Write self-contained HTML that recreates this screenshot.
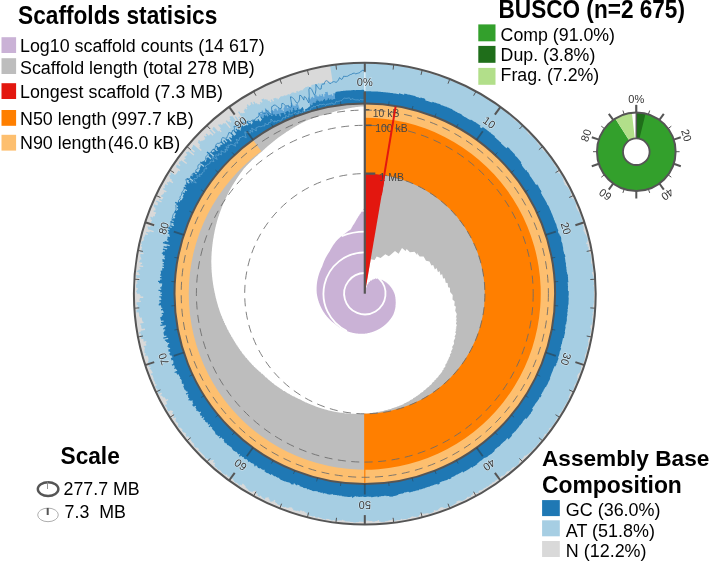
<!DOCTYPE html>
<html><head><meta charset="utf-8"><title>Snail plot</title>
<style>html,body{margin:0;padding:0;background:#fff}svg{display:block}text{font-family:"Liberation Sans",sans-serif}</style>
</head><body><svg width="709" height="562" viewBox="0 0 709 562"><circle cx="364.8" cy="293.7" r="230.9" fill="#a6cee3"/>
<circle cx="364.8" cy="293.7" r="190.3" fill="#bdbdbd"/>
<path d="M364.8,293.7L370.7,259.2L374.6,260.1L376.7,256.6L380.6,258.1L385.3,254.2L388.9,256.3L395,250.9L398.6,253.7L402,247.9L405.6,251.1L406.7,249L409.9,252.2L414.5,251.7L417.3,255.2L416.8,252.7L419.6,256.4L423.6,256.5L426,260.7L429.5,261.4L431.4,265.5L433.2,265L434.9,269.4L436.6,268.1L438,272.2L439.5,271L440.6,275.2L442.1,274L443.1,278.4L444.9,278.2L445.7,282.7L447.6,283L448.1,287.2L449.9,287.7L450.1,292L452.7,295L452.5,299.4L454.7,301.6L454.3,305.6L455.9,306.8L455.2,310.8L456.8,314L455.8,318L456.9,317.3L455.8,321.3L457,320.3L455.9,323.7L456.9,325L455.6,328.4L456.8,327.1L455.4,330.5L456.6,329.2L455.2,332.6L456.1,333.5L454.5,336.9L455.4,337.6L453.7,340.9L454.1,343.8L452.1,347.1L452.7,348.6L451,351.4L451.6,352.2L449.7,354.9L450.3,355.7L448.3,358.4L449.2,358.3L447.2,360.9L448.5,359.9L446.4,362.5L447.5,362.2L445.3,364.8L445.4,366.4L443.1,368.9L444.2,368.7L441.8,371.2L442.5,371.6L440,374L441.4,373L438.9,375.4L438.1,377.1L435.5,379.3L436.5,378.9L433.8,381.1L434.6,381.1L432.3,382.8L431.5,384.2L429.2,385.9L429.2,386.4L426.8,388L425.9,389.3L423.5,390.8L423.1,391.7L420.6,393.1L419.9,394.1L417.4,395.5L418.5,395.2L415.9,396.5L415.7,397.1L413.1,398.3L413,398.9L410.4,400.1L409.1,401.2L406.4,402.3L406.7,402.6L404,403.6L403.5,404.2L400.7,405.2L402,404.9L399.2,405.8L399.3,405.9L396.5,406.8L396.9,406.9L394,407.6L395,407.5L392.1,408.3L390.8,408.9L387.9,409.5L388,409.7L385.1,410.2L383.2,410.9L380.2,411.4L379.7,411.7L376.7,412L376,412.4L373.1,412.6L372.3,412.9L369.3,413.1L368.4,413.4L365.3,413.4L366.3,413.6L363.3,413.6L363.2,413.8L360.2,413.7L360.8,413.9L357.8,413.7L357.8,413.9L354.8,413.7L356,413.9L353,413.7L350.9,413.8L347.9,413.4L348.6,413.6L346.4,413.3L345.7,413.4L343.4,413L343.7,413.1L341.4,412.7L340.2,412.7L337.9,412.2L337.2,412.2L335,411.7L335.7,412L333.5,411.4L332.3,411.3L330.1,410.7L328.7,410.5L326.5,409.7L325.1,409.5L322.9,408.8L322.5,408.8L320.3,408L321,408.3L318.8,407.5L319.4,407.8L317.2,406.9L315.8,406.6L313.7,405.6L313.3,405.6L311.2,404.6L311.8,405L309.7,404L308.4,403.6L306.3,402.5L305.7,402.4L303.7,401.2L303.2,401.2L301.2,400L301.2,400.1L299.2,398.9L299.1,399.2L297.1,397.9L297.4,398.4L295.4,397.1L296.2,397.9L294.3,396.6L292.9,396.2L291,394.9L290.7,395L288.8,393.6L288.3,393.7L286.4,392.2L286.4,392.6L284.6,391.1L283.5,390.9L281.7,389.3L282.5,390.2L280.7,388.6L280.6,388.9L278.8,387.3L279.5,388.2L277.7,386.6L278.2,387.3L276.4,385.7L274.9,384.9L273.2,383.2L272.4,383L270.8,381.3L270.5,381.5L268.9,379.7L268.4,379.7L266.8,377.8L265.5,377.2L264,375.3L263.9,375.6L262.4,373.7L261.6,373.7L260.1,371.7L259.1,371.5L257.6,369.5L257.3,369.9L256.4,368.5L255.9,368.6L255,367.2L254.2,366.9L253.3,365.5L252.3,365L251.4,363.6L251.5,364.1L250.6,362.7L249.6,362.1L248.8,360.6L249.1,361.4L248.2,360L247.5,359.6L246.6,358.1L245.8,357.7L245,356.2L245.1,356.8L244.3,355.3L244,355.4L243.2,353.9L242.4,353.4L241.7,351.9L241.9,352.7L241.1,351.1L240.6,350.9L239.9,349.4L239.1,348.8L238.4,347.3L238,347.2L237.3,345.6L236.6,345.2L236,343.6L235.9,344.1L235.3,342.4L235.2,342.9L234.6,341.3L234.3,341.5L233.7,339.9L233.7,340.4L233.1,338.8L232.8,339L232.3,337.4L231.3,336.5L230.8,334.8L230.2,334.6L229.7,332.9L229.4,333.2L229,331.5L228.7,331.9L228.3,330.2L227.3,329.2L226.9,327.5L226.5,327.5L226.1,325.8L225.1,324.8L224.8,323L224.3,322.9L223.9,321.1L223.4,321L223.1,319.2L222.3,318.3L222,316.5L221.4,315.9L221.2,315L221,314.8L220.8,313.9L220.6,313.9L220.5,313L220.1,312.6L220,311.7L219.8,311.7L219.7,310.8L219.3,310.3L219.2,309.4L219.2,309.8L219.1,308.8L218.9,308.8L218.8,307.9L218.5,307.8L218.4,306.9L218.1,306.4L218,305.4L217.8,305.6L217.8,304.7L217.5,304.3L217.4,303.4L217.1,303.1L217.1,302.2L216.8,301.8L216.7,300.9L216.5,300.7L216.4,299.8L216.1,299.1L216,298.2L215.9,298.3L215.8,297.4L215.6,297.4L215.6,296.5L215.5,296.7L215.5,295.8L215.3,296.2L215.3,295.2L215.2,295.5L215.2,294.5L214.9,294L214.9,293L214.5,292.6L214.6,291.6L214.4,292L214.4,291L214.2,290.8L214.2,289.8L214,289.8L214,288.8L213.8,288.6L213.8,287.7L213.5,287.4L213.6,286.4L213.4,286.5L213.4,285.6L213.1,284.9L213.2,284L213,283.9L213,283L212.8,282.7L212.9,281.8L212.6,281.5L212.7,280.5L212.5,280.8L212.6,279.8L212.4,280.2L212.5,279.3L212.3,279.2L212.4,278.3L212.2,277.9L212.3,276.9L212,276.4L212.1,275.4L211.9,275.1L212,274.1L211.8,274.4L211.9,273.5L211.7,272.8L211.8,271.9L211.6,271.4L211.7,270.4L211.5,269.9L211.6,268.9L211.4,268.7L211.6,267.8L211.4,267.1L211.5,266.2L211.3,266.6L211.5,265.6L211.3,266L211.5,265.1L211.3,265.5L211.5,264.5L211.3,264.7L211.5,263.7L211.3,263.9L211.4,262.9L211.2,263.2L211.4,262.2L211.2,262L211.4,261L211.2,261.4L211.4,260.5L211.2,260.2L211.5,259.3L211.3,259.5L211.5,258.6L211.3,258.2L211.5,257.2L211.3,257.7L211.5,256.7L211.3,256.8L211.6,255.8L211.4,255.1L211.7,254.2L211.5,254L211.7,253L211.6,252.5L211.8,251.5L211.7,251.2L212,250.2L211.8,249.9L212.1,249L211.9,249.2L212.1,248.2L212,248L212.3,247L212,247.4L212.3,246.5L212.2,245.9L212.5,245L212.4,244.3L212.7,243.3L212.6,242.7L212.9,241.7L212.7,242.1L213,241.2L212.8,241.2L213.1,240.3L212.9,240.3L213.2,239.4L213,239.7L213.4,238.7L213.2,238.4L213.6,237.4L213.5,236.9L213.8,236L213.6,236L214,235.1L213.9,234.4L214.3,233.5L214.2,233L214.6,232L214.3,232.3L214.7,231.3L214.6,230.8L215,229.9L215,229.3L215.4,228.3L215.1,228.5L215.5,227.6L215.4,227.3L215.8,226.4L215.7,226L216.1,225.1L216,224.7L216.5,223.8L216.2,224.1L216.6,223.2L216.5,222.8L217,221.9L216.9,221.5L217.3,220.6L217.3,220L217.8,219.1L217.8,218.6L218.2,217.6L218,217.7L218.5,216.7L218.5,216.3L219,215.4L219,214.8L219.5,213.8L219.6,213.2L220.1,212.3L219.8,212.5L220.3,211.6L220,212L220.5,211.1L220.5,210.7L221,209.8L220.7,209.9L221.3,209L221.2,208.8L221.7,207.9L221.8,207.1L222.4,206.2L222.2,206.2L222.7,205.3L222.5,205.4L223.1,204.5L222.9,204.4L223.5,203.5L223.5,203.1L224,202.2L223.7,202.5L224.3,201.6L224.1,201.6L224.7,200.7L224.4,200.9L225,200L225,199.6L225.6,198.8L225.7,198.2L226.3,197.3L226.1,197.3L226.7,196.4L226.6,196.3L227.2,195.5L227.1,195.2L227.7,194.4L227.5,194.5L228.1,193.6L227.8,193.7L228.5,192.9L228.3,192.9L228.9,192L228.8,191.8L229.4,191L229.1,191.3L229.7,190.4L229.8,189.9L230.5,189.1L230.5,188.8L231.1,188L230.9,188L231.6,187.2L231.2,187.4L231.9,186.6L232,186.1L232.7,185.3L232.4,185.5L233.1,184.7L232.7,184.9L233.4,184.1L233.1,184.3L233.8,183.5L233.5,183.7L234.1,182.9L234.4,182.3L235.1,181.4L234.8,181.5L235.6,180.7L235.4,180.7L236.1,179.9L236.2,179.3L237,178.5L237,178.2L237.7,177.4L237.4,177.5L238.2,176.7L238.1,176.6L238.8,175.8L239,175.2L239.8,174.4L239.6,174.3L240.4,173.6L240.5,173.1L241.3,172.4L240.9,172.6L241.7,171.8L241.8,171.4L242.6,170.6L242.7,170.1L243.5,169.3L243.7,168.8L244.5,168L244.7,167.7L245.5,167L245.4,167L246.2,166.2L245.8,166.5L246.6,165.8L246.7,165.6L247.5,164.9L247.7,164.5L248.6,163.8L248.3,163.9L249.1,163.2L248.9,163.3L249.8,162.6L249.8,162.4L250.7,161.7L250.9,161.3L251.8,160.6L252.2,160.1L253,159.4L252.7,159.6L253.5,158.9L253.3,159.1L254.1,158.4L254.4,158L255.3,157.3L255.5,157L256.3,156.4L256.6,156L257.5,155.4L258,154.8L258.9,154.1L259.4,153.6L260.2,153L260.6,152.6L261.5,151.9L261.8,151.5L262.7,150.9L262.6,150.8L263.5,150.1L263.7,149.8L264.6,149.2L264.3,149.3L265.2,148.6L265.4,148.2L266.3,147.6L266.6,147.2L267.5,146.5L267.7,146.1L268.7,145.5L268.6,145.4L269.6,144.8L269.4,144.7L270.4,144.1L270.3,144L271.2,143.4L270.8,143.6L271.7,143L272.1,142.5L273,141.9L273.1,141.7L274,141.1L273.9,141L274.9,140.4L275,140.2L275.9,139.6L276.2,139.3L277.1,138.7L277,138.6L278,138.1L278.4,137.6L279.4,137L279.8,136.5L280.8,136L280.7,135.9L281.7,135.3L281.3,135.4L282.3,134.9L282.7,134.5L283.7,134L284.2,133.4L285.2,132.9L284.9,133L285.9,132.5L286.2,132.1L287.2,131.6L287.6,131.2L288.6,130.7L289.1,130.2L290.2,129.7L289.7,129.8L290.8,129.3L290.3,129.4L291.4,129L292,128.4L293,128L292.6,128L293.6,127.6L293.3,127.6L294.4,127.2L294.5,126.9L295.5,126.5L295.5,126.3L296.6,125.9L296.9,125.5L298,125.1L297.6,125.1L298.7,124.7L299.2,124.2L300.3,123.8L300,123.8L301.1,123.4L301.5,123L302.5,122.7L302.1,122.7L303.1,122.3L303.1,122.2L304.2,121.8L303.7,121.9L304.8,121.5L304.6,121.4L305.7,121L305.5,121L306.6,120.6L307,120.4L308.1,120L308.1,120L309.2,119.6L308.7,119.7L309.8,119.4L310.5,119.1L311.6,118.7L312.2,118.5L313.3,118.1L314,117.8L315.1,117.5L314.8,117.6L315.9,117.2L315.9,117.2L317,116.9L316.7,116.9L317.9,116.6L317.5,116.7L318.6,116.4L318,116.5L319.2,116.2L319.3,116.1L320.4,115.8L320,115.9L321.1,115.6L320.8,115.7L321.9,115.4L322.5,115.2L323.6,114.9L323.7,114.8L324.8,114.6L324.5,114.6L325.6,114.3L325.9,114.2L327,114L326.8,113.9L328,113.7L328.1,113.5L329.2,113.3L329,113.2L330.1,113L330.3,112.9L331.4,112.6L331.7,112.4L332.8,112.2L332.9,112.1L334.1,111.9L334,111.8L335.2,111.6L335.7,111.3L336.8,111.1L337.4,110.8L338.5,110.7L338.2,110.6L339.4,110.5L339,110.4L340.1,110.3L339.7,110.3L340.8,110.1L341.6,109.8L342.7,109.7L343.4,109.4L344.6,109.2L344.3,109.2L345.5,109.1L346.2,108.8L347.4,108.7L347.1,108.6L348.3,108.5L348.4,108.3L349.6,108.2L349.7,108.1L350.8,108L351.5,107.8L352.7,107.7L352.1,107.6L353.3,107.6L353.2,107.5L354.3,107.4L354.6,107.2L355.8,107.2L355.3,107.1L356.4,107.1L356.2,107L357.3,107L357.4,106.9L358.6,106.8L359.2,106.7L360.4,106.6L360.9,106.5L362.1,106.5L362.6,106.4L363.8,106.4L364.3,106.2L364.8,106.2Z" fill="#ffffff"/>
<path d="M364.8,103.4A190.3,190.3 0 0 1 396.9,106.1L364.8,293.7Z" fill="#e3170f"/>
<path d="M364.8,103.4A190.3,190.3 0 0 1 364.8,484L364.8,413.7A120,120 0 0 0 364.8,173.7Z" fill="#ff7f00"/>
<path d="M364.8,103.4A190.3,190.3 0 1 1 252.9,139.7L261.3,151.3A176,176 0 1 0 364.8,117.7Z" fill="#fdbf6f"/>
<line x1="364.8" y1="413.7" x2="364.8" y2="484" stroke="#ff7f00" stroke-width="1.2"/>
<circle cx="364.8" cy="293.7" r="183.6" fill="none" stroke="#6a6a6a" stroke-width="0.85" stroke-dasharray="8 5.5"/>
<circle cx="364.8" cy="293.7" r="168.4" fill="none" stroke="#6a6a6a" stroke-width="0.85" stroke-dasharray="8 5.5"/>
<circle cx="364.8" cy="293.7" r="120.1" fill="none" stroke="#6a6a6a" stroke-width="0.85" stroke-dasharray="8 5.5"/>
<path d="M364.8,293.7L364.8,293.7L364.8,293.7L365.9,287.6L365.9,287.6L365.9,287.6L366,287.6L366,287.6L366,287.6L366,287.6L366,287.6L366,287.6L366.1,287.6L366.1,287.6L366.1,287.6L366.1,287.6L366.2,287.6L366.2,287.6L366.2,287.6L366.2,287.6L366.2,287.6L366.2,287.6L366.3,287.6L366.3,287.6L366.3,287.7L366.3,287.7L366.3,287.7L366.3,287.7L366.4,287.7L366.4,287.7L366.4,287.7L367.4,284.2L367.4,284.2L367.4,284.2L367.5,284.2L367.5,284.2L367.6,284.2L367.6,284.2L367.6,284.2L367.6,284.2L367.7,284.3L367.7,284.3L367.7,284.3L367.7,284.3L367.8,284.3L367.8,284.3L367.9,284.3L367.9,284.3L367.9,284.3L367.9,284.3L368,284.3L368.8,281.9L368.9,281.9L368.9,281.9L368.9,281.9L368.9,281.9L369,282L369,282L369.1,282L369.1,282L369.2,282L369.2,282L369.2,282.1L369.2,282.1L369.3,282.1L369.3,282.1L369.4,282.1L369.4,282.1L369.5,282.1L369.5,282.1L369.5,282.2L369.5,282.2L369.6,282.2L370.4,280.4L370.5,280.4L370.5,280.4L370.5,280.4L370.5,280.4L370.6,280.5L370.6,280.5L370.7,280.5L370.7,280.5L370.8,280.5L370.8,280.5L370.9,280.6L370.9,280.6L371,280.6L371,280.6L371,280.6L371,280.6L371.1,280.7L371.1,280.7L371.2,280.7L371.2,280.7L371.3,280.8L371.3,280.8L371.4,280.8L371.4,280.8L371.4,280.8L372.2,279.4L372.3,279.4L372.3,279.4L372.4,279.5L372.4,279.5L372.5,279.5L372.5,279.5L372.6,279.6L372.6,279.6L372.6,279.6L372.6,279.6L372.7,279.7L372.7,279.7L372.8,279.7L372.8,279.7L372.9,279.8L372.9,279.8L373,279.8L373,279.8L373.1,279.9L373.8,278.7L373.9,278.8L373.9,278.8L374,278.8L374,278.8L374.1,278.9L374.1,278.9L374.2,278.9L374.2,278.9L374.3,279L374.3,279L374.4,279L374.4,279L374.5,279.1L374.5,279.1L374.5,279.2L374.5,279.2L374.6,279.2L375.3,278.2L375.4,278.3L375.4,278.3L375.5,278.4L375.5,278.4L375.6,278.4L375.6,278.4L375.7,278.5L375.7,278.5L375.8,278.6L375.8,278.6L375.9,278.6L375.9,278.6L376,278.7L376,278.7L376.1,278.8L376.1,278.8L376.2,278.9L376.2,278.9L376.3,278.9L376.3,278.9L376.4,279L376.4,279L376.4,279.1L376.4,279.1L376.5,279.1L377.2,278.3L377.3,278.4L377.3,278.4L377.4,278.5L377.4,278.5L377.5,278.6L377.5,278.6L377.6,278.6L377.6,278.6L377.7,278.7L377.7,278.7L377.8,278.8L377.8,278.8L377.9,278.9L377.9,278.9L378,279L378,279L378,279L378,279L378.1,279.1L378.1,279.1L378.2,279.2L378.2,279.2L378.3,279.3L378.3,279.3L378.4,279.4L379.1,278.7L379.2,278.8L379.2,278.8L379.3,278.9L379.3,278.9L379.3,279L379.3,279L379.4,279.1L379.4,279.1L379.5,279.2L379.5,279.2L379.6,279.2L379.6,279.2L379.7,279.3L379.7,279.3L379.8,279.4L379.8,279.4L379.9,279.5L379.9,279.5L380,279.6L380,279.6L380.1,279.7L380.1,279.7L380.2,279.8L380.8,279.2L380.9,279.3L380.9,279.3L381,279.4L381,279.4L381.1,279.5L381.1,279.5L381.1,279.6L381.1,279.6L381.2,279.8L381.2,279.8L381.3,279.9L381.3,279.9L381.4,280L381.4,280L381.5,280.1L381.5,280.1L381.6,280.2L381.6,280.2L381.7,280.3L382.3,279.8L382.4,279.9L382.4,279.9L382.5,280L382.5,280L382.5,280.1L382.5,280.1L382.6,280.2L382.6,280.2L382.7,280.3L382.7,280.3L382.8,280.5L382.8,280.5L382.9,280.6L382.9,280.6L383,280.7L383,280.7L383,280.8L383,280.8L383.1,280.9L383.7,280.5L383.8,280.6L383.8,280.6L383.9,280.7L383.9,280.7L384,280.9L384,280.9L384,281L384,281L384.1,281.1L384.1,281.1L384.2,281.2L384.2,281.2L384.3,281.3L384.3,281.3L384.3,281.5L384.3,281.5L384.4,281.6L385,281.2L385.1,281.4L385.1,281.4L385.1,281.5L385.1,281.5L385.2,281.6L385.2,281.6L385.3,281.8L385.3,281.8L385.4,281.9L385.4,281.9L385.4,282L385.4,282L385.5,282.1L385.5,282.1L385.6,282.3L385.6,282.3L385.7,282.4L386.2,282.1L386.3,282.2L386.3,282.2L386.4,282.4L386.4,282.4L386.4,282.5L386.4,282.5L386.5,282.6L386.5,282.6L386.6,282.8L386.6,282.8L386.6,282.9L386.6,282.9L386.7,283.1L386.7,283.1L386.8,283.2L387.3,282.9L387.4,283.1L387.4,283.1L387.4,283.2L387.4,283.2L387.5,283.4L387.5,283.4L387.5,283.5L387.5,283.5L387.6,283.7L387.6,283.7L387.7,283.8L387.7,283.8L387.7,283.9L387.7,283.9L387.8,284.1L388.3,283.9L388.4,284L388.4,284L388.4,284.2L388.4,284.2L388.5,284.3L388.5,284.3L388.5,284.5L388.5,284.5L388.6,284.6L388.6,284.6L388.7,284.8L388.7,284.8L388.7,284.9L389.2,284.7L389.2,284.9L389.2,284.9L389.3,285.1L389.3,285.1L389.4,285.2L389.4,285.2L389.4,285.4L389.4,285.4L389.5,285.5L389.5,285.5L389.5,285.7L389.5,285.7L389.6,285.8L390,285.7L390.1,285.8L390.1,285.8L390.1,286L390.1,286L390.2,286.2L390.2,286.2L390.2,286.3L390.2,286.3L390.3,286.5L390.3,286.5L390.3,286.6L390.3,286.6L390.4,286.8L390.8,286.7L390.8,286.8L390.8,286.8L390.9,287L390.9,287L390.9,287.2L390.9,287.2L391,287.3L391,287.3L391,287.5L391,287.5L391,287.7L391.5,287.6L391.5,287.7L391.5,287.7L391.5,287.9L391.5,287.9L391.6,288.1L391.6,288.1L391.6,288.2L391.6,288.2L391.7,288.4L391.7,288.4L391.7,288.6L392.1,288.5L392.1,288.7L392.1,288.7L392.2,288.8L392.2,288.8L392.2,289L392.2,289L392.2,289.2L392.2,289.2L392.2,289.4L392.2,289.4L392.3,289.5L392.7,289.5L392.7,289.6L392.7,289.6L392.7,289.8L392.7,289.8L392.7,290L392.7,290L392.8,290.2L392.8,290.2L392.8,290.3L393.2,290.3L393.2,290.5L393.2,290.5L393.2,290.7L393.2,290.7L393.2,290.8L393.2,290.8L393.2,291L393.2,291L393.3,291.2L393.3,291.2L393.3,291.4L393.6,291.3L393.7,291.5L393.7,291.5L393.7,291.7L393.7,291.7L393.7,291.9L393.7,291.9L393.7,292.1L393.7,292.1L393.7,292.2L394.1,292.2L394.1,292.4L394.1,292.4L394.1,292.6L394.1,292.6L394.1,292.8L394.1,292.8L394.1,293L394.1,293L394.1,293.1L394.4,293.1L394.4,293.3L394.4,293.3L394.4,293.5L394.4,293.5L394.4,293.7L394.4,293.7L394.4,293.9L394.4,293.9L394.4,294.1L394.8,294.1L394.8,294.3L394.8,294.3L394.7,294.5L394.7,294.5L394.7,294.6L394.7,294.6L394.7,294.8L394.7,294.8L394.7,295L395,295L395,295.2L395,295.2L395,295.4L395,295.4L395,295.6L395,295.6L395,295.8L395,295.8L395,296L395,296L395,296.2L395.3,296.2L395.3,296.4L395.3,296.4L395.2,296.6L395.2,296.6L395.2,296.8L395.2,296.8L395.2,297L395.2,297L395.2,297.2L395.5,297.2L395.5,297.4L395.5,297.4L395.4,297.6L395.4,297.6L395.4,297.8L395.4,297.8L395.4,298L395.4,298L395.3,298.1L395.3,298.1L395.3,298.3L395.6,298.4L395.6,298.6L395.6,298.6L395.5,298.8L395.5,298.8L395.5,299L395.5,299L395.5,299.2L395.5,299.2L395.4,299.3L395.7,299.4L395.7,299.6L395.7,299.6L395.6,299.8L395.6,299.8L395.6,300L395.6,300L395.6,300.2L395.6,300.2L395.5,300.4L395.8,300.4L395.7,300.6L395.7,300.6L395.7,300.8L395.7,300.8L395.6,301L395.6,301L395.6,301.2L395.6,301.2L395.6,301.4L395.8,301.5L395.8,301.6L395.8,301.6L395.7,301.8L395.7,301.8L395.7,302L395.7,302L395.6,302.2L395.8,302.3L395.8,302.5L395.8,302.5L395.7,302.7L395.7,302.7L395.7,302.9L395.7,302.9L395.6,303.1L395.6,303.1L395.6,303.3L395.8,303.3L395.7,303.5L395.7,303.5L395.7,303.7L395.7,303.7L395.6,303.9L395.6,303.9L395.5,304.1L395.8,304.2L395.7,304.4L395.7,304.4L395.6,304.6L395.6,304.6L395.6,304.8L395.6,304.8L395.5,305L395.7,305.1L395.6,305.2L395.6,305.2L395.6,305.4L395.6,305.4L395.5,305.6L395.5,305.6L395.4,305.8L395.4,305.8L395.3,306L395.6,306.1L395.5,306.3L395.6,306.3L395.5,306.5L395.5,306.5L395.5,306.7L395.5,306.8L395.4,307L395.5,307L395.4,307.2L395.4,307.2L395.4,307.4L395.4,307.4L395.3,307.6L395.4,307.6L395.3,307.8L395.3,307.8L395.2,308L395.3,308L395.2,308.2L395.2,308.3L395.2,308.5L395.2,308.5L395.1,308.7L395.2,308.7L395.1,308.9L395.1,308.9L395,309.1L395.1,309.1L395,309.3L395,309.3L394.9,309.5L395,309.6L394.9,309.7L394.9,309.8L394.8,310L394.9,310L394.8,310.2L394.8,310.2L394.7,310.4L394.7,310.4L394.6,310.6L394.7,310.6L394.6,310.8L394.6,310.8L394.5,311L394.6,311.1L394.5,311.2L394.5,311.3L394.4,311.5L394.4,311.5L394.3,311.7L394.4,311.7L394.3,311.9L394.3,311.9L394.2,312.1L394.2,312.1L394.1,312.3L394.2,312.3L394,312.5L394.1,312.6L394,312.7L394,312.8L393.9,312.9L393.9,313L393.8,313.2L393.9,313.2L393.7,313.4L393.8,313.4L393.7,313.6L393.7,313.6L393.6,313.8L393.6,313.8L393.5,314L393.5,314L393.4,314.2L393.5,314.3L393.3,314.4L393.4,314.5L393.2,314.6L393.3,314.7L393.2,314.9L393.2,314.9L393.1,315.1L393.1,315.1L392.9,315.3L393,315.3L392.8,315.4L392.9,315.5L392.7,315.6L392.7,315.7L392.6,315.8L392.6,315.9L392.5,316L392.5,316L392.4,316.2L392.4,316.2L392.3,316.4L392.3,316.4L392.1,316.6L392.2,316.6L392,316.8L392,316.8L391.9,317L391.9,317L391.8,317.2L391.8,317.2L391.6,317.4L391.7,317.4L391.5,317.6L391.5,317.6L391.4,317.7L391.4,317.8L391.3,317.9L391.3,318L391.1,318.1L391.2,318.1L391,318.3L391,318.3L390.9,318.5L390.9,318.5L390.7,318.7L390.8,318.7L390.6,318.9L390.6,318.9L390.5,319L390.5,319.1L390.3,319.2L390.3,319.2L390.2,319.4L390.2,319.4L390,319.6L390.1,319.6L389.9,319.8L389.9,319.8L389.8,319.9L389.8,320L389.6,320.1L389.6,320.2L389.5,320.3L389.5,320.3L389.3,320.5L389.3,320.5L389.2,320.7L389.2,320.7L389,320.8L389,320.9L388.9,321L388.9,321L388.7,321.2L388.7,321.2L388.6,321.4L388.6,321.4L388.4,321.5L388.4,321.6L388.3,321.7L388.3,321.7L388.1,321.9L388.1,321.9L387.9,322L388,322.1L387.8,322.2L387.8,322.2L387.6,322.4L387.6,322.4L387.5,322.5L387.5,322.6L387.3,322.7L387.3,322.7L387.1,322.9L387.2,322.9L387,323L387,323.1L386.8,323.2L386.8,323.2L386.6,323.4L386.7,323.4L386.5,323.5L386.5,323.6L386.3,323.7L386.3,323.7L386.1,323.9L386.2,323.9L386,324L386,324L385.8,324.2L385.8,324.2L385.6,324.3L385.6,324.4L385.4,324.5L385.5,324.5L385.3,324.6L385.3,324.7L385.1,324.8L385.1,324.8L384.9,324.9L384.9,325L384.7,325.1L384.7,325.1L384.5,325.2L384.6,325.3L384.4,325.4L384.4,325.4L384.2,325.5L384.2,325.6L384,325.7L384,325.7L383.8,325.8L383.8,325.9L383.6,326L383.6,326L383.4,326.1L383.4,326.2L383.2,326.3L383.3,326.3L383.1,326.4L383.1,326.4L382.9,326.6L382.9,326.6L382.7,326.7L382.7,326.7L382.5,326.8L382.5,326.9L382.3,327L382.3,327L382.1,327.1L382.1,327.1L381.9,327.2L381.9,327.3L381.7,327.4L381.7,327.4L381.5,327.5L381.5,327.5L381.3,327.6L381.3,327.7L381.1,327.8L381.1,327.8L380.9,327.9L380.9,327.9L380.7,328L380.7,328.1L380.5,328.2L380.5,328.2L380.3,328.3L380.3,328.3L380.1,328.4L380.1,328.4L379.9,328.5L379.9,328.6L379.7,328.7L379.7,328.7L379.5,328.8L379.5,328.8L379.3,328.9L379.3,328.9L379,329L379.1,329L378.8,329.1L378.8,329.2L378.6,329.3L378.6,329.3L378.4,329.4L378.4,329.4L378.2,329.5L378.2,329.5L378,329.6L378,329.6L377.8,329.7L377.8,329.7L377.5,329.8L377.6,329.8L377.3,329.9L377.3,330L377.1,330L377.1,330.1L376.9,330.1L376.9,330.2L376.7,330.2L376.7,330.3L376.5,330.3L376.5,330.4L376.2,330.4L376.2,330.5L376,330.5L376,330.6L375.8,330.6L375.8,330.7L375.6,330.7L375.6,330.8L375.3,330.8L375.3,330.9L375.1,330.9L375.1,331L374.9,331L374.9,331.1L374.7,331.1L374.7,331.2L374.4,331.2L374.4,331.2L374.2,331.3L374.2,331.3L374,331.4L374,331.4L373.7,331.5L373.8,331.5L373.5,331.6L373.5,331.6L373.3,331.6L373.3,331.7L373.1,331.7L373.1,331.8L372.8,331.8L372.8,331.8L372.6,331.9L372.6,331.9L372.4,332L372.4,332L372.1,332L372.1,332.1L371.9,332.1L371.9,332.2L371.6,332.2L371.6,332.2L371.4,332.3L371.4,332.3L371.2,332.3L371.2,332.4L370.9,332.4L370.9,332.4L370.7,332.5L370.7,332.5L370.5,332.5L370.5,332.6L370.2,332.6L370.2,332.6L370,332.7L370,332.7L369.7,332.7L369.7,332.8L369.5,332.8L369.5,332.8L369.2,332.9L369.3,332.9L369,332.9L369,332.9L368.8,333L368.8,333L368.5,333L368.5,333.1L368.3,333.1L368.3,333.1L368,333.1L368,333.2L367.8,333.2L367.8,333.2L367.5,333.2L367.5,333.3L367.3,333.3L367.3,333.3L367,333.3L367,333.4L366.8,333.4L366.8,333.4L366.5,333.4L366.5,333.4L366.3,333.5L366.3,333.5L366.1,333.5L366.1,333.5L365.8,333.5L365.8,333.6L365.6,333.6L365.6,333.6L365.3,333.6L365.3,333.6L365.1,333.6L365.1,333.7L364.8,333.7L364.8,333.7L364.5,333.7L364.5,333.7L364.3,333.7L364.3,333.7L364,333.7L364,333.8L363.8,333.7L363.8,333.8L363.5,333.8L363.5,333.8L363.3,333.8L363.3,333.8L363,333.8L363,333.8L362.8,333.8L362.8,333.8L362.5,333.8L362.5,333.8L362.3,333.8L362.3,333.8L362,333.8L362,333.8L361.8,333.8L361.8,333.8L361.5,333.8L361.5,333.8L361.3,333.8L361.3,333.8L361,333.8L361,333.8L360.8,333.8L360.8,333.8L360.5,333.8L360.5,333.8L360.2,333.8L360.2,333.8L360,333.8L360,333.8L359.7,333.8L359.7,333.8L359.5,333.7L359.5,333.8L359.2,333.7L359.2,333.8L359,333.7L359,333.7L358.7,333.7L358.7,333.7L358.5,333.7L358.5,333.7L358.2,333.7L358.2,333.7L358,333.6L358,333.7L357.7,333.6L357.7,333.6L357.5,333.6L357.4,333.6L357.2,333.6L357.2,333.6L356.9,333.5L356.9,333.6L356.7,333.5L356.7,333.5L356.4,333.5L356.4,333.5L356.2,333.4L356.2,333.5L355.9,333.4L355.9,333.4L355.7,333.4L355.7,333.4L355.4,333.3L355.4,333.3L355.2,333.3L355.2,333.3L354.9,333.2L354.9,333.3L354.7,333.2L354.7,333.2L354.4,333.2L354.4,333.2L354.2,333.1L354.1,333.1L353.9,333.1L353.9,333.1L353.6,333L353.6,333L353.4,333L353.4,333L353.1,332.9L353.1,332.9L352.9,332.8L352.9,332.9L352.6,332.8L352.6,332.8L352.4,332.7L352.4,332.8L352.1,332.7L352.1,332.7L351.9,332.6L351.9,332.6L351.6,332.5L351.6,332.6L351.4,332.5L351.4,332.5L351.1,332.4L351.1,332.4L350.9,332.4L350.9,332.4L350.6,332.3L350.6,332.3L350.4,332.2L350.4,332.2L350.1,332.1L350.1,332.2L349.9,332.1L349.9,332.1L349.6,332L349.6,332L349.4,331.9L349.4,331.9L349.1,331.8L349.1,331.9L348.9,331.8L348.9,331.8L348.7,331.7L348.6,331.7L348.4,331.6L348.4,331.6L348.2,331.5L348.2,331.5L347.9,331.4L347.9,331.4L347.7,331.3L347.7,331.3L347.4,331.2L347.4,331.3L347.2,331.1L347.2,331.2L346.9,331L346.9,331.1L346.7,331L346.7,331L346.5,330.9L346.4,330.9L346.2,330.8L346.2,330.8L346,330.7L346,330.7L345.7,330.6L345.7,330.6L345.5,330.5L345.5,330.5L345.2,330.4L345.2,330.4L345,330.2L345,330.3L344.8,330.1L344.8,330.2L344.5,330L344.5,330L344.3,329.9L344.3,329.9L344.1,329.8L344,329.8L343.8,329.7L343.8,329.7L343.6,329.6L343.6,329.6L343.3,329.5L343.3,329.5L343.1,329.3L343.1,329.4L342.9,329.2L342.9,329.2L342.6,329.1L342.6,329.1L342.4,329L342.4,329L342.2,328.9L342.2,328.9L341.9,328.7L341.9,328.7L341.7,328.6L341.7,328.6L341.5,328.5L341.5,328.5L341.3,328.3L341.2,328.4L341,328.2L341,328.2L340.8,328.1L340.8,328.1L340.6,327.9L340.6,328L340.4,327.8L340.3,327.8L340.1,327.7L340.1,327.7L339.9,327.5L339.9,327.5L339.7,327.4L339.7,327.4L339.5,327.2L339.4,327.3L339.2,327.1L339.2,327.1L339,326.9L339,327L338.8,326.8L338.8,326.8L338.6,326.7L338.6,326.7L338.3,326.5L338.3,326.5L338.1,326.4L338.1,326.4L337.9,326.2L337.9,326.2L337.7,326L337.7,326.1L337.5,325.9L337.5,325.9L337.3,325.7L337.3,325.7L337.1,325.6L337,325.6L336.8,325.4L336.8,325.4L336.6,325.3L336.6,325.3L336.4,325.1L336.4,325.1L336.2,324.9L336.2,324.9L336,324.8L336,324.8L335.8,324.6L335.8,324.6L335.6,324.4L335.6,324.4L335.4,324.3L335.4,324.3L335.2,324.1L335.2,324.1L335,323.9L335,323.9L334.8,323.7L334.7,323.8L334.6,323.6L334.5,323.6L334.3,323.4L334.3,323.4L334.1,323.2L334.1,323.3L333.9,323.1L333.9,323.1L333.7,322.9L333.7,322.9L333.5,322.7L333.4,322.8L333.3,322.6L333.2,322.6L333,322.4L333,322.4L332.8,322.2L332.8,322.3L332.6,322.1L332.6,322.1L332.4,321.9L332.4,321.9L332.2,321.7L332.2,321.7L332,321.5L332,321.6L331.8,321.4L331.8,321.4L331.6,321.2L331.5,321.2L331.4,321L331.3,321L331.2,320.8L331.1,320.8L331,320.6L330.9,320.7L330.8,320.4L330.7,320.5L330.6,320.3L330.5,320.3L330.4,320.1L330.3,320.1L330.2,319.9L330.1,319.9L330,319.7L329.9,319.7L329.8,319.5L329.7,319.5L329.6,319.3L329.5,319.3L329.4,319.1L329.3,319.1L329.2,318.9L329.1,318.9L329,318.7L328.9,318.7L328.8,318.5L328.7,318.5L328.6,318.3L328.6,318.3L328.4,318.1L328.4,318.1L328.2,317.9L328.2,317.9L328,317.7L328,317.7L327.8,317.5L327.8,317.5L327.7,317.3L327.6,317.3L327.5,317.1L327.4,317.1L327.3,316.9L327.2,316.9L327.1,316.6L327.1,316.7L326.9,316.4L326.9,316.4L326.7,316.2L326.7,316.2L326.6,316L326.5,316L326.4,315.8L326.3,315.8L326.2,315.6L326.2,315.6L326,315.3L326,315.4L325.9,315.1L325.8,315.1L325.7,314.9L325.6,314.9L325.5,314.7L325.5,314.7L325.3,314.4L325.3,314.5L325.2,314.2L325.1,314.2L325,314L325,314L324.8,313.7L324.8,313.8L324.7,313.5L324.6,313.5L324.5,313.3L324.5,313.3L324.4,313L324.3,313.1L324.2,312.8L324.2,312.8L324,312.6L324,312.6L323.9,312.3L323.8,312.4L323.7,312.1L323.7,312.1L323.6,311.9L323.5,311.9L323.4,311.6L323.4,311.6L323.3,311.4L323.2,311.4L323.1,311.1L323.1,311.1L323,310.9L322.9,310.9L322.8,310.6L322.8,310.6L322.7,310.4L322.6,310.4L322.5,310.1L322.5,310.1L322.4,309.9L322.3,309.9L322.2,309.6L322.2,309.6L322.1,309.4L322.1,309.4L322,309.1L321.9,309.1L321.8,308.9L321.8,308.9L321.7,308.6L321.6,308.6L321.5,308.4L321.5,308.4L321.4,308.1L321.4,308.1L321.3,307.8L321.2,307.9L321.2,307.6L321.1,307.6L321,307.3L321,307.3L320.9,307.1L320.9,307.1L320.8,306.8L320.7,306.8L320.6,306.5L320.6,306.5L320.5,306.3L320.5,306.3L320.4,306L320.4,306L320.3,305.7L320.2,305.7L320.2,305.5L320.1,305.5L320.1,305.2L320,305.2L319.9,304.9L319.9,304.9L319.8,304.6L319.8,304.7L319.7,304.4L319.7,304.4L319.6,304.1L319.6,304.1L319.5,303.8L319.5,303.8L319.4,303.5L319.4,303.6L319.3,303.3L319.2,303.3L319.2,303L319.1,303L319.1,302.7L319,302.7L319,302.4L318.9,302.4L318.9,302.2L318.8,302.2L318.8,301.9L318.8,301.9L318.7,301.6L318.7,301.6L318.6,301.3L318.6,301.3L318.5,301L318.5,301L318.4,300.7L318.4,300.8L318.3,300.5L318.3,300.5L318.3,300.2L318.2,300.2L318.2,299.9L318.1,299.9L318.1,299.6L318.1,299.6L318,299.3L318,299.3L317.9,299L317.9,299L317.9,298.7L317.8,298.7L317.8,298.4L317.7,298.4L317.7,298.2L317.7,298.2L317.6,297.9L317.6,297.9L317.6,297.6L317.5,297.6L317.5,297.3L317.5,297.3L317.4,297L317.4,297L317.4,296.7L317.3,296.7L317.3,296.4L317.3,296.4L317.3,296.1L317.2,296.1L317.2,295.8L317.2,295.8L317.1,295.5L317.1,295.5L317.1,295.2L317,295.2L317,294.9L317,294.9L317,294.6L316.9,294.6L316.9,294.3L316.9,294.3L316.9,294L316.8,294L316.8,293.7L316.8,293.7L316.8,293.4L316.8,293.4L316.8,293.1L316.7,293.1L316.8,292.8L316.7,292.8L316.7,292.5L316.7,292.5L316.7,292.2L316.7,292.2L316.7,291.9L316.7,291.9L316.7,291.6L316.6,291.6L316.7,291.3L316.6,291.3L316.6,291L316.6,291L316.6,290.7L316.6,290.7L316.6,290.4L316.6,290.4L316.6,290.1L316.6,290.1L316.6,289.8L316.6,289.8L316.6,289.5L316.6,289.4L316.6,289.1L316.6,289.1L316.6,288.8L316.6,288.8L316.6,288.5L316.6,288.5L316.6,288.2L316.6,288.2L316.6,287.9L316.6,287.9L316.6,287.6L316.6,287.6L316.6,287.3L316.6,287.3L316.7,287L316.6,287L316.7,286.7L316.6,286.7L316.7,286.4L316.7,286.4L316.7,286.1L316.7,286.1L316.7,285.8L316.7,285.8L316.8,285.5L316.7,285.5L316.8,285.2L316.7,285.2L316.8,284.9L316.8,284.9L316.8,284.5L316.8,284.5L316.9,284.2L316.8,284.2L316.9,283.9L316.9,283.9L316.9,283.6L316.9,283.6L317,283.3L316.9,283.3L317,283L317,283L317,282.7L317,282.7L317.1,282.4L317.1,282.4L317.1,282.1L317.1,282.1L317.2,281.8L317.1,281.8L317.2,281.5L317.2,281.5L317.3,281.2L317.2,281.2L317.3,280.9L317.3,280.9L317.4,280.6L317.4,280.6L317.4,280.3L317.4,280.3L317.5,280L317.5,279.9L317.6,279.7L317.5,279.6L317.6,279.3L317.6,279.3L317.7,279L317.7,279L317.7,278.7L317.7,278.7L317.8,278.4L317.8,278.4L317.9,278.1L317.9,278.1L318,277.8L317.9,277.8L318,277.5L318,277.5L318.1,277.2L318.1,277.2L318.2,276.9L318.2,276.9L318.3,276.6L318.2,276.6L318.3,276.3L318.3,276.3L318.4,276L318.4,276L318.5,275.7L318.5,275.7L318.6,275.4L318.6,275.4L318.7,275.1L318.7,275.1L318.8,274.8L318.7,274.8L318.9,274.5L318.8,274.5L319,274.2L318.9,274.2L319.1,273.9L319,273.9L319.2,273.6L319.1,273.6L319.3,273.3L319.2,273.3L319.4,273L319.3,273L319.5,272.7L319.4,272.7L319.6,272.4L319.5,272.4L319.7,272.1L319.7,272.1L319.8,271.8L319.8,271.8L319.9,271.5L319.9,271.5L320,271.2L320,271.2L320.1,270.9L320.1,270.9L320.3,270.7L320.2,270.6L320.4,270.4L320.4,270.3L320.5,270.1L320.5,270.1L320.6,269.8L320.6,269.8L320.7,269.5L320.7,269.5L320.9,269.2L320.9,269.2L321,268.9L321,268.9L321.1,268.6L321.1,268.6L321.3,268.3L321.2,268.3L321.4,268L321.4,268L321.5,267.8L321.5,267.7L321.7,267.5L321.7,267.5L321.8,267.2L321.8,267.2L322,266.9L321.9,266.9L322.1,266.6L322.1,266.6L322.3,266.3L322.2,266.3L322.4,266L322.3,266L322.5,265.7L322.4,265.7L322.6,265.4L322.5,265.3L322.7,265.1L322.6,265L322.8,264.8L322.7,264.7L322.9,264.5L322.8,264.4L323,264.1L322.9,264.1L323.1,263.8L323.1,263.8L323.2,263.5L323.2,263.5L323.4,263.2L323.3,263.1L323.5,262.9L323.4,262.8L323.6,262.6L323.5,262.5L323.7,262.3L323.7,262.2L323.9,261.9L323.8,261.9L324,261.6L323.9,261.6L324.1,261.3L324,261.3L324.2,261L324.2,260.9L324.4,260.7L324.3,260.6L324.5,260.4L324.4,260.3L324.7,260.1L324.6,260L324.8,259.8L324.7,259.7L324.9,259.4L324.9,259.4L325.1,259.1L325,259.1L325.2,258.8L325.2,258.8L325.4,258.5L325.3,258.5L325.5,258.2L325.5,258.1L325.7,257.9L325.6,257.8L325.9,257.6L325.8,257.5L326,257.3L326,257.2L326.2,257L326.1,256.9L326.4,256.7L326.3,256.6L326.5,256.4L326.5,256.3L326.7,256.1L326.6,256L326.9,255.8L326.8,255.7L327,255.5L327,255.4L327.2,255.2L327.2,255.1L327.4,254.9L327.3,254.8L327.6,254.6L327.5,254.5L327.8,254.3L327.7,254.2L328,254L327.9,253.9L328.1,253.7L328.1,253.6L328.3,253.4L328.3,253.3L328.5,253.1L328.5,253L328.7,252.8L328.7,252.7L328.9,252.5L328.9,252.4L329.1,252.2L329.1,252.1L329.3,251.9L329.3,251.8L329.5,251.6L329.5,251.5L329.7,251.3L329.6,251.2L329.9,251L329.8,250.9L330.1,250.6L330,250.5L330.2,250.3L330.2,250.2L330.4,250L330.3,249.8L330.6,249.6L330.5,249.5L330.8,249.3L330.7,249.2L331,248.9L330.9,248.8L331.2,248.6L331.1,248.5L331.4,248.3L331.3,248.2L331.6,247.9L331.5,247.8L331.8,247.6L331.7,247.5L332,247.3L331.9,247.2L332.2,246.9L332.1,246.8L332.4,246.6L332.3,246.5L332.6,246.3L332.5,246.2L332.8,246L332.7,245.8L333,245.6L332.9,245.5L333.2,245.3L333.1,245.2L333.4,245L333.4,244.8L333.7,244.6L333.6,244.5L333.9,244.3L333.8,244.2L334.1,244L334,243.9L334.4,243.7L334.3,243.5L334.6,243.4L334.5,243.2L334.8,243L334.8,242.9L335.1,242.7L335,242.6L335.3,242.4L335.2,242.3L335.6,242.1L335.5,241.9L335.8,241.8L335.7,241.6L336.1,241.4L336,241.3L336.3,241.1L336.3,241L336.6,240.8L336.5,240.7L336.9,240.5L336.8,240.4L337.1,240.2L337.1,240.1L337.4,240L337.4,239.8L337.7,239.7L337.6,239.6L338,239.4L337.9,239.3L338.3,239.1L338.2,239L338.6,238.8L338.5,238.7L338.9,238.6L338.8,238.5L339.2,238.3L339.1,238.2L339.5,238L339.4,237.9L339.8,237.8L339.7,237.6L340.1,237.5L340,237.4L340.4,237.2L340.3,237.1L340.7,237L340.6,236.8L341,236.7L340.9,236.6L341.3,236.4L341.2,236.3L341.6,236.2L341.6,236.1L341.9,235.9L341.9,235.8L342.2,235.7L342.2,235.5L342.6,235.4L342.5,235.3L342.9,235.1L342.8,235L343.2,234.9L343.2,234.8L343.5,234.6L343.5,234.5L343.9,234.4L343.8,234.3L344.2,234.2L344.2,234L344.5,233.9L344.5,233.8L344.9,233.7L344.8,233.5L345.2,233.4L345.2,233.3L345.6,233.2L345.5,233L345.9,232.9L345.8,232.8L346.2,232.7L346.2,232.5L346.6,232.4L346.5,232.3L346.9,232.1L346.9,232L347.3,231.9L347.2,231.7L347.6,231.6L347.6,231.5L348,231.4L347.9,231.2L348.3,231.1L348.3,231L348.7,230.9L348.6,230.7L349,230.6L349,230.5L349.4,230.4L349.4,230.2L349.8,230.2L349.7,230L350.1,229.9L350.1,229.8L350.5,229.7L350.5,229.5L350.9,229.4L350.8,229L351.2,229L351.1,228.5L351.5,228.4L351.4,227.9L351.8,227.8L351.7,227.3L352.1,227.3L352,226.8L352.5,226.7L352.4,226.2L352.8,226.1L352.7,225.6L353.1,225.6L353,225.1L353.5,225L353.4,224.5L353.8,224.4L353.8,223.9L354.2,223.9L354.1,223.4L354.6,223.3L354.5,222.8L354.9,222.8L354.9,222.2L355.3,222.2L355.2,221.6L355.7,221.5L355.6,220.9L356.1,220.8L356,220.2L356.4,220.1L356.4,219.5L356.8,219.5L356.8,218.8L357.2,218.8L357.2,218.2L357.7,218.1L357.6,217.5L358.1,217.4L358,216.8L358.5,216.8L358.5,216.1L358.9,216.1L358.9,215.5L359.4,215.4L359.3,214.8L359.8,214.8L359.8,214.1L360.3,214.1L360.3,213.4L360.8,213.4L360.7,212.7L361.2,212.7L361.2,212L361.7,211.9L361.7,211.3L362.2,211.2L362.2,210.6L362.7,210.6L362.7,210L363.2,210L363.2,209.4L363.7,209.3L363.7,208.7L364.3,208.7L364.3,208.1L364.8,208.1L364.8,207.5L364.8,207.5Z" fill="#cab2d6"/>
<path d="M379.1,278.7A20.7,20.7 0 1 1 364.8,273" fill="none" stroke="#ffffff" stroke-width="1.8"/>
<path d="M346.9,331A41.4,41.4 0 0 1 364.8,252.3" fill="none" stroke="#ffffff" stroke-width="1.8"/>
<path d="M341.6,236.1A62.1,62.1 0 0 1 364.8,231.6" fill="none" stroke="#ffffff" stroke-width="1.8"/>
<path d="M362.2,210.9A82.8,82.8 0 0 1 364.8,210.9" fill="none" stroke="#ffffff" stroke-width="1.8"/>
<path d="M257.9,113L259.1,112.3L260.1,114.1L261.2,113.5L261.6,114.1L262.7,113.4L261.3,111L262.5,110.3L263.6,112.4L264.8,111.8L265.2,112.6L266.4,112L264.7,108.8L265.8,108.2L267,110.4L268.1,109.8L270.2,113.6L271.3,113L270.6,111.6L271.7,111L271.5,110.5L272.6,109.9L273.2,111.1L274.4,110.6L273.8,109.5L275,108.9L275,108.8L276.1,108.3L277.3,110.7L278.4,110.1L277.7,108.5L278.8,108L279.2,108.9L280.4,108.3L281.1,109.8L282.2,109.3L283.1,111.2L284.2,110.7L283.2,108.4L284.4,107.9L283.9,106.8L285.1,106.3L285.1,106.3L286.3,105.8L287.2,107.9L288.3,107.4L287.4,105.3L288.6,104.8L289.4,106.7L290.6,106.2L290.3,105.5L291.5,105.1L290.7,103.1L291.9,102.7L293.1,105.7L294.3,105.2L294.6,106.2L295.8,105.8L295.3,104.5L296.5,104L296.7,104.5L297.9,104.1L299.7,109.2L298.5,109.6L297.7,107.4L296.6,107.9L297.3,109.7L296.1,110.1L296.1,110.1L294.9,110.6L293.8,107.6L292.6,108L293.3,109.9L292.2,110.3L292.6,111.5L291.5,111.9L290.4,109.2L289.2,109.6L290.2,112L289,112.4L288.3,110.5L287.1,111L287.1,111L286,111.5L286.1,111.8L285,112.3L285.7,114.1L284.6,114.6L283.7,112.6L282.6,113.1L282.4,112.7L281.3,113.3L281.1,112.9L280,113.5L281.2,116L280.1,116.5L278.7,113.6L277.6,114.2L277.3,113.7L276.2,114.2L276.8,115.4L275.7,116L274.6,113.9L273.5,114.5L273.1,113.7L271.9,114.2L272.6,115.5L271.5,116.1L270.5,114.3L269.4,114.9L268.1,112.4L266.9,113L268.4,115.8L267.3,116.4L266.6,115.1L265.5,115.8L264.9,114.6L263.7,115.2L264.3,116.1L263.1,116.8L263.7,117.7L262.6,118.3L261.3,116.2L260.2,116.8Z" fill="#62a5d6"/>
<path d="M307.9,97.8L309.1,97.4L309.7,99.4L310.9,99.1L310.6,98L311.8,97.6L311.7,97L312.9,96.7L313.3,98.1L314.5,97.8L313.9,95.5L315.2,95.2L315.1,95L316.4,94.7L316.8,96.5L318,96.2L318.1,96.6L319.4,96.3L319,94.8L320.3,94.5L320.6,96.1L321.9,95.8L321.5,94.3L322.8,94L323.4,96.7L324.6,96.5L324.2,94.3L325.4,94L325,92.1L326.3,91.9L326.3,91.9L327.6,91.7L328.2,95.2L329.5,95L329.5,95L330.7,94.8L330.7,94.5L331.9,94.3L332.2,95.7L333.4,95.5L333.1,93.3L334.3,93.1L335.2,98.8L334,99L334,99.1L332.8,99.3L332.8,99.5L331.6,99.7L331.4,98.6L330.2,98.8L330.3,99.4L329,99.6L328.8,98.1L327.5,98.3L327.7,99.5L326.5,99.7L326.6,100.2L325.4,100.5L325.1,98.8L323.9,99.1L324,99.6L322.7,99.9L323,101L321.8,101.2L321.6,100.3L320.4,100.6L320.5,101.2L319.3,101.4L319,100.4L317.8,100.7L317.5,99.2L316.2,99.5L316.6,101.1L315.4,101.4L315.7,102.7L314.5,103L314.3,102.1L313.1,102.4L313.3,103.1L312.1,103.4L312.5,104.9L311.3,105.2L311,104.2L309.8,104.6Z" fill="#62a5d6"/>
<path d="M364.8,91.3L366.1,91.3L366.1,91.2L367.3,91.2L367.3,91.2L368.6,91.3L368.6,91.3L369.9,91.3L369.9,91.3L371.2,91.3L371.2,91.4L372.4,91.4L372.4,91.4L373.7,91.4L373.7,91.4L375,91.4L375,91.5L376.2,91.6L376.2,91.5L377.5,91.6L377.5,91.6L378.8,91.7L378.8,91.7L380.1,91.8L380.1,91.8L381.3,91.9L381.3,92L382.6,92.1L382.6,92.1L383.8,92.2L383.9,92.2L385.1,92.3L385.1,92.3L386.4,92.4L386.4,92.4L387.6,92.5L387.6,92.5L388.9,92.7L388.9,92.7L390.2,92.8L390.2,92.9L391.4,93.1L391.4,93L392.7,93.1L392.7,93.2L394,93.4L394,93.4L395.2,93.5L395.2,93.5L396.5,93.7L396.5,93.8L397.7,94L397.7,94L399,94.2L399.1,93.3L400.4,93.5L400.3,93.7L401.6,94L401.6,94.1L402.8,94.3L402.8,94.4L404.1,94.7L404.3,93.6L405.5,93.9L405.6,93.7L406.8,94L406.8,94.2L408,94.5L408,94.5L409.3,94.7L409.3,94.6L410.6,94.9L410.5,95L411.8,95.2L411.8,95.2L413,95.5L413,95.6L414.3,95.9L414.3,95.7L415.5,96.1L415.4,96.5L416.7,96.9L416.6,96.9L417.9,97.3L417.9,97.3L419.1,97.6L419,97.8L420.3,98.2L420.5,97.4L421.7,97.7L421.7,97.8L422.9,98.2L423,98.1L424.2,98.5L424.2,98.5L425.4,98.9L425,100.2L426.2,100.6L426.2,100.7L427.4,101.1L427.4,100.9L428.6,101.3L428.6,101.4L429.8,101.8L429.8,101.8L431,102.2L431,102.2L432.2,102.6L432.6,101.7L433.8,102.2L433.7,102.3L434.9,102.8L435,102.5L436.2,102.9L436.2,103L437.4,103.4L437.4,103.4L438.6,103.8L438.7,103.7L439.9,104.1L439.8,104.3L441,104.8L440.9,104.9L442.1,105.4L442.1,105.3L443.3,105.8L443.3,105.8L444.5,106.3L444.5,106.3L445.7,106.8L445.8,106.5L447,107L446.9,107.1L448.1,107.7L448.2,107.5L449.4,108L449.3,108.1L450.5,108.7L450.5,108.5L451.7,109.1L451.7,109.1L452.8,109.7L452.6,110L453.8,110.6L453.8,110.6L455,111.1L454.9,111.2L456.1,111.7L456.1,111.7L457.2,112.3L457.2,112.4L458.3,113L458.4,112.9L459.5,113.4L459.6,113.3L460.7,113.9L460.7,113.9L461.9,114.5L461.6,115L462.7,115.6L462.7,115.7L463.8,116.3L463.7,116.4L464.8,117L464.9,116.9L466,117.5L466,117.6L467.1,118.3L467.1,118.3L468.2,118.9L468.2,118.9L469.3,119.6L469.3,119.6L470.4,120.2L470.8,119.5L471.9,120.2L471.9,120.2L473,120.8L472.9,120.9L474,121.6L474,121.6L475.1,122.2L475.3,122L476.3,122.7L476.2,122.9L477.3,123.6L477.3,123.6L478.3,124.3L478.4,124.3L479.4,125L479.5,125L480.5,125.7L479.7,126.9L480.7,127.7L480.8,127.6L481.8,128.3L482.8,126.9L483.8,127.7L483.8,127.7L484.8,128.5L484.8,128.5L485.9,129.3L485.9,129.2L487,129.9L486.8,130.1L487.9,130.8L487.9,130.8L488.9,131.6L488.9,131.6L489.9,132.4L490,132.3L491,133L490.8,133.3L491.9,134.1L491.9,134L492.9,134.8L492.9,134.8L493.9,135.6L494,135.5L495,136.3L494.5,137L495.4,137.8L495.5,137.7L496.5,138.6L496.3,138.8L497.3,139.6L497.4,139.4L498.4,140.3L498.3,140.3L499.3,141.2L499.2,141.2L500.2,142.1L500.3,142L501.2,142.8L500.9,143.2L501.8,144.1L501.8,144.1L502.7,145L502.8,144.9L503.7,145.8L503.7,145.8L504.6,146.7L504.6,146.6L505.6,147.5L505.6,147.5L506.5,148.3L507.8,147.1L508.7,148L508.8,147.9L509.7,148.8L509.6,148.9L510.5,149.8L510.4,149.9L511.3,150.8L511.4,150.8L512.3,151.7L512.2,151.7L513.1,152.6L513.1,152.7L514,153.6L514.1,153.5L515,154.4L514.6,154.8L515.4,155.8L515.3,155.8L516.2,156.8L516.4,156.6L517.3,157.6L517.2,157.6L518.1,158.6L518.1,158.6L518.9,159.5L518.9,159.5L519.8,160.5L519.8,160.5L520.6,161.5L520.6,161.5L521.4,162.5L520.7,163.1L521.5,164.1L521.4,164.1L522.2,165.1L521.8,165.4L522.6,166.4L522.7,166.4L523.4,167.4L523.3,167.5L524.1,168.5L524.2,168.4L525,169.5L525,169.5L525.7,170.5L526.3,170.1L527.1,171.1L526.9,171.2L527.7,172.2L527.9,172L528.7,173L528.6,173.1L529.3,174.2L529.2,174.2L530,175.3L529.6,175.5L530.3,176.6L530.4,176.5L531.2,177.5L531.2,177.5L531.9,178.6L531.9,178.6L532.6,179.7L532.7,179.6L533.4,180.7L533.3,180.7L534,181.8L534.1,181.7L534.8,182.8L534.7,182.9L535.4,183.9L535.5,183.9L536.1,185L537.2,184.3L537.9,185.4L538,185.3L538.7,186.4L538.4,186.6L539.1,187.7L539.1,187.6L539.8,188.7L539.7,188.8L540.4,189.9L540.5,189.8L541.2,190.9L541,191L541.7,192.1L540.8,192.6L541.4,193.7L541.5,193.7L542.1,194.8L542,194.8L542.6,195.9L542.7,195.9L543.3,197L543.3,197L543.9,198.1L544,198.1L544.6,199.2L544.7,199.2L545.2,200.3L545.3,200.3L545.9,201.4L546,201.4L546.5,202.5L546.5,202.5L547.1,203.7L546.9,203.8L547.5,204.9L547.8,204.8L548.4,205.9L548.5,205.8L549,207L549,207L549.6,208.2L549.5,208.2L550,209.4L550,209.4L550.5,210.6L550.6,210.5L551.1,211.7L551,211.7L551.5,212.9L551.5,212.9L552,214.1L552,214.1L552.5,215.2L552.5,215.3L553,216.4L552.9,216.5L553.4,217.7L553.5,217.6L553.9,218.8L553.8,218.9L554.2,220.1L554.4,220L554.8,221.2L554.8,221.2L555.3,222.4L555.3,222.4L555.7,223.6L556,223.5L556.4,224.7L556.3,224.8L556.7,226L556.6,226L557,227.2L557,227.2L557.4,228.4L557.5,228.4L557.9,229.6L558,229.6L558.4,230.8L557.9,231L558.3,232.2L558.2,232.2L558.5,233.4L559.1,233.2L559.5,234.5L559.5,234.5L559.9,235.7L560.3,235.6L560.7,236.8L560.8,236.7L561.2,238L561.1,238L561.4,239.2L561.1,239.3L561.4,240.6L561.2,240.6L561.5,241.9L561.7,241.8L562.1,243.1L562.2,243L562.5,244.3L562.4,244.3L562.7,245.5L562.6,245.5L562.9,246.8L562.9,246.8L563.2,248L563.1,248.1L563.3,249.3L563.1,249.4L563.3,250.6L563.4,250.6L563.7,251.9L563.8,251.8L564,253.1L564,253.1L564.3,254.3L564.9,254.2L565.1,255.5L565.2,255.5L565.4,256.7L564.7,256.9L565,258.1L565,258.1L565.2,259.4L565.2,259.4L565.4,260.6L565.3,260.7L565.5,261.9L565.6,261.9L565.8,263.2L565.9,263.1L566.1,264.4L565.8,264.5L566,265.7L566,265.7L566.2,267L566.3,267L566.5,268.2L566.3,268.2L566.4,269.5L566.6,269.5L566.7,270.8L566.6,270.8L566.7,272L567,272L567.1,273.3L567.2,273.3L567.3,274.6L567.9,274.5L568,275.8L567.8,275.8L567.9,277.1L568,277.1L568.1,278.3L568,278.3L568.1,279.6L568.1,279.6L568.2,280.9L568.3,280.9L568.4,282.2L567.6,282.2L567.6,283.5L567.9,283.5L567.9,284.8L567.8,284.8L567.9,286L568,286L568.1,287.3L567.9,287.3L568,288.6L567.9,288.6L567.9,289.9L568,289.9L568,291.1L568.7,291.1L568.7,292.4L568.7,292.4L568.7,293.7L568.7,293.7L568.7,295L568.6,295L568.6,296.3L568.4,296.3L568.4,297.5L568.7,297.5L568.7,298.8L568.7,298.8L568.6,300.1L568.6,300.1L568.6,301.4L568.5,301.4L568.5,302.7L568.6,302.7L568.5,303.9L568.4,303.9L568.3,305.2L568,305.2L567.9,306.5L567.9,306.5L567.9,307.8L568,307.8L567.9,309L567.6,309L567.5,310.3L567.8,310.3L567.7,311.6L567.5,311.6L567.4,312.8L567.3,312.8L567.2,314.1L567.5,314.1L567.3,315.4L567.2,315.4L567,316.7L566.9,316.7L566.8,317.9L566.9,317.9L566.8,319.2L566.9,319.2L566.8,320.5L566.8,320.5L566.6,321.8L566.4,321.8L566.3,323L566.3,323L566.2,324.3L565.7,324.2L565.5,325.5L565.4,325.5L565.2,326.7L565.7,326.8L565.5,328.1L565.5,328.1L565.2,329.3L565.2,329.3L565,330.6L565,330.6L564.7,331.8L565.1,331.9L564.9,333.2L564.9,333.2L564.6,334.4L564.5,334.4L564.3,335.7L564.3,335.7L564,336.9L564.2,337L563.9,338.2L563,338L562.7,339.2L562.8,339.3L562.5,340.5L562.5,340.5L562.2,341.8L562.2,341.7L561.9,343L562.1,343L561.7,344.3L561.4,344.2L561.1,345.4L561.3,345.5L560.9,346.7L560.8,346.7L560.5,347.9L561.2,348.1L560.8,349.3L560.8,349.3L560.5,350.5L560.1,350.4L559.7,351.7L559.8,351.7L559.5,352.9L559.6,353L559.3,354.2L559.3,354.2L558.9,355.4L558.9,355.4L558.5,356.6L558.4,356.6L558,357.8L558.6,358L558.2,359.2L558.2,359.2L557.8,360.5L557.7,360.4L557.3,361.6L557.4,361.7L557,362.9L556.6,362.8L556.2,364L556.5,364.1L556.1,365.3L555.9,365.2L555.4,366.4L554.6,366.1L554.2,367.3L554.1,367.3L553.6,368.4L553.5,368.4L553.1,369.6L553.2,369.7L552.7,370.8L552.7,370.9L552.2,372L552.2,372L551.7,373.2L551.7,373.2L551.2,374.3L551.3,374.4L550.8,375.6L550.9,375.6L550.4,376.8L550.4,376.8L549.9,378L550.3,378.1L549.7,379.3L549.9,379.4L549.3,380.5L549.2,380.5L548.7,381.6L548.6,381.6L548.1,382.8L548.2,382.8L547.6,384L547.6,384L547.1,385.1L546.9,385.1L546.4,386.2L546.4,386.2L545.8,387.3L545.3,387.1L544.7,388.2L544.7,388.2L544.1,389.4L544,389.3L543.4,390.4L543.6,390.5L543,391.7L542.8,391.6L542.2,392.7L542.3,392.7L541.7,393.9L541.6,393.8L540.9,394.9L541.6,395.3L541,396.4L541,396.4L540.3,397.5L539.7,397.1L539.1,398.2L539.3,398.4L538.6,399.5L538.5,399.4L537.8,400.5L537.9,400.5L537.2,401.6L537.1,401.5L536.4,402.6L536.3,402.5L535.6,403.6L535.5,403.5L534.8,404.6L534.9,404.7L534.2,405.7L534.1,405.7L533.4,406.8L533.4,406.8L532.7,407.8L532.7,407.8L532,408.9L533.1,409.6L532.3,410.7L532.5,410.8L531.7,411.8L531.6,411.7L530.8,412.7L531.1,412.9L530.3,413.9L530.2,413.9L529.4,414.9L529.4,414.9L528.7,415.9L528.7,416L528,417L528,417L527.2,418.1L527.1,417.9L526.3,419L525.4,418.3L524.6,419.3L524.7,419.3L523.9,420.3L523.8,420.3L523,421.3L523.1,421.3L522.3,422.3L522.6,422.6L521.8,423.6L521.6,423.4L520.8,424.4L520.9,424.5L520.1,425.5L519.9,425.3L519.1,426.3L519.3,426.5L518.5,427.5L518.4,427.4L517.6,428.4L517.6,428.4L516.7,429.4L516.8,429.4L515.9,430.4L516.1,430.5L515.2,431.4L515.1,431.3L514.2,432.2L514.2,432.2L513.3,433.2L513.2,433.1L512.3,434L512.5,434.1L511.6,435.1L512.1,435.6L511.2,436.5L511.3,436.6L510.4,437.5L510.3,437.4L509.4,438.3L509.6,438.5L508.7,439.4L507.4,438.1L506.5,439L506.6,439.1L505.7,440L505.8,440.1L504.9,441L504.7,440.9L503.8,441.7L503.8,441.7L502.9,442.6L502.9,442.6L502,443.5L501.9,443.4L500.9,444.2L501,444.4L500.1,445.2L500.3,445.4L499.3,446.3L499.2,446.2L498.3,447L498.1,446.8L497.1,447.7L497.1,447.7L496.2,448.5L496.1,448.4L495.1,449.3L495.2,449.4L494.3,450.2L494.8,450.8L493.8,451.7L493.8,451.7L492.8,452.5L492.9,452.6L491.9,453.4L491.9,453.4L490.9,454.2L490.8,454.1L489.8,454.9L489.8,454.8L488.8,455.6L488.7,455.6L487.7,456.3L487.8,456.4L486.7,457.2L486.6,457L485.6,457.8L485.3,457.4L484.3,458.1L484.2,458L483.1,458.8L483.2,458.9L482.2,459.6L482.3,459.7L481.2,460.5L481.2,460.4L480.1,461.1L480.1,461.1L479.1,461.9L479.2,462.1L478.2,462.8L478.2,462.8L477.1,463.5L477.5,464L476.4,464.7L476.4,464.7L475.3,465.4L475.4,465.5L474.3,466.2L474.2,466L473.1,466.7L473.3,467.1L472.2,467.8L471.7,466.9L470.6,467.6L470.7,467.8L469.6,468.4L469.7,468.5L468.6,469.2L468.6,469.2L467.5,469.8L467.5,469.9L466.4,470.5L466.4,470.5L465.3,471.2L465.3,471.1L464.1,471.7L464.2,471.9L463.1,472.5L462.5,471.4L461.4,472L461.5,472.3L460.4,472.9L460.4,472.8L459.2,473.4L459.3,473.5L458.2,474.1L458.2,474.1L457,474.7L457,474.6L455.8,475.1L455.8,475.2L454.7,475.7L454.8,475.9L453.6,476.5L453.6,476.4L452.5,477L452.4,476.8L451.2,477.4L451.6,478.1L450.4,478.7L450.5,478.7L449.3,479.3L449,478.7L447.9,479.2L448,479.5L446.8,480L446.8,480L445.7,480.6L445.5,480.3L444.4,480.8L444.3,480.7L443.2,481.2L443.1,481.1L442,481.6L441.9,481.6L440.7,482.1L440.8,482.1L439.6,482.6L440,483.6L438.8,484.1L438.9,484.3L437.7,484.7L437.3,483.7L436.1,484.2L436.1,484.2L434.9,484.6L434.8,484.5L433.6,484.9L433.7,485.1L432.5,485.6L432.5,485.4L431.3,485.8L431.2,485.7L430,486.2L430.1,486.4L428.9,486.8L428.8,486.7L427.6,487.1L427.6,487.1L426.4,487.5L426.4,487.4L425.2,487.8L425.2,488L424,488.4L424,488.3L422.8,488.7L422.8,488.7L421.5,489L421.6,489.2L420.4,489.6L420.3,489.2L419,489.6L419.2,490L417.9,490.4L417.9,490.3L416.7,490.6L416.6,490.5L415.4,490.8L415.4,490.9L414.2,491.2L414.2,491.1L412.9,491.4L413,491.6L411.7,491.9L411.7,491.7L410.4,492L410.5,492.4L409.3,492.6L409.1,491.8L407.8,492L407.8,491.7L406.5,492L406.6,492.3L405.3,492.6L405.3,492.3L404,492.6L404.1,493L402.9,493.2L402.9,493.4L401.6,493.7L401.6,493.6L400.4,493.8L400.4,493.9L399.1,494.1L399.2,494.3L397.9,494.5L398,495L396.7,495.2L396.8,495.6L395.5,495.8L395.5,495.7L394.2,495.9L394.3,496.1L393,496.3L393,496.6L391.8,496.8L391.7,496.5L390.4,496.7L390.4,496.4L389.1,496.6L389.1,495.9L387.8,496.1L387.8,496.1L386.5,496.3L386.5,495.7L385.2,495.8L385.2,495.7L383.9,495.8L383.9,496.1L382.7,496.2L382.6,496L381.4,496.1L381.4,496.3L380.1,496.4L380.1,496.4L378.8,496.5L378.9,497.1L377.6,497.2L377.6,496.4L376.3,496.5L376.3,496.6L375,496.7L375,496.8L373.7,496.8L373.7,497L372.5,497L372.5,497.2L371.2,497.2L371.2,496.8L369.9,496.8L369.9,496.7L368.6,496.8L368.6,496.6L367.3,496.6L367.4,496.8L366.1,496.8L366.1,497L364.8,497L364.8,496.9L363.5,496.9L363.5,496.6L362.3,496.6L362.2,496.8L361,496.7L361,496.8L359.7,496.8L359.7,496.9L358.4,496.9L358.4,496.6L357.1,496.6L357.1,496.7L355.9,496.6L355.9,496.2L354.6,496.1L354.6,497.1L353.3,497L353.2,497.8L352,497.7L352,496.7L350.8,496.6L350.7,497.1L349.4,497L349.4,497.1L348.2,497L348.2,496.9L346.9,496.8L346.9,496.7L345.6,496.5L345.6,496.7L344.3,496.6L344.3,496.5L343.1,496.3L343.1,496.3L341.8,496.2L341.9,495.7L340.6,495.5L340.6,495.8L339.3,495.7L339.3,495.5L338,495.3L338,495.4L336.8,495.2L336.8,495.1L335.5,494.9L335.5,495L334.2,494.8L334.2,494.9L333,494.7L333,494.3L331.8,494.1L331.7,494.5L330.4,494.3L330.4,494.7L329.1,494.5L329.1,494.5L327.8,494.2L327.8,494.3L326.6,494.1L326.7,493.6L325.4,493.4L325.4,493.4L324.2,493.1L324.1,493.6L322.8,493.4L322.9,492.7L321.7,492.5L321.6,492.9L320.3,492.6L320.4,492.4L319.1,492.1L319.1,492.2L317.9,491.9L318,491.5L316.7,491.2L316.7,491.3L315.5,491L315.4,491.3L314.1,491L314.1,491.3L312.8,490.9L312.8,491L311.6,490.6L311.7,490.3L310.4,490L310.4,489.9L309.2,489.6L309.3,489.4L308,489.1L307.9,489.5L306.7,489.1L306.9,488.3L305.7,488L305.6,488.2L304.4,487.9L304.3,488.2L303.1,487.8L303.2,487.3L302,486.9L302,486.9L300.8,486.5L300.8,486.6L299.6,486.2L299.8,485.4L298.6,485L298.6,485L297.4,484.6L297.1,485.4L295.9,485L296.1,484.7L294.9,484.2L295.1,483.7L293.9,483.2L293.3,484.8L292.1,484.3L292,484.5L290.8,484L291,483.5L289.8,483L289.9,482.8L288.7,482.3L288.7,482.5L287.5,482L287.4,482.2L286.2,481.7L286.2,481.8L285,481.3L284.9,481.5L283.7,481L283.7,481L282.6,480.5L282.6,480.5L281.4,480L281.4,480L280.2,479.5L280.3,479.2L279.2,478.7L279.5,477.9L278.4,477.4L278.1,477.9L277,477.3L277,477.3L275.9,476.7L276,476.5L274.8,475.9L274.6,476.4L273.4,475.8L273.6,475.5L272.5,474.9L272.6,474.7L271.4,474.1L271,475L269.8,474.4L269.9,474.3L268.8,473.7L268.8,473.6L267.7,473L267.5,473.3L266.4,472.7L266.4,472.7L265.3,472.1L265.4,471.8L264.3,471.2L264.9,470.1L263.8,469.5L263.4,470.2L262.3,469.5L262.3,469.6L261.2,469L261.3,468.8L260.2,468.1L259.9,468.6L258.8,467.9L258.6,468.3L257.5,467.6L257.9,466.9L256.8,466.3L257,466L255.9,465.3L255.1,466.6L254,465.9L254.6,464.9L253.6,464.2L253.8,463.9L252.7,463.2L252.4,463.6L251.4,462.9L251.3,463L250.2,462.3L250.4,462.1L249.3,461.4L248.9,462L247.8,461.2L248.2,460.7L247.2,460L247.3,459.8L246.2,459.1L245.9,459.5L244.9,458.7L244.7,459L243.7,458.2L244.1,457.6L243.1,456.9L242.8,457.3L241.8,456.5L241.9,456.3L240.9,455.6L240,456.7L238.9,455.9L240.1,454.5L239.1,453.7L238.4,454.6L237.4,453.8L237.9,453.2L236.9,452.4L236.9,452.3L235.9,451.5L235.6,451.9L234.6,451.1L234.5,451.2L233.5,450.4L233.4,450.5L232.4,449.7L232.8,449.3L231.8,448.5L232.1,448.1L231.2,447.2L231.1,447.3L230.2,446.4L230,446.6L229,445.8L229,445.8L228,445L227.7,445.3L226.8,444.4L227.1,444L226.2,443.2L225.9,443.4L225,442.6L224.8,442.8L223.9,441.9L224.4,441.3L223.5,440.4L224.2,439.7L223.3,438.8L222.9,439.2L222,438.3L222.1,438.2L221.2,437.3L219.9,438.6L219,437.7L220.1,436.6L219.2,435.7L218.3,436.6L217.4,435.7L217.7,435.4L216.8,434.5L216.3,435L215.4,434L215.7,433.7L214.8,432.8L215.3,432.3L214.5,431.4L214.5,431.3L213.6,430.4L213.5,430.5L212.7,429.5L212.6,429.6L211.8,428.6L212.5,428L211.6,427L211.4,427.2L210.6,426.3L209.3,427.3L208.5,426.3L210.2,424.9L209.3,424L208.3,424.8L207.5,423.8L208.1,423.3L207.3,422.3L206.7,422.8L205.9,421.8L205.6,422.1L204.8,421.1L205.3,420.7L204.5,419.7L203.9,420.1L203.1,419.1L204.4,418.1L203.6,417.1L202.2,418.2L201.4,417.2L202.3,416.5L201.6,415.5L200.9,416L200.1,414.9L200.4,414.8L199.6,413.7L201.2,412.6L200.4,411.5L199.4,412.3L198.7,411.3L198.1,411.7L197.3,410.6L196.7,411L196,410L196.7,409.5L196,408.4L196,408.4L195.3,407.3L196.2,406.8L195.5,405.7L193.7,406.8L193,405.8L192.8,405.9L192.1,404.8L193.4,404L192.7,402.9L192.9,402.8L192.2,401.7L193,401.2L192.3,400.2L190.7,401.1L190,400L188.9,400.8L188.2,399.6L189.5,398.9L188.8,397.8L188.5,398L187.8,396.9L188.3,396.6L187.6,395.5L188.6,394.9L188,393.8L186.5,394.7L185.8,393.6L187.9,392.4L187.3,391.3L186.6,391.7L186,390.5L185.6,390.7L185,389.6L184.6,389.8L184,388.7L184.3,388.5L183.7,387.4L183.8,387.4L183.2,386.2L184,385.8L183.4,384.7L183.8,384.5L183.2,383.4L182.1,383.9L181.5,382.8L182.1,382.5L181.5,381.4L182,381.1L181.4,380L181.4,380L180.9,378.8L180.3,379.1L179.7,378L180.4,377.6L179.9,376.5L179.5,376.6L179,375.5L179.2,375.4L178.7,374.2L177.3,374.8L176.8,373.6L176.7,373.7L176.2,372.5L174.9,373L174.4,371.9L177.3,370.7L176.9,369.5L176.2,369.7L175.7,368.6L174.5,369.1L174,367.9L174.9,367.5L174.5,366.3L174.5,366.3L174.1,365.1L172.2,365.8L171.7,364.6L173.4,364L173,362.8L173.7,362.5L173.2,361.3L173.4,361.3L172.9,360.1L171.6,360.5L171.2,359.3L171.2,359.3L170.8,358.1L172.5,357.5L172.1,356.3L171.8,356.4L171.4,355.2L170.1,355.6L169.7,354.4L169.6,354.4L169.3,353.2L170.3,352.9L170,351.6L168.8,352L168.5,350.7L168.5,350.7L168.2,349.5L170.3,348.9L169.9,347.7L168.6,348L168.3,346.8L167.6,347L167.3,345.7L168.2,345.5L167.9,344.3L169.3,343.9L169,342.7L167.4,343.1L167.1,341.8L166.1,342.1L165.8,340.8L165,341L164.7,339.7L168.3,338.9L168,337.7L163.5,338.7L163.2,337.4L166.5,336.7L166.3,335.5L164.3,335.9L164,334.6L163.8,334.7L163.5,333.4L163.7,333.4L163.5,332.1L164.3,331.9L164.1,330.7L165.3,330.5L165.1,329.2L163.3,329.5L163.1,328.2L164.5,328L164.3,326.8L166.1,326.5L165.8,325.2L160.5,326.1L160.3,324.8L162.4,324.5L162.2,323.2L161.1,323.3L160.9,322.1L163.6,321.7L163.5,320.4L161,320.7L160.8,319.5L160.6,319.5L160.4,318.2L160.4,318.2L160.3,316.9L161.9,316.7L161.8,315.5L163,315.3L162.8,314.1L161.8,314.2L161.6,312.9L163.8,312.7L163.7,311.4L163.1,311.5L163,310.2L161.1,310.4L161,309.1L162.3,309L162.2,307.7L161.3,307.8L161.2,306.5L161.1,306.5L161,305.2L158.8,305.4L158.7,304.1L159.4,304L159.3,302.7L160.8,302.7L160.8,301.4L159.2,301.5L159.2,300.2L161.4,300.1L161.3,298.8L160.8,298.8L160.8,297.5L159.4,297.6L159.3,296.3L161.7,296.3L161.7,295L160.6,295L160.6,293.7L161.9,293.7L161.9,292.4L160.2,292.4L160.3,291.1L158.5,291.1L158.5,289.8L161.2,289.9L161.3,288.6L160.1,288.6L160.2,287.3L161.5,287.3L161.5,286L162,286L162,284.8L162.1,284.8L162.2,283.5L159,283.3L159.1,282.1L158,282L158.1,280.7L160,280.8L160.1,279.5L161.5,279.6L161.6,278.4L159.9,278.2L160,276.9L161.3,277L161.4,275.8L160,275.6L160.1,274.4L160.8,274.4L160.9,273.1L160.9,273.1L161,271.9L160.6,271.8L160.8,270.5L162.2,270.7L162.3,269.4L162.1,269.4L162.3,268.1L163.9,268.3L164,267.1L162.5,266.8L162.6,265.6L163.8,265.7L164,264.5L162.6,264.3L162.8,263L163.8,263.2L164,261.9L162.5,261.7L162.7,260.4L162.3,260.3L162.5,259L164.8,259.4L165,258.2L164.2,258L164.5,256.8L164.6,256.8L164.9,255.6L162.7,255.2L163,253.9L161.7,253.6L162,252.4L163,252.6L163.3,251.3L164.9,251.6L165.1,250.4L162.8,249.9L163.1,248.6L167,249.5L167.3,248.3L163.5,247.4L163.7,246.1L166.5,246.7L166.8,245.5L169.5,246.2L169.8,244.9L162.8,243.2L163.1,241.9L164.5,242.3L164.8,241L168.2,241.9L168.5,240.7L166.9,240.2L167.3,239L167.4,239L167.8,237.8L167.3,237.7L167.7,236.4L169.7,237L170.1,235.8L169.1,235.5L169.5,234.3L168,233.8L168.3,232.6L168.6,232.7L169,231.4L167.7,231L168.1,229.8L169.6,230.3L170,229.1L167,228L167.4,226.8L171.4,228.1L171.8,226.9L170.4,226.5L170.8,225.2L173.7,226.2L174.1,225L173.2,224.7L173.6,223.5L170.1,222.2L170.6,221L173.4,222.1L173.9,220.9L171.9,220.1L172.3,218.9L173.1,219.2L173.5,218L174.8,218.5L175.3,217.3L174.3,216.9L174.8,215.7L174.9,215.8L175.4,214.6L175.3,214.5L175.8,213.3L174.2,212.6L174.7,211.4L174.8,211.5L175.3,210.3L176.9,211L177.4,209.8L177.8,210L178.3,208.8L176.7,208L177.2,206.9L177.7,207.1L178.2,205.9L176.6,205.1L177.1,204L174.9,202.9L175.5,201.7L177.7,202.8L178.3,201.6L179.4,202.2L180,201L180.1,201.1L180.7,199.9L181.6,200.3L182.2,199.2L182.2,199.2L182.8,198.1L182.8,198.1L183.5,197L182.6,196.5L183.2,195.4L183.2,195.4L183.9,194.2L182.2,193.3L182.9,192.2L184.3,193L185,191.9L184.6,191.7L185.3,190.6L186.6,191.3L187.2,190.2L183.4,188L184.1,186.8L185.6,187.7L186.2,186.6L184.5,185.5L185.1,184.4L186.4,185.1L187.1,184L186.1,183.4L186.8,182.3L189,183.7L189.7,182.6L188.4,181.7L189.1,180.6L186.5,179L187.2,177.9L192.5,181.3L193.2,180.2L190,178.1L190.7,177L190.1,176.5L190.8,175.4L192.5,176.6L193.2,175.5L192.8,175.2L193.5,174.1L192.9,173.7L193.6,172.6L196.2,174.4L197,173.4L195.6,172.4L196.3,171.3L198,172.5L198.8,171.5L198.5,171.3L199.3,170.2L199.2,170.2L200,169.2L199.4,168.7L200.2,167.7L199.9,167.4L200.7,166.4L200.3,166.1L201.1,165.1L203.6,167L204.4,166L200,162.5L200.8,161.5L201.9,162.3L202.7,161.3L203.3,161.8L204.1,160.8L205.5,161.9L206.3,160.9L206,160.6L206.8,159.6L206,159L206.9,158L207.1,158.1L207.9,157.1L210.6,159.4L211.4,158.5L208.4,155.8L209.3,154.8L206.6,152.5L207.5,151.5L213.4,156.8L214.3,155.8L210.8,152.7L211.7,151.7L212.4,152.4L213.3,151.4L213.9,152L214.8,151L213,149.3L213.9,148.4L217,151.3L217.9,150.4L216.3,148.9L217.2,147.9L215.7,146.4L216.6,145.5L218.6,147.5L219.5,146.5L219.8,146.8L220.7,145.9L220.1,145.3L221,144.4L221.7,145.1L222.7,144.2L220.4,141.9L221.4,140.9L224.2,143.9L225.1,143.1L223.1,140.9L224.1,140L226.5,142.6L227.4,141.8L225.3,139.4L226.3,138.5L227.1,139.5L228.1,138.7L230.9,141.8L231.9,141L229,137.8L230,136.9L231.2,138.3L232.2,137.4L231.5,136.6L232.5,135.8L230.4,133.3L231.4,132.5L234.2,135.8L235.2,135L235.2,135L236.2,134.2L233.6,130.9L234.6,130.1L236,131.9L237,131L235.5,129.2L236.6,128.4L237.8,130L238.9,129.2L240.1,130.8L241.1,130L240.3,128.9L241.3,128.1L240,126.4L241.1,125.7L241.4,126L242.4,125.3L243.4,126.6L244.4,125.8L244.5,126L245.6,125.2L245.8,125.6L246.9,124.8L247.4,125.6L248.5,124.8L246.2,121.5L247.2,120.7L249.1,123.5L250.2,122.8L251.4,124.5L252.4,123.8L252,123.1L253,122.4L252,120.9L253.1,120.1L253.3,120.4L254.4,119.7L255.2,120.9L256.3,120.3L256.8,121.1L257.9,120.5L257.4,119.6L258.5,119L260,121.5L261.1,120.9L260.9,120.5L262,119.8L260.2,116.8L261.3,116.2L262.6,118.3L263.7,117.7L263.1,116.8L264.3,116.1L263.7,115.2L264.9,114.6L265.5,115.8L266.6,115.1L267.3,116.4L268.4,115.8L266.9,113L268.1,112.4L269.4,114.9L270.5,114.3L271.5,116.1L272.6,115.5L271.9,114.2L273.1,113.7L273.5,114.5L274.6,113.9L275.7,116L276.8,115.4L276.2,114.2L277.3,113.7L277.6,114.2L278.7,113.6L280.1,116.5L281.2,116L280,113.5L281.1,112.9L281.3,113.3L282.4,112.7L282.6,113.1L283.7,112.6L284.6,114.6L285.7,114.1L285,112.3L286.1,111.8L286,111.5L287.1,111L287.1,111L288.3,110.5L289,112.4L290.2,112L289.2,109.6L290.4,109.2L291.5,111.9L292.6,111.5L292.2,110.3L293.3,109.9L292.6,108L293.8,107.6L294.9,110.6L296.1,110.1L296.1,110.1L297.3,109.7L296.6,107.9L297.7,107.4L298.5,109.6L299.7,109.2L299.7,109.4L300.9,109L300.8,108.5L301.9,108.1L301.7,107.4L302.8,107L304.3,111.3L305.4,110.9L304.9,109.5L306.1,109.1L306.1,109L307.2,108.6L307.1,108.3L308.3,108L308.1,107.3L309.3,107L309.2,106.6L310.3,106.2L309.8,104.6L311,104.2L311.3,105.2L312.5,104.9L312.1,103.4L313.3,103.1L313.1,102.4L314.3,102.1L314.5,103L315.7,102.7L315.4,101.4L316.6,101.1L316.2,99.5L317.5,99.2L317.8,100.7L319,100.4L319.3,101.4L320.5,101.2L320.4,100.6L321.6,100.3L321.8,101.2L323,101L322.7,99.9L324,99.6L323.9,99.1L325.1,98.8L325.4,100.5L326.6,100.2L326.5,99.7L327.7,99.5L327.5,98.3L328.8,98.1L329,99.6L330.3,99.4L330.2,98.8L331.4,98.6L331.6,99.7L332.8,99.5L332.8,99.3L334,99.1L334,99L335.2,98.8L334.4,93.5L335.6,93.3L335.4,92L336.7,91.8L336.7,91.8L338,91.6L338,91.6L339.3,91.5L339.2,91.4L340.5,91.3L340.5,91.2L341.8,91.1L341.8,91.1L343.1,91L343,90.8L344.3,90.7L344.3,90.8L345.6,90.7L345.6,90.6L346.9,90.5L346.9,90.6L348.2,90.4L348.2,90.4L349.4,90.3L349.4,90.5L350.7,90.4L350.7,90.3L352,90.2L352,90.2L353.3,90.1L353.3,90.1L354.6,90.1L354.6,90.2L355.8,90.2L355.8,89.9L357.1,89.9L357.1,90L358.4,89.9L358.4,89.9L359.7,89.9L359.7,89.9L361,89.9L361,89.9L362.2,89.8L362.2,89.8L363.5,89.8L363.5,89.9L364.8,89.9L364.8,103.4L363.6,103.4L363.6,103.4L362.4,103.4L362.4,103.4L361.2,103.4L361.2,103.4L360,103.5L360,103.5L358.8,103.5L358.8,103.5L357.6,103.5L357.6,103.5L356.4,103.6L356.4,103.6L355.2,103.6L355.2,103.6L354,103.7L354,103.7L352.9,103.8L352.9,103.8L351.7,103.9L351.7,103.9L350.5,103.9L350.5,103.9L349.3,104L349.3,104L348.1,104.1L348.1,104.1L346.9,104.2L346.9,104.2L345.7,104.4L345.7,104.4L344.5,104.5L344.5,104.5L343.3,104.6L343.3,104.6L342.1,104.8L342.1,104.8L340.9,104.9L340.9,104.9L339.8,105.1L339.8,105.1L338.6,105.2L338.6,105.2L337.4,105.4L337.4,105.4L336.2,105.6L336.2,105.6L335,105.7L335,105.7L333.9,105.9L333.9,105.9L332.7,106.1L332.7,106.1L331.5,106.3L331.5,106.3L330.3,106.6L330.3,106.6L329.1,106.8L329.1,106.8L328,107L328,107L326.8,107.2L326.8,107.2L325.6,107.5L325.6,107.5L324.5,107.7L324.5,107.7L323.3,108L323.3,108L322.1,108.2L322.1,108.2L321,108.5L321,108.5L319.8,108.8L319.8,108.8L318.6,109.1L318.6,109.1L317.5,109.4L317.5,109.4L316.3,109.7L316.3,109.7L315.2,110L315.2,110L314,110.3L314,110.3L312.9,110.6L312.9,110.6L311.7,111L311.7,111L310.6,111.3L310.6,111.3L309.4,111.6L309.4,111.6L308.3,112L308.3,112L307.1,112.3L307.1,112.3L306,112.7L306,112.7L304.9,113.1L304.9,113.1L303.7,113.5L303.7,113.5L302.6,113.9L302.6,113.9L301.5,114.2L301.5,114.2L300.3,114.7L300.3,114.7L299.2,115.1L299.2,115.1L298.1,115.5L298.1,115.5L297,115.9L297,115.9L295.9,116.3L295.9,116.3L294.7,116.8L294.7,116.8L293.6,117.2L293.6,117.2L292.5,117.7L292.5,117.7L291.4,118.1L291.4,118.1L290.3,118.6L290.3,118.6L289.2,119.1L289.2,119.1L288.1,119.5L288.1,119.5L287,120L287,120L285.9,120.5L285.9,120.5L284.9,121L284.9,121L283.8,121.5L283.8,121.5L282.7,122L282.7,122L281.6,122.5L281.6,122.5L280.5,123.1L280.5,123.1L279.5,123.6L279.5,123.6L278.4,124.1L278.4,124.1L277.3,124.7L277.3,124.7L276.3,125.2L276.3,125.2L275.2,125.8L275.2,125.8L274.2,126.4L274.2,126.4L273.1,126.9L273.1,126.9L272.1,127.5L272.1,127.5L271,128.1L271,128.1L270,128.7L270,128.7L269,129.3L269,129.3L267.9,129.9L267.9,129.9L266.9,130.5L266.9,130.5L265.9,131.1L265.9,131.1L264.9,131.8L264.9,131.8L263.8,132.4L263.8,132.4L262.8,133L262.8,133L261.8,133.7L261.8,133.7L260.8,134.3L260.8,134.3L259.8,135L259.8,135L258.8,135.6L258.8,135.6L257.8,136.3L257.8,136.3L256.8,137L256.8,137L255.9,137.7L255.9,137.7L254.9,138.4L254.9,138.4L253.9,139L253.9,139L252.9,139.7L252.9,139.7L252,140.4L252,140.4L251,141.2L251,141.2L250.1,141.9L250.1,141.9L249.1,142.6L249.1,142.6L248.2,143.3L248.2,143.3L247.2,144.1L247.2,144.1L246.3,144.8L246.3,144.8L245.4,145.6L245.4,145.6L244.4,146.3L244.4,146.3L243.5,147.1L243.5,147.1L242.6,147.8L242.6,147.8L241.7,148.6L241.7,148.6L240.8,149.4L240.8,149.4L239.9,150.2L239.9,150.2L239,151L239,151L238.1,151.7L238.1,151.7L237.2,152.5L237.2,152.5L236.3,153.4L236.3,153.4L235.4,154.2L235.4,154.2L234.5,155L234.5,155L233.7,155.8L233.7,155.8L232.8,156.6L232.8,156.6L231.9,157.5L231.9,157.5L231.1,158.3L231.1,158.3L230.2,159.1L230.2,159.1L229.4,160L229.4,160L228.6,160.8L228.6,160.8L227.7,161.7L227.7,161.7L226.9,162.6L226.9,162.6L226.1,163.4L226.1,163.4L225.3,164.3L225.3,164.3L224.5,165.2L224.5,165.2L223.6,166.1L223.6,166.1L222.8,167L222.8,167L222.1,167.9L222.1,167.9L221.3,168.8L221.3,168.8L220.5,169.7L220.5,169.7L219.7,170.6L219.7,170.6L218.9,171.5L218.9,171.5L218.2,172.4L218.2,172.4L217.4,173.3L217.4,173.3L216.7,174.3L216.7,174.3L215.9,175.2L215.9,175.2L215.2,176.1L215.2,176.1L214.4,177.1L214.4,177.1L213.7,178L213.7,178L213,179L213,179L212.3,179.9L212.3,179.9L211.5,180.9L211.5,180.9L210.8,181.8L210.8,181.8L210.1,182.8L210.1,182.8L209.5,183.8L209.5,183.8L208.8,184.8L208.8,184.8L208.1,185.7L208.1,185.7L207.4,186.7L207.4,186.7L206.7,187.7L206.7,187.7L206.1,188.7L206.1,188.7L205.4,189.7L205.4,189.7L204.8,190.7L204.8,190.7L204.1,191.7L204.1,191.7L203.5,192.7L203.5,192.7L202.9,193.8L202.9,193.8L202.2,194.8L202.2,194.8L201.6,195.8L201.6,195.8L201,196.8L201,196.8L200.4,197.9L200.4,197.9L199.8,198.9L199.8,198.9L199.2,199.9L199.2,199.9L198.6,201L198.6,201L198,202L198,202L197.5,203.1L197.5,203.1L196.9,204.1L196.9,204.1L196.3,205.2L196.3,205.2L195.8,206.2L195.8,206.2L195.2,207.3L195.2,207.3L194.7,208.4L194.7,208.4L194.2,209.4L194.2,209.4L193.6,210.5L193.6,210.5L193.1,211.6L193.1,211.6L192.6,212.7L192.6,212.7L192.1,213.8L192.1,213.8L191.6,214.8L191.6,214.8L191.1,215.9L191.1,215.9L190.6,217L190.6,217L190.2,218.1L190.2,218.1L189.7,219.2L189.7,219.2L189.2,220.3L189.2,220.3L188.8,221.4L188.8,221.4L188.3,222.5L188.3,222.5L187.9,223.6L187.9,223.6L187.4,224.8L187.4,224.8L187,225.9L187,225.9L186.6,227L186.6,227L186.2,228.1L186.2,228.1L185.8,229.2L185.8,229.2L185.3,230.4L185.3,230.4L185,231.5L185,231.5L184.6,232.6L184.6,232.6L184.2,233.8L184.2,233.8L183.8,234.9L183.8,234.9L183.4,236L183.4,236L183.1,237.2L183.1,237.2L182.7,238.3L182.7,238.3L182.4,239.5L182.4,239.5L182.1,240.6L182.1,240.6L181.7,241.8L181.7,241.8L181.4,242.9L181.4,242.9L181.1,244.1L181.1,244.1L180.8,245.2L180.8,245.2L180.5,246.4L180.5,246.4L180.2,247.5L180.2,247.5L179.9,248.7L179.9,248.7L179.6,249.9L179.6,249.9L179.3,251L179.3,251L179.1,252.2L179.1,252.2L178.8,253.4L178.8,253.4L178.6,254.5L178.6,254.5L178.3,255.7L178.3,255.7L178.1,256.9L178.1,256.9L177.9,258L177.9,258L177.7,259.2L177.7,259.2L177.4,260.4L177.4,260.4L177.2,261.6L177.2,261.6L177,262.8L177,262.8L176.8,263.9L176.8,263.9L176.7,265.1L176.7,265.1L176.5,266.3L176.5,266.3L176.3,267.5L176.3,267.5L176.2,268.7L176.2,268.7L176,269.8L176,269.8L175.9,271L175.9,271L175.7,272.2L175.7,272.2L175.6,273.4L175.6,273.4L175.5,274.6L175.5,274.6L175.3,275.8L175.3,275.8L175.2,277L175.2,277L175.1,278.2L175.1,278.2L175,279.4L175,279.4L175,280.6L175,280.6L174.9,281.8L174.9,281.8L174.8,282.9L174.8,282.9L174.7,284.1L174.7,284.1L174.7,285.3L174.7,285.3L174.6,286.5L174.6,286.5L174.6,287.7L174.6,287.7L174.6,288.9L174.6,288.9L174.5,290.1L174.5,290.1L174.5,291.3L174.5,291.3L174.5,292.5L174.5,292.5L174.5,293.7L174.5,293.7L174.5,294.9L174.5,294.9L174.5,296.1L174.5,296.1L174.5,297.3L174.5,297.3L174.6,298.5L174.6,298.5L174.6,299.7L174.6,299.7L174.6,300.9L174.6,300.9L174.7,302.1L174.7,302.1L174.7,303.3L174.7,303.3L174.8,304.5L174.8,304.5L174.9,305.6L174.9,305.6L175,306.8L175,306.8L175,308L175,308L175.1,309.2L175.1,309.2L175.2,310.4L175.2,310.4L175.3,311.6L175.3,311.6L175.5,312.8L175.5,312.8L175.6,314L175.6,314L175.7,315.2L175.7,315.2L175.9,316.4L175.9,316.4L176,317.6L176,317.6L176.2,318.7L176.2,318.7L176.3,319.9L176.3,319.9L176.5,321.1L176.5,321.1L176.7,322.3L176.7,322.3L176.8,323.5L176.8,323.5L177,324.6L177,324.6L177.2,325.8L177.2,325.8L177.4,327L177.4,327L177.7,328.2L177.7,328.2L177.9,329.4L177.9,329.4L178.1,330.5L178.1,330.5L178.3,331.7L178.3,331.7L178.6,332.9L178.6,332.9L178.8,334L178.8,334L179.1,335.2L179.1,335.2L179.3,336.4L179.3,336.4L179.6,337.5L179.6,337.5L179.9,338.7L179.9,338.7L180.2,339.9L180.2,339.9L180.5,341L180.5,341L180.8,342.2L180.8,342.2L181.1,343.3L181.1,343.3L181.4,344.5L181.4,344.5L181.7,345.6L181.7,345.6L182.1,346.8L182.1,346.8L182.4,347.9L182.4,347.9L182.7,349.1L182.7,349.1L183.1,350.2L183.1,350.2L183.4,351.4L183.4,351.4L183.8,352.5L183.8,352.5L184.2,353.6L184.2,353.6L184.6,354.8L184.6,354.8L185,355.9L185,355.9L185.3,357L185.3,357L185.8,358.2L185.8,358.2L186.2,359.3L186.2,359.3L186.6,360.4L186.6,360.4L187,361.5L187,361.5L187.4,362.6L187.4,362.6L187.9,363.8L187.9,363.8L188.3,364.9L188.3,364.9L188.8,366L188.8,366L189.2,367.1L189.2,367.1L189.7,368.2L189.7,368.2L190.2,369.3L190.2,369.3L190.6,370.4L190.6,370.4L191.1,371.5L191.1,371.5L191.6,372.6L191.6,372.6L192.1,373.6L192.1,373.6L192.6,374.7L192.6,374.7L193.1,375.8L193.1,375.8L193.6,376.9L193.6,376.9L194.2,378L194.2,378L194.7,379L194.7,379L195.2,380.1L195.2,380.1L195.8,381.2L195.8,381.2L196.3,382.2L196.3,382.2L196.9,383.3L196.9,383.3L197.5,384.3L197.5,384.3L198,385.4L198,385.4L198.6,386.4L198.6,386.4L199.2,387.5L199.2,387.5L199.8,388.5L199.8,388.5L200.4,389.5L200.4,389.5L201,390.6L201,390.6L201.6,391.6L201.6,391.6L202.2,392.6L202.2,392.6L202.9,393.6L202.9,393.6L203.5,394.7L203.5,394.7L204.1,395.7L204.1,395.7L204.8,396.7L204.8,396.7L205.4,397.7L205.4,397.7L206.1,398.7L206.1,398.7L206.7,399.7L206.7,399.7L207.4,400.7L207.4,400.7L208.1,401.7L208.1,401.7L208.8,402.6L208.8,402.6L209.5,403.6L209.5,403.6L210.1,404.6L210.1,404.6L210.8,405.6L210.8,405.6L211.5,406.5L211.5,406.5L212.3,407.5L212.3,407.5L213,408.4L213,408.4L213.7,409.4L213.7,409.4L214.4,410.3L214.4,410.3L215.2,411.3L215.2,411.3L215.9,412.2L215.9,412.2L216.7,413.1L216.7,413.1L217.4,414.1L217.4,414.1L218.2,415L218.2,415L218.9,415.9L218.9,415.9L219.7,416.8L219.7,416.8L220.5,417.7L220.5,417.7L221.3,418.6L221.3,418.6L222.1,419.5L222.1,419.5L222.8,420.4L222.8,420.4L223.6,421.3L223.6,421.3L224.5,422.2L224.5,422.2L225.3,423.1L225.3,423.1L226.1,424L226.1,424L226.9,424.8L226.9,424.8L227.7,425.7L227.7,425.7L228.6,426.6L228.6,426.6L229.4,427.4L229.4,427.4L230.2,428.3L230.2,428.3L231.1,429.1L231.1,429.1L231.9,429.9L231.9,429.9L232.8,430.8L232.8,430.8L233.7,431.6L233.7,431.6L234.5,432.4L234.5,432.4L235.4,433.2L235.4,433.2L236.3,434L236.3,434L237.2,434.9L237.2,434.9L238.1,435.7L238.1,435.7L239,436.4L239,436.4L239.9,437.2L239.9,437.2L240.8,438L240.8,438L241.7,438.8L241.7,438.8L242.6,439.6L242.6,439.6L243.5,440.3L243.5,440.3L244.4,441.1L244.4,441.1L245.4,441.8L245.4,441.8L246.3,442.6L246.3,442.6L247.2,443.3L247.2,443.3L248.2,444.1L248.2,444.1L249.1,444.8L249.1,444.8L250.1,445.5L250.1,445.5L251,446.2L251,446.2L252,447L252,447L252.9,447.7L252.9,447.7L253.9,448.4L253.9,448.4L254.9,449L254.9,449L255.9,449.7L255.9,449.7L256.8,450.4L256.8,450.4L257.8,451.1L257.8,451.1L258.8,451.8L258.8,451.8L259.8,452.4L259.8,452.4L260.8,453.1L260.8,453.1L261.8,453.7L261.8,453.7L262.8,454.4L262.8,454.4L263.8,455L263.8,455L264.9,455.6L264.9,455.6L265.9,456.3L265.9,456.3L266.9,456.9L266.9,456.9L267.9,457.5L267.9,457.5L269,458.1L269,458.1L270,458.7L270,458.7L271,459.3L271,459.3L272.1,459.9L272.1,459.9L273.1,460.5L273.1,460.5L274.2,461L274.2,461L275.2,461.6L275.2,461.6L276.3,462.2L276.3,462.2L277.3,462.7L277.3,462.7L278.4,463.3L278.4,463.3L279.5,463.8L279.5,463.8L280.5,464.3L280.5,464.3L281.6,464.9L281.6,464.9L282.7,465.4L282.7,465.4L283.8,465.9L283.8,465.9L284.9,466.4L284.9,466.4L285.9,466.9L285.9,466.9L287,467.4L287,467.4L288.1,467.9L288.1,467.9L289.2,468.3L289.2,468.3L290.3,468.8L290.3,468.8L291.4,469.3L291.4,469.3L292.5,469.7L292.5,469.7L293.6,470.2L293.6,470.2L294.7,470.6L294.7,470.6L295.9,471.1L295.9,471.1L297,471.5L297,471.5L298.1,471.9L298.1,471.9L299.2,472.3L299.2,472.3L300.3,472.7L300.3,472.7L301.5,473.2L301.5,473.2L302.6,473.5L302.6,473.5L303.7,473.9L303.7,473.9L304.9,474.3L304.9,474.3L306,474.7L306,474.7L307.1,475.1L307.1,475.1L308.3,475.4L308.3,475.4L309.4,475.8L309.4,475.8L310.6,476.1L310.6,476.1L311.7,476.4L311.7,476.4L312.9,476.8L312.9,476.8L314,477.1L314,477.1L315.2,477.4L315.2,477.4L316.3,477.7L316.3,477.7L317.5,478L317.5,478L318.6,478.3L318.6,478.3L319.8,478.6L319.8,478.6L321,478.9L321,478.9L322.1,479.2L322.1,479.2L323.3,479.4L323.3,479.4L324.5,479.7L324.5,479.7L325.6,479.9L325.6,479.9L326.8,480.2L326.8,480.2L328,480.4L328,480.4L329.1,480.6L329.1,480.6L330.3,480.8L330.3,480.8L331.5,481.1L331.5,481.1L332.7,481.3L332.7,481.3L333.9,481.5L333.9,481.5L335,481.7L335,481.7L336.2,481.8L336.2,481.8L337.4,482L337.4,482L338.6,482.2L338.6,482.2L339.8,482.3L339.8,482.3L340.9,482.5L340.9,482.5L342.1,482.6L342.1,482.6L343.3,482.8L343.3,482.8L344.5,482.9L344.5,482.9L345.7,483L345.7,483L346.9,483.2L346.9,483.2L348.1,483.3L348.1,483.3L349.3,483.4L349.3,483.4L350.5,483.5L350.5,483.5L351.7,483.5L351.7,483.5L352.9,483.6L352.9,483.6L354,483.7L354,483.7L355.2,483.8L355.2,483.8L356.4,483.8L356.4,483.8L357.6,483.9L357.6,483.9L358.8,483.9L358.8,483.9L360,483.9L360,483.9L361.2,484L361.2,484L362.4,484L362.4,484L363.6,484L363.6,484L364.8,484L364.8,484L366,484L366,484L367.2,484L367.2,484L368.4,484L368.4,484L369.6,483.9L369.6,483.9L370.8,483.9L370.8,483.9L372,483.9L372,483.9L373.2,483.8L373.2,483.8L374.4,483.8L374.4,483.8L375.6,483.7L375.6,483.7L376.7,483.6L376.7,483.6L377.9,483.5L377.9,483.5L379.1,483.5L379.1,483.5L380.3,483.4L380.3,483.4L381.5,483.3L381.5,483.3L382.7,483.2L382.7,483.2L383.9,483L383.9,483L385.1,482.9L385.1,482.9L386.3,482.8L386.3,482.8L387.5,482.6L387.5,482.6L388.7,482.5L388.7,482.5L389.8,482.3L389.8,482.3L391,482.2L391,482.2L392.2,482L392.2,482L393.4,481.8L393.4,481.8L394.6,481.7L394.6,481.7L395.7,481.5L395.7,481.5L396.9,481.3L396.9,481.3L398.1,481.1L398.1,481.1L399.3,480.8L399.3,480.8L400.5,480.6L400.5,480.6L401.6,480.4L401.6,480.4L402.8,480.2L402.8,480.2L404,479.9L404,479.9L405.1,479.7L405.1,479.7L406.3,479.4L406.3,479.4L407.5,479.2L407.5,479.2L408.6,478.9L408.6,478.9L409.8,478.6L409.8,478.6L411,478.3L411,478.3L412.1,478L412.1,478L413.3,477.7L413.3,477.7L414.4,477.4L414.4,477.4L415.6,477.1L415.6,477.1L416.7,476.8L416.7,476.8L417.9,476.4L417.9,476.4L419,476.1L419,476.1L420.2,475.8L420.2,475.8L421.3,475.4L421.3,475.4L422.5,475.1L422.5,475.1L423.6,474.7L423.6,474.7L424.7,474.3L424.7,474.3L425.9,473.9L425.9,473.9L427,473.5L427,473.5L428.1,473.2L428.1,473.2L429.3,472.7L429.3,472.7L430.4,472.3L430.4,472.3L431.5,471.9L431.5,471.9L432.6,471.5L432.6,471.5L433.7,471.1L433.7,471.1L434.9,470.6L434.9,470.6L436,470.2L436,470.2L437.1,469.7L437.1,469.7L438.2,469.3L438.2,469.3L439.3,468.8L439.3,468.8L440.4,468.3L440.4,468.3L441.5,467.9L441.5,467.9L442.6,467.4L442.6,467.4L443.7,466.9L443.7,466.9L444.7,466.4L444.7,466.4L445.8,465.9L445.8,465.9L446.9,465.4L446.9,465.4L448,464.9L448,464.9L449.1,464.3L449.1,464.3L450.1,463.8L450.1,463.8L451.2,463.3L451.2,463.3L452.3,462.7L452.3,462.7L453.3,462.2L453.3,462.2L454.4,461.6L454.4,461.6L455.4,461L455.4,461L456.5,460.5L456.5,460.5L457.5,459.9L457.5,459.9L458.6,459.3L458.6,459.3L459.6,458.7L459.6,458.7L460.6,458.1L460.6,458.1L461.7,457.5L461.7,457.5L462.7,456.9L462.7,456.9L463.7,456.3L463.7,456.3L464.7,455.6L464.7,455.6L465.8,455L465.8,455L466.8,454.4L466.8,454.4L467.8,453.7L467.8,453.7L468.8,453.1L468.8,453.1L469.8,452.4L469.8,452.4L470.8,451.8L470.8,451.8L471.8,451.1L471.8,451.1L472.8,450.4L472.8,450.4L473.7,449.7L473.7,449.7L474.7,449L474.7,449L475.7,448.4L475.7,448.4L476.7,447.7L476.7,447.7L477.6,447L477.6,447L478.6,446.2L478.6,446.2L479.5,445.5L479.5,445.5L480.5,444.8L480.5,444.8L481.4,444.1L481.4,444.1L482.4,443.3L482.4,443.3L483.3,442.6L483.3,442.6L484.2,441.8L484.2,441.8L485.2,441.1L485.2,441.1L486.1,440.3L486.1,440.3L487,439.6L487,439.6L487.9,438.8L487.9,438.8L488.8,438L488.8,438L489.7,437.2L489.7,437.2L490.6,436.4L490.6,436.4L491.5,435.7L491.5,435.7L492.4,434.9L492.4,434.9L493.3,434L493.3,434L494.2,433.2L494.2,433.2L495.1,432.4L495.1,432.4L495.9,431.6L495.9,431.6L496.8,430.8L496.8,430.8L497.7,429.9L497.7,429.9L498.5,429.1L498.5,429.1L499.4,428.3L499.4,428.3L500.2,427.4L500.2,427.4L501,426.6L501,426.6L501.9,425.7L501.9,425.7L502.7,424.8L502.7,424.8L503.5,424L503.5,424L504.3,423.1L504.3,423.1L505.1,422.2L505.1,422.2L506,421.3L506,421.3L506.8,420.4L506.8,420.4L507.5,419.5L507.5,419.5L508.3,418.6L508.3,418.6L509.1,417.7L509.1,417.7L509.9,416.8L509.9,416.8L510.7,415.9L510.7,415.9L511.4,415L511.4,415L512.2,414.1L512.2,414.1L512.9,413.1L512.9,413.1L513.7,412.2L513.7,412.2L514.4,411.3L514.4,411.3L515.2,410.3L515.2,410.3L515.9,409.4L515.9,409.4L516.6,408.4L516.6,408.4L517.3,407.5L517.3,407.5L518.1,406.5L518.1,406.5L518.8,405.6L518.8,405.6L519.5,404.6L519.5,404.6L520.1,403.6L520.1,403.6L520.8,402.6L520.8,402.6L521.5,401.7L521.5,401.7L522.2,400.7L522.2,400.7L522.9,399.7L522.9,399.7L523.5,398.7L523.5,398.7L524.2,397.7L524.2,397.7L524.8,396.7L524.8,396.7L525.5,395.7L525.5,395.7L526.1,394.7L526.1,394.7L526.7,393.6L526.7,393.6L527.4,392.6L527.4,392.6L528,391.6L528,391.6L528.6,390.6L528.6,390.6L529.2,389.5L529.2,389.5L529.8,388.5L529.8,388.5L530.4,387.5L530.4,387.5L531,386.4L531,386.4L531.6,385.4L531.6,385.4L532.1,384.3L532.1,384.3L532.7,383.3L532.7,383.3L533.3,382.2L533.3,382.2L533.8,381.2L533.8,381.2L534.4,380.1L534.4,380.1L534.9,379L534.9,379L535.4,378L535.4,378L536,376.9L536,376.9L536.5,375.8L536.5,375.8L537,374.7L537,374.7L537.5,373.6L537.5,373.6L538,372.6L538,372.6L538.5,371.5L538.5,371.5L539,370.4L539,370.4L539.4,369.3L539.4,369.3L539.9,368.2L539.9,368.2L540.4,367.1L540.4,367.1L540.8,366L540.8,366L541.3,364.9L541.3,364.9L541.7,363.8L541.7,363.8L542.2,362.6L542.2,362.6L542.6,361.5L542.6,361.5L543,360.4L543,360.4L543.4,359.3L543.4,359.3L543.8,358.2L543.8,358.2L544.3,357L544.3,357L544.6,355.9L544.6,355.9L545,354.8L545,354.8L545.4,353.6L545.4,353.6L545.8,352.5L545.8,352.5L546.2,351.4L546.2,351.4L546.5,350.2L546.5,350.2L546.9,349.1L546.9,349.1L547.2,347.9L547.2,347.9L547.5,346.8L547.5,346.8L547.9,345.6L547.9,345.6L548.2,344.5L548.2,344.5L548.5,343.3L548.5,343.3L548.8,342.2L548.8,342.2L549.1,341L549.1,341L549.4,339.9L549.4,339.9L549.7,338.7L549.7,338.7L550,337.5L550,337.5L550.3,336.4L550.3,336.4L550.5,335.2L550.5,335.2L550.8,334L550.8,334L551,332.9L551,332.9L551.3,331.7L551.3,331.7L551.5,330.5L551.5,330.5L551.7,329.4L551.7,329.4L551.9,328.2L551.9,328.2L552.2,327L552.2,327L552.4,325.8L552.4,325.8L552.6,324.6L552.6,324.6L552.8,323.5L552.8,323.5L552.9,322.3L552.9,322.3L553.1,321.1L553.1,321.1L553.3,319.9L553.3,319.9L553.4,318.7L553.4,318.7L553.6,317.6L553.6,317.6L553.7,316.4L553.7,316.4L553.9,315.2L553.9,315.2L554,314L554,314L554.1,312.8L554.1,312.8L554.3,311.6L554.3,311.6L554.4,310.4L554.4,310.4L554.5,309.2L554.5,309.2L554.6,308L554.6,308L554.6,306.8L554.6,306.8L554.7,305.6L554.7,305.6L554.8,304.5L554.8,304.5L554.9,303.3L554.9,303.3L554.9,302.1L554.9,302.1L555,300.9L555,300.9L555,299.7L555,299.7L555,298.5L555,298.5L555.1,297.3L555.1,297.3L555.1,296.1L555.1,296.1L555.1,294.9L555.1,294.9L555.1,293.7L555.1,293.7L555.1,292.5L555.1,292.5L555.1,291.3L555.1,291.3L555.1,290.1L555.1,290.1L555,288.9L555,288.9L555,287.7L555,287.7L555,286.5L555,286.5L554.9,285.3L554.9,285.3L554.9,284.1L554.9,284.1L554.8,282.9L554.8,282.9L554.7,281.8L554.7,281.8L554.6,280.6L554.6,280.6L554.6,279.4L554.6,279.4L554.5,278.2L554.5,278.2L554.4,277L554.4,277L554.3,275.8L554.3,275.8L554.1,274.6L554.1,274.6L554,273.4L554,273.4L553.9,272.2L553.9,272.2L553.7,271L553.7,271L553.6,269.8L553.6,269.8L553.4,268.7L553.4,268.7L553.3,267.5L553.3,267.5L553.1,266.3L553.1,266.3L552.9,265.1L552.9,265.1L552.8,263.9L552.8,263.9L552.6,262.8L552.6,262.8L552.4,261.6L552.4,261.6L552.2,260.4L552.2,260.4L551.9,259.2L551.9,259.2L551.7,258L551.7,258L551.5,256.9L551.5,256.9L551.3,255.7L551.3,255.7L551,254.5L551,254.5L550.8,253.4L550.8,253.4L550.5,252.2L550.5,252.2L550.3,251L550.3,251L550,249.9L550,249.9L549.7,248.7L549.7,248.7L549.4,247.5L549.4,247.5L549.1,246.4L549.1,246.4L548.8,245.2L548.8,245.2L548.5,244.1L548.5,244.1L548.2,242.9L548.2,242.9L547.9,241.8L547.9,241.8L547.5,240.6L547.5,240.6L547.2,239.5L547.2,239.5L546.9,238.3L546.9,238.3L546.5,237.2L546.5,237.2L546.2,236L546.2,236L545.8,234.9L545.8,234.9L545.4,233.8L545.4,233.8L545,232.6L545,232.6L544.6,231.5L544.6,231.5L544.3,230.4L544.3,230.4L543.8,229.2L543.8,229.2L543.4,228.1L543.4,228.1L543,227L543,227L542.6,225.9L542.6,225.9L542.2,224.8L542.2,224.8L541.7,223.6L541.7,223.6L541.3,222.5L541.3,222.5L540.8,221.4L540.8,221.4L540.4,220.3L540.4,220.3L539.9,219.2L539.9,219.2L539.4,218.1L539.4,218.1L539,217L539,217L538.5,215.9L538.5,215.9L538,214.8L538,214.8L537.5,213.8L537.5,213.8L537,212.7L537,212.7L536.5,211.6L536.5,211.6L536,210.5L536,210.5L535.4,209.4L535.4,209.4L534.9,208.4L534.9,208.4L534.4,207.3L534.4,207.3L533.8,206.2L533.8,206.2L533.3,205.2L533.3,205.2L532.7,204.1L532.7,204.1L532.1,203.1L532.1,203.1L531.6,202L531.6,202L531,201L531,201L530.4,199.9L530.4,199.9L529.8,198.9L529.8,198.9L529.2,197.9L529.2,197.9L528.6,196.8L528.6,196.8L528,195.8L528,195.8L527.4,194.8L527.4,194.8L526.7,193.8L526.7,193.8L526.1,192.7L526.1,192.7L525.5,191.7L525.5,191.7L524.8,190.7L524.8,190.7L524.2,189.7L524.2,189.7L523.5,188.7L523.5,188.7L522.9,187.7L522.9,187.7L522.2,186.7L522.2,186.7L521.5,185.7L521.5,185.7L520.8,184.8L520.8,184.8L520.1,183.8L520.1,183.8L519.5,182.8L519.5,182.8L518.8,181.8L518.8,181.8L518.1,180.9L518.1,180.9L517.3,179.9L517.3,179.9L516.6,179L516.6,179L515.9,178L515.9,178L515.2,177.1L515.2,177.1L514.4,176.1L514.4,176.1L513.7,175.2L513.7,175.2L512.9,174.3L512.9,174.3L512.2,173.3L512.2,173.3L511.4,172.4L511.4,172.4L510.7,171.5L510.7,171.5L509.9,170.6L509.9,170.6L509.1,169.7L509.1,169.7L508.3,168.8L508.3,168.8L507.5,167.9L507.5,167.9L506.8,167L506.8,167L506,166.1L506,166.1L505.1,165.2L505.1,165.2L504.3,164.3L504.3,164.3L503.5,163.4L503.5,163.4L502.7,162.6L502.7,162.6L501.9,161.7L501.9,161.7L501,160.8L501,160.8L500.2,160L500.2,160L499.4,159.1L499.4,159.1L498.5,158.3L498.5,158.3L497.7,157.5L497.7,157.5L496.8,156.6L496.8,156.6L495.9,155.8L495.9,155.8L495.1,155L495.1,155L494.2,154.2L494.2,154.2L493.3,153.4L493.3,153.4L492.4,152.5L492.4,152.5L491.5,151.7L491.5,151.7L490.6,151L490.6,151L489.7,150.2L489.7,150.2L488.8,149.4L488.8,149.4L487.9,148.6L487.9,148.6L487,147.8L487,147.8L486.1,147.1L486.1,147.1L485.2,146.3L485.2,146.3L484.2,145.6L484.2,145.6L483.3,144.8L483.3,144.8L482.4,144.1L482.4,144.1L481.4,143.3L481.4,143.3L480.5,142.6L480.5,142.6L479.5,141.9L479.5,141.9L478.6,141.2L478.6,141.2L477.6,140.4L477.6,140.4L476.7,139.7L476.7,139.7L475.7,139L475.7,139L474.7,138.4L474.7,138.4L473.7,137.7L473.7,137.7L472.8,137L472.8,137L471.8,136.3L471.8,136.3L470.8,135.6L470.8,135.6L469.8,135L469.8,135L468.8,134.3L468.8,134.3L467.8,133.7L467.8,133.7L466.8,133L466.8,133L465.8,132.4L465.8,132.4L464.7,131.8L464.7,131.8L463.7,131.1L463.7,131.1L462.7,130.5L462.7,130.5L461.7,129.9L461.7,129.9L460.6,129.3L460.6,129.3L459.6,128.7L459.6,128.7L458.6,128.1L458.6,128.1L457.5,127.5L457.5,127.5L456.5,126.9L456.5,126.9L455.4,126.4L455.4,126.4L454.4,125.8L454.4,125.8L453.3,125.2L453.3,125.2L452.3,124.7L452.3,124.7L451.2,124.1L451.2,124.1L450.1,123.6L450.1,123.6L449.1,123.1L449.1,123.1L448,122.5L448,122.5L446.9,122L446.9,122L445.8,121.5L445.8,121.5L444.7,121L444.7,121L443.7,120.5L443.7,120.5L442.6,120L442.6,120L441.5,119.5L441.5,119.5L440.4,119.1L440.4,119.1L439.3,118.6L439.3,118.6L438.2,118.1L438.2,118.1L437.1,117.7L437.1,117.7L436,117.2L436,117.2L434.9,116.8L434.9,116.8L433.7,116.3L433.7,116.3L432.6,115.9L432.6,115.9L431.5,115.5L431.5,115.5L430.4,115.1L430.4,115.1L429.3,114.7L429.3,114.7L428.1,114.2L428.1,114.2L427,113.9L427,113.9L425.9,113.5L425.9,113.5L424.7,113.1L424.7,113.1L423.6,112.7L423.6,112.7L422.5,112.3L422.5,112.3L421.3,112L421.3,112L420.2,111.6L420.2,111.6L419,111.3L419,111.3L417.9,111L417.9,111L416.7,110.6L416.7,110.6L415.6,110.3L415.6,110.3L414.4,110L414.4,110L413.3,109.7L413.3,109.7L412.1,109.4L412.1,109.4L411,109.1L411,109.1L409.8,108.8L409.8,108.8L408.6,108.5L408.6,108.5L407.5,108.2L407.5,108.2L406.3,108L406.3,108L405.1,107.7L405.1,107.7L404,107.5L404,107.5L402.8,107.2L402.8,107.2L401.6,107L401.6,107L400.5,106.8L400.5,106.8L399.3,106.6L399.3,106.6L398.1,106.3L398.1,106.3L396.9,106.1L396.9,106.1L395.7,105.9L395.7,105.9L394.6,105.7L394.6,105.7L393.4,105.6L393.4,105.6L392.2,105.4L392.2,105.4L391,105.2L391,105.2L389.8,105.1L389.8,105.1L388.7,104.9L388.7,104.9L387.5,104.8L387.5,104.8L386.3,104.6L386.3,104.6L385.1,104.5L385.1,104.5L383.9,104.4L383.9,104.4L382.7,104.2L382.7,104.2L381.5,104.1L381.5,104.1L380.3,104L380.3,104L379.1,103.9L379.1,103.9L377.9,103.9L377.9,103.9L376.7,103.8L376.7,103.8L375.6,103.7L375.6,103.7L374.4,103.6L374.4,103.6L373.2,103.6L373.2,103.6L372,103.5L372,103.5L370.8,103.5L370.8,103.5L369.6,103.5L369.6,103.5L368.4,103.4L368.4,103.4L367.2,103.4L367.2,103.4L366,103.4L366,103.4L364.8,103.4Z" fill="#1f78b4"/>
<path d="M364.8,62.8L366.3,62.8L366.3,62.8L367.7,62.8L367.7,62.8L369.2,62.8L369.2,62.8L370.6,62.9L370.6,62.9L372.1,62.9L372.1,62.9L373.5,63L373.5,63L375,63L375,63L376.4,63.1L376.4,63.1L377.9,63.2L377.9,63.2L379.3,63.3L379.3,63.3L380.7,63.4L380.7,63.4L382.2,63.5L382.2,63.5L383.6,63.6L383.6,63.6L385.1,63.7L385.1,63.7L386.5,63.8L386.5,63.8L388,64L388,64L389.4,64.1L389.4,64.1L390.9,64.3L390.9,64.3L392.3,64.4L392.3,64.4L393.7,64.6L393.7,64.6L395.2,64.8L395.2,64.8L396.6,65L396.6,65L398.1,65.2L398.1,65.2L399.5,65.4L399.5,65.4L400.9,65.6L400.9,65.6L402.4,65.9L402.4,65.9L403.8,66.1L403.8,66.1L405.2,66.4L405.2,66.4L406.6,66.6L406.6,66.6L408.1,66.9L408.1,66.9L409.5,67.2L409.5,67.2L410.9,67.5L410.9,67.5L412.3,67.7L412.3,67.7L413.8,68L413.8,68L415.2,68.4L415.2,68.4L416.6,68.7L416.6,68.7L418,69L418,69L419.4,69.4L419.4,69.4L420.8,69.7L420.8,69.7L422.2,70.1L422.2,70.1L423.6,70.4L423.6,70.4L425,70.8L425,70.8L426.4,71.2L426.4,71.2L427.8,71.6L427.8,71.6L429.2,72L429.2,72L430.6,72.4L430.6,72.4L432,72.8L432,72.8L433.4,73.2L433.4,73.2L434.8,73.7L434.8,73.7L436.2,74.1L436.2,74.1L437.5,74.6L437.5,74.6L438.9,75L438.9,75L440.3,75.5L440.3,75.5L441.6,76L441.6,76L443,76.5L443,76.5L444.4,76.9L444.4,76.9L445.7,77.5L445.7,77.5L447.1,78L447.1,78L448.4,78.5L448.4,78.5L449.8,79L449.8,79L451.1,79.6L451.1,79.6L452.5,80.1L452.5,80.1L453.8,80.7L453.8,80.7L455.2,81.2L455.2,81.2L456.5,81.8L456.5,81.8L457.8,82.4L457.8,82.4L459.2,83L459.2,83L460.5,83.6L460.5,83.6L461.8,84.2L461.8,84.2L463.1,84.8L463.1,84.8L464.4,85.4L464.4,85.4L465.7,86L465.7,86L467,86.7L467,86.7L468.3,87.3L468.3,87.3L469.6,88L469.6,88L470.9,88.6L470.9,88.6L472.2,89.3L472.2,89.3L473.5,90L473.5,90L474.8,90.7L474.8,90.7L476,91.4L476,91.4L477.3,92.1L477.3,92.1L478.6,92.8L478.6,92.8L479.8,93.5L479.8,93.5L481.1,94.2L481.1,94.2L482.3,95L482.3,95L483.6,95.7L483.6,95.7L484.8,96.4L484.8,96.4L486.1,97.2L486.1,97.2L487.3,98L487.3,98L488.5,98.7L488.5,98.7L489.7,99.5L489.7,99.5L491,100.3L491,100.3L492.2,101.1L492.2,101.1L493.4,101.9L493.4,101.9L494.6,102.7L494.6,102.7L495.8,103.5L495.8,103.5L497,104.4L497,104.4L498.2,105.2L498.2,105.2L499.3,106L499.3,106L500.5,106.9L500.5,106.9L501.7,107.8L501.7,107.8L502.9,108.6L502.9,108.6L504,109.5L504,109.5L505.2,110.4L505.2,110.4L506.3,111.3L506.3,111.3L507.5,112.1L507.5,112.1L508.6,113L508.6,113L509.7,114L509.7,114L510.9,114.9L510.9,114.9L512,115.8L512,115.8L513.1,116.7L513.1,116.7L514.2,117.7L514.2,117.7L515.3,118.6L515.3,118.6L516.4,119.5L516.4,119.5L517.5,120.5L517.5,120.5L518.6,121.5L518.6,121.5L519.7,122.4L519.7,122.4L520.7,123.4L520.7,123.4L521.8,124.4L521.8,124.4L522.9,125.4L522.9,125.4L523.9,126.4L523.9,126.4L525,127.4L525,127.4L526,128.4L526,128.4L527,129.4L527,129.4L528.1,130.4L528.1,130.4L529.1,131.5L529.1,131.5L530.1,132.5L530.1,132.5L531.1,133.5L531.1,133.5L532.1,134.6L532.1,134.6L533.1,135.6L533.1,135.6L534.1,136.7L534.1,136.7L535.1,137.8L535.1,137.8L536.1,138.8L536.1,138.8L537,139.9L537,139.9L538,141L538,141L539,142.1L539,142.1L539.9,143.2L539.9,143.2L540.8,144.3L540.8,144.3L541.8,145.4L541.8,145.4L542.7,146.5L542.7,146.5L543.6,147.6L543.6,147.6L544.5,148.8L544.5,148.8L545.5,149.9L545.5,149.9L546.4,151L546.4,151L547.2,152.2L547.2,152.2L548.1,153.3L548.1,153.3L549,154.5L549,154.5L549.9,155.6L549.9,155.6L550.7,156.8L550.7,156.8L551.6,158L551.6,158L552.5,159.2L552.5,159.2L553.3,160.3L553.3,160.3L554.1,161.5L554.1,161.5L555,162.7L555,162.7L555.8,163.9L555.8,163.9L556.6,165.1L556.6,165.1L557.4,166.3L557.4,166.3L558.2,167.5L558.2,167.5L559,168.8L559,168.8L559.8,170L559.8,170L560.5,171.2L560.5,171.2L561.3,172.4L561.3,172.4L562.1,173.7L562.1,173.7L562.8,174.9L562.8,174.9L563.5,176.2L563.5,176.2L564.3,177.4L564.3,177.4L565,178.7L565,178.7L565.7,179.9L565.7,179.9L566.4,181.2L566.4,181.2L567.1,182.5L567.1,182.5L567.8,183.7L567.8,183.7L568.5,185L568.5,185L569.2,186.3L569.2,186.3L569.9,187.6L569.9,187.6L570.5,188.9L570.5,188.9L571.2,190.2L571.2,190.2L571.8,191.5L571.8,191.5L572.5,192.8L572.5,192.8L573.1,194.1L573.1,194.1L573.7,195.4L573.7,195.4L574.3,196.7L574.3,196.7L574.9,198L574.9,198L575.5,199.3L575.5,199.3L576.1,200.7L576.1,200.7L576.7,202L576.7,202L577.3,203.3L577.3,203.3L577.8,204.7L577.8,204.7L578.4,206L578.4,206L578.9,207.4L578.9,207.4L579.5,208.7L579.5,208.7L580,210.1L580,210.1L580.5,211.4L580.5,211.4L581,212.8L581,212.8L581.6,214.1L581.6,214.1L582,215.5L582,215.5L582.5,216.9L582.5,216.9L583,218.2L583,218.2L583.5,219.6L583.5,219.6L583.9,221L583.9,221L584.4,222.3L584.4,222.3L584.8,223.7L584.8,223.7L585.3,225.1L585.3,225.1L585.7,226.5L585.7,226.5L586.1,227.9L586.1,227.9L586.5,229.3L586.5,229.3L586.9,230.7L586.9,230.7L587.3,232.1L587.3,232.1L587.7,233.5L587.7,233.5L588.1,234.9L588.1,234.9L588.4,236.3L588.4,236.3L588.8,237.7L588.8,237.7L589.1,239.1L589.1,239.1L589.5,240.5L589.5,240.5L589.8,241.9L589.8,241.9L590.1,243.3L590.1,243.3L590.5,244.7L590.5,244.7L590.8,246.2L590.8,246.2L591,247.6L591,247.6L591.3,249L591.3,249L591.6,250.4L591.6,250.4L591.9,251.9L591.9,251.9L592.1,253.3L592.1,253.3L592.4,254.7L592.4,254.7L592.6,256.1L592.6,256.1L592.9,257.6L592.9,257.6L593.1,259L593.1,259L593.3,260.4L593.3,260.4L593.5,261.9L593.5,261.9L593.7,263.3L593.7,263.3L593.9,264.8L593.9,264.8L594.1,266.2L594.1,266.2L594.2,267.6L594.2,267.6L594.4,269.1L594.4,269.1L594.5,270.5L594.5,270.5L594.7,272L594.7,272L594.8,273.4L594.8,273.4L594.9,274.9L594.9,274.9L595,276.3L595,276.3L595.1,277.8L595.1,277.8L595.2,279.2L595.2,279.2L595.3,280.6L595.3,280.6L595.4,282.1L595.4,282.1L595.5,283.5L595.5,283.5L595.5,285L595.5,285L595.6,286.4L595.6,286.4L595.6,287.9L595.6,287.9L595.7,289.3L595.7,289.3L595.7,290.8L595.7,290.8L595.7,292.2L595.7,292.2L595.7,293.7L595.7,293.7L595.7,295.2L595.7,295.2L595.7,296.6L595.7,296.6L595.7,298.1L595.7,298.1L595.6,299.5L595.6,299.5L595.6,301L595.6,301L595.5,302.4L595.5,302.4L595.5,303.9L595.5,303.9L595.4,305.3L595.4,305.3L595.3,306.8L595.3,306.8L595.2,308.2L595.2,308.2L595.1,309.6L595.1,309.6L595,311.1L595,311.1L594.9,312.5L594.9,312.5L594.8,314L594.8,314L594.7,315.4L594.7,315.4L594.5,316.9L594.5,316.9L594.4,318.3L594.4,318.3L594.2,319.8L594.2,319.8L594.1,321.2L594.1,321.2L593.9,322.6L593.9,322.6L593.7,324.1L593.7,324.1L593.5,325.5L593.5,325.5L593.3,327L593.3,327L593.1,328.4L593.1,328.4L592.9,329.8L592.9,329.8L592.6,331.3L592.6,331.3L592.4,332.7L592.4,332.7L592.1,334.1L592.1,334.1L591.9,335.5L591.9,335.5L591.6,337L591.6,337L591.3,338.4L591.3,338.4L591,339.8L591,339.8L590.8,341.2L590.8,341.2L590.5,342.7L590.5,342.7L590.1,344.1L590.1,344.1L589.8,345.5L589.8,345.5L589.5,346.9L589.5,346.9L589.1,348.3L589.1,348.3L588.8,349.7L588.8,349.7L588.4,351.1L588.4,351.1L588.1,352.5L588.1,352.5L587.7,353.9L587.7,353.9L587.3,355.3L587.3,355.3L586.9,356.7L586.9,356.7L586.5,358.1L586.5,358.1L586.1,359.5L586.1,359.5L585.7,360.9L585.7,360.9L585.3,362.3L585.3,362.3L584.8,363.7L584.8,363.7L584.4,365.1L584.4,365.1L583.9,366.4L583.9,366.4L583.5,367.8L583.5,367.8L583,369.2L583,369.2L582.5,370.5L582.5,370.5L582,371.9L582,371.9L581.6,373.3L581.6,373.3L581,374.6L581,374.6L580.5,376L580.5,376L580,377.3L580,377.3L579.5,378.7L579.5,378.7L578.9,380L578.9,380L578.4,381.4L578.4,381.4L577.8,382.7L577.8,382.7L577.3,384.1L577.3,384.1L576.7,385.4L576.7,385.4L576.1,386.7L576.1,386.7L575.5,388.1L575.5,388.1L574.9,389.4L574.9,389.4L574.3,390.7L574.3,390.7L573.7,392L573.7,392L573.1,393.3L573.1,393.3L572.5,394.6L572.5,394.6L571.8,395.9L571.8,395.9L571.2,397.2L571.2,397.2L570.5,398.5L570.5,398.5L569.9,399.8L569.9,399.8L569.2,401.1L569.2,401.1L568.5,402.4L568.5,402.4L567.8,403.7L567.8,403.7L567.1,404.9L567.1,404.9L566.4,406.2L566.4,406.2L565.7,407.5L565.7,407.5L565,408.7L565,408.7L564.3,410L564.3,410L563.5,411.2L563.5,411.2L562.8,412.5L562.8,412.5L562.1,413.7L562.1,413.7L561.3,415L561.3,415L560.5,416.2L560.5,416.2L559.8,417.4L559.8,417.4L559,418.6L559,418.6L558.2,419.9L558.2,419.9L557.4,421.1L557.4,421.1L556.6,422.3L556.6,422.3L555.8,423.5L555.8,423.5L555,424.7L555,424.7L554.1,425.9L554.1,425.9L553.3,427.1L553.3,427.1L552.5,428.2L552.5,428.2L551.6,429.4L551.6,429.4L550.7,430.6L550.7,430.6L549.9,431.8L549.9,431.8L549,432.9L549,432.9L548.1,434.1L548.1,434.1L547.2,435.2L547.2,435.2L546.4,436.4L546.4,436.4L545.5,437.5L545.5,437.5L544.5,438.6L544.5,438.6L543.6,439.8L543.6,439.8L542.7,440.9L542.7,440.9L541.8,442L541.8,442L540.8,443.1L540.8,443.1L539.9,444.2L539.9,444.2L539,445.3L539,445.3L538,446.4L538,446.4L537,447.5L537,447.5L536.1,448.6L536.1,448.6L535.1,449.6L535.1,449.6L534.1,450.7L534.1,450.7L533.1,451.8L533.1,451.8L532.1,452.8L532.1,452.8L531.1,453.9L531.1,453.9L530.1,454.9L530.1,454.9L529.1,455.9L529.1,455.9L528.1,457L528.1,457L527,458L527,458L526,459L526,459L525,460L525,460L523.9,461L523.9,461L522.9,462L522.9,462L521.8,463L521.8,463L520.7,464L520.7,464L519.7,465L519.7,465L518.6,465.9L518.6,465.9L517.5,466.9L517.5,466.9L516.4,467.9L516.4,467.9L515.3,468.8L515.3,468.8L514.2,469.7L514.2,469.7L513.1,470.7L513.1,470.7L512,471.6L512,471.6L510.9,472.5L510.9,472.5L509.7,473.4L509.7,473.4L508.6,474.4L508.6,474.4L507.5,475.3L507.5,475.3L506.3,476.1L506.3,476.1L505.2,477L505.2,477L504,477.9L504,477.9L502.9,478.8L502.9,478.8L501.7,479.6L501.7,479.6L500.5,480.5L500.5,480.5L499.3,481.4L499.3,481.4L498.2,482.2L498.2,482.2L497,483L497,483L495.8,483.9L495.8,483.9L494.6,484.7L494.6,484.7L493.4,485.5L493.4,485.5L492.2,486.3L492.2,486.3L491,487.1L491,487.1L489.7,487.9L489.7,487.9L488.5,488.7L488.5,488.7L487.3,489.4L487.3,489.4L486.1,490.2L486.1,490.2L484.8,491L484.8,491L483.6,491.7L483.6,491.7L482.3,492.4L482.3,492.4L481.1,493.2L481.1,493.2L479.8,493.9L479.8,493.9L478.6,494.6L478.6,494.6L477.3,495.3L477.3,495.3L476,496L476,496L474.8,496.7L474.8,496.7L473.5,497.4L473.5,497.4L472.2,498.1L472.2,498.1L470.9,498.8L470.9,498.8L469.6,499.4L469.6,499.4L468.3,500.1L468.3,500.1L467,500.7L467,500.7L465.7,501.4L465.7,501.4L464.4,502L464.4,502L463.1,502.6L463.1,502.6L461.8,503.2L461.8,503.2L460.5,503.8L460.5,503.8L459.2,504.4L459.2,504.4L457.8,505L457.8,505L456.5,505.6L456.5,505.6L455.2,506.2L455.2,506.2L453.8,506.7L453.8,506.7L452.5,507.3L452.5,507.3L451.1,507.8L451.1,507.8L449.8,508.4L449.8,508.4L448.4,508.9L448.4,508.9L447.1,509.4L447.1,509.4L445.7,509.9L445.7,509.9L444.4,510.5L444.4,510.5L443,510.9L443,510.9L441.6,511.4L441.6,511.4L440.3,511.9L440.3,511.9L438.9,512.4L438.9,512.4L437.5,512.8L437.5,512.8L436.2,513.3L436.2,513.3L434.8,513.7L434.8,513.7L433.4,514.2L433.4,514.2L432,514.6L432,514.6L430.6,515L430.6,515L429.2,515.4L429.2,515.4L427.8,515.8L427.8,515.8L426.4,516.2L426.4,516.2L425,516.6L425,516.6L423.6,517L423.6,517L422.2,517.3L422.2,517.3L420.8,517.7L420.8,517.7L419.4,518L419.4,518L418,518.4L418,518.4L416.6,518.7L416.6,518.7L415.2,519L415.2,519L413.8,519.4L413.8,519.4L412.3,519.7L412.3,519.7L410.9,519.9L410.9,519.9L409.5,520.2L409.5,520.2L408.1,520.5L408.1,520.5L406.6,520.8L406.6,520.8L405.2,521L405.2,521L403.8,521.3L403.8,521.3L402.4,521.5L402.4,521.5L400.9,521.8L400.9,521.8L399.5,522L399.5,522L398.1,522.2L398.1,522.2L396.6,522.4L396.6,522.4L395.2,522.6L395.2,522.6L393.7,522.8L393.7,522.8L392.3,523L392.3,523L390.9,523.1L390.9,523.1L389.4,523.3L389.4,523.3L388,523.4L388,523.4L386.5,523.6L386.5,523.6L385.1,523.7L385.1,523.7L383.6,523.8L383.6,523.8L382.2,523.9L382.2,523.9L380.7,524L380.7,524L379.3,524.1L379.3,524.1L377.9,524.2L377.9,524.2L376.4,524.3L376.4,524.3L375,524.4L375,524.4L373.5,524.4L373.5,524.4L372.1,524.5L372.1,524.5L370.6,524.5L370.6,524.5L369.2,524.6L369.2,524.6L367.7,524.6L367.7,524.6L366.3,524.6L366.3,524.6L364.8,524.6L364.8,524.6L363.3,524.6L363.3,524.6L361.9,524.6L361.9,524.6L360.4,524.6L360.4,524.6L359,524.5L359,524.5L357.5,524.5L357.5,524.5L356.1,524.4L356.1,524.4L354.6,524.4L354.6,524.4L353.2,524.3L353.2,524.3L351.7,524.2L351.7,524.2L350.3,524.1L350.3,524.1L348.9,524L348.9,524L347.4,523.9L347.4,523.9L346,523.8L346,523.8L344.5,523.7L344.5,523.7L343.1,523.6L343.1,523.6L341.6,523.4L341.6,523.4L340.2,523.3L340.2,523.3L338.7,523.1L338.7,523.1L337.3,523L337.3,523L335.9,522.8L335.9,522.8L334.4,522.6L334.4,522.6L333,522.4L333,522.4L331.5,522.2L331.5,522.2L330.1,522L330.1,522L328.7,521.8L328.7,521.8L327.2,521.5L327.2,521.5L325.8,521.3L325.8,521.3L324.4,521L324.4,521L323,520.8L323,520.8L321.5,520.5L321.5,520.5L320.1,520.2L320.1,520.2L318.7,519.9L318.7,519.9L317.3,519.7L317.3,519.7L315.8,519.4L315.8,519.4L314.4,519L314.4,519L313,518.7L313,518.7L311.6,518.4L311.6,518.4L310.2,518L310.2,518L308.8,517.7L308.8,517.7L307.4,517.3L307.4,517.3L306,517L306,517L304.6,516.6L304.6,516.6L303.2,516.2L303.2,516.2L301.8,515.8L301.8,515.8L300.4,515.4L300.4,515.4L299,515L299,515L297.6,514.6L297.6,514.6L296.2,514.2L296.2,514.2L294.8,513.7L294.8,513.7L293.4,513.3L293.4,513.3L292.1,512.8L292.1,512.8L290.7,512.4L290.7,512.4L289.3,511.9L289.3,511.9L288,511.4L288,511.4L286.6,510.9L286.6,510.9L285.2,510.5L285.2,510.5L283.9,509.9L283.9,509.9L282.5,509.4L282.5,509.4L281.2,508.9L281.2,508.9L279.8,508.4L279.8,508.4L278.5,507.8L278.5,507.8L277.1,507.3L277.1,507.3L275.8,506.7L275.8,506.7L274.4,506.2L274.4,506.2L273.1,505.6L273.1,505.6L271.8,505L271.8,505L270.4,504.4L270.4,504.4L269.1,503.8L269.1,503.8L267.8,503.2L267.8,503.2L266.5,502.6L266.5,502.6L265.2,502L265.2,502L263.9,501.4L263.9,501.4L262.6,500.7L262.6,500.7L261.3,500.1L261.3,500.1L260,499.4L260,499.4L258.7,498.8L258.7,498.8L257.4,498.1L257.4,498.1L256.1,497.4L256.1,497.4L254.8,496.7L254.8,496.7L253.6,496L253.6,496L252.3,495.3L252.3,495.3L251,494.6L251,494.6L249.8,493.9L249.8,493.9L248.5,493.2L248.5,493.2L247.3,492.4L247.3,492.4L246,491.7L246,491.7L244.8,491L244.8,491L243.5,490.2L243.5,490.2L242.3,489.4L242.3,489.4L241.1,488.7L241.1,488.7L239.9,487.9L239.9,487.9L238.6,487.1L238.6,487.1L237.4,486.3L237.4,486.3L236.2,485.5L236.2,485.5L235,484.7L235,484.7L233.8,483.9L233.8,483.9L232.6,483L232.6,483L231.4,482.2L231.4,482.2L230.3,481.4L230.3,481.4L229.1,480.5L229.1,480.5L227.9,479.6L227.9,479.6L226.7,478.8L226.7,478.8L225.6,477.9L225.6,477.9L224.4,477L224.4,477L223.3,476.1L223.3,476.1L222.1,475.3L222.1,475.3L221,474.4L221,474.4L219.9,473.4L219.9,473.4L218.7,472.5L218.7,472.5L217.6,471.6L217.6,471.6L216.5,470.7L216.5,470.7L215.4,469.7L215.4,469.7L214.3,468.8L214.3,468.8L213.2,467.9L213.2,467.9L212.1,466.9L212.1,466.9L211,465.9L211,465.9L209.9,465L209.9,465L208.9,464L208.9,464L207.8,463L207.8,463L206.7,462L206.7,462L205.7,461L205.7,461L204.6,460L204.6,460L203.6,459L203.6,459L202.6,458L202.6,458L201.5,457L201.5,457L200.5,455.9L200.5,455.9L199.5,454.9L199.5,454.9L198.5,453.9L198.5,453.9L197.5,452.8L197.5,452.8L196.5,451.8L196.5,451.8L195.5,450.7L195.5,450.7L194.5,449.6L194.5,449.6L193.5,448.6L193.5,448.6L192.6,447.5L192.6,447.5L191.6,446.4L191.6,446.4L190.6,445.3L190.6,445.3L189.7,444.2L189.7,444.2L188.8,443.1L188.8,443.1L187.8,442L187.8,442L186.9,440.9L186.9,440.9L186,439.8L186,439.8L185.1,438.6L185.1,438.6L184.1,437.5L184.1,437.5L183.2,436.4L183.2,436.4L182.4,435.2L182.4,435.2L181.5,434.1L181.5,434.1L180.6,432.9L180.6,432.9L179.7,431.8L179.7,431.8L178.9,430.6L178.9,430.6L178,429.4L178,429.4L177.1,428.2L177.1,428.2L176.3,427.1L176.3,427.1L175.5,425.9L175.5,425.9L174.6,424.7L174.6,424.7L173.8,423.5L173.8,423.5L173,422.3L173,422.3L172.2,421.1L172.2,421.1L171.4,419.9L171.4,419.9L170.6,418.6L170.6,418.6L169.8,417.4L169.8,417.4L169.1,416.2L169.1,416.2L168.3,415L168.3,415L167.5,413.7L167.5,413.7L166.8,412.5L166.8,412.5L166.1,411.2L166.1,411.2L165.3,410L165.3,410L164.6,408.7L164.6,408.7L163.9,407.5L163.9,407.5L163.2,406.2L163.2,406.2L162.5,404.9L162.5,404.9L161.8,403.7L161.8,403.7L161.1,402.4L161.1,402.4L160.4,401.1L160.4,401.1L159.7,399.8L159.7,399.8L159.1,398.5L159.1,398.5L158.4,397.2L158.4,397.2L157.8,395.9L157.8,395.9L157.1,394.6L157.1,394.6L156.5,393.3L156.5,393.3L155.9,392L155.9,392L155.3,390.7L155.3,390.7L154.7,389.4L154.7,389.4L154.1,388.1L154.1,388.1L153.5,386.7L153.5,386.7L152.9,385.4L152.9,385.4L152.3,384.1L152.3,384.1L151.8,382.7L151.8,382.7L151.2,381.4L151.2,381.4L150.7,380L150.7,380L150.1,378.7L150.1,378.7L149.6,377.3L149.6,377.3L149.1,376L149.1,376L148.6,374.6L148.6,374.6L148,373.3L148,373.3L147.6,371.9L147.6,371.9L147.1,370.5L147.1,370.5L146.6,369.2L146.6,369.2L146.1,367.8L146.1,367.8L145.7,366.4L145.7,366.4L145.2,365.1L145.2,365.1L144.8,363.7L144.8,363.7L144.3,362.3L144.3,362.3L143.9,360.9L143.9,360.9L143.5,359.5L143.5,359.5L143.1,358.1L143.1,358.1L142.7,356.7L142.7,356.7L142.3,355.3L142.3,355.3L141.9,353.9L141.9,353.9L141.5,352.5L141.5,352.5L141.2,351.1L141.2,351.1L140.8,349.7L140.8,349.7L140.5,348.3L140.5,348.3L140.1,346.9L140.1,346.9L139.8,345.5L139.8,345.5L139.5,344.1L139.5,344.1L139.1,342.7L139.1,342.7L138.8,341.2L138.8,341.2L138.6,339.8L138.6,339.8L138.3,338.4L138.3,338.4L138,337L138,337L137.7,335.5L137.7,335.5L137.5,334.1L137.5,334.1L137.2,332.7L137.2,332.7L137,331.3L137,331.3L136.7,329.8L136.7,329.8L136.5,328.4L136.5,328.4L136.3,327L136.3,327L136.1,325.5L136.1,325.5L135.9,324.1L135.9,324.1L135.7,322.6L135.7,322.6L135.5,321.2L135.5,321.2L135.4,319.8L135.4,319.8L135.2,318.3L135.2,318.3L135.1,316.9L135.1,316.9L134.9,315.4L134.9,315.4L134.8,314L134.8,314L134.7,312.5L134.7,312.5L134.6,311.1L134.6,311.1L134.5,309.6L134.5,309.6L134.4,308.2L134.4,308.2L134.3,306.8L134.3,306.8L134.2,305.3L134.2,305.3L134.1,303.9L134.1,303.9L134.1,302.4L134.1,302.4L134,301L134,301L134,299.5L134,299.5L133.9,298.1L133.9,298.1L133.9,296.6L133.9,296.6L133.9,295.2L133.9,295.2L133.9,293.7L133.9,293.7L133.9,292.2L133.9,292.2L133.9,290.8L133.9,290.8L133.9,289.3L133.9,289.3L134,287.9L134,287.9L134,286.4L134,286.4L134.1,285L134.1,285L134.1,283.5L134.1,283.5L134.2,282.1L134.2,282.1L134.3,280.6L134.3,280.6L134.4,279.2L134.4,279.2L134.5,277.8L134.5,277.8L134.6,276.3L134.6,276.3L134.7,274.9L134.7,274.9L134.8,273.4L134.8,273.4L134.9,272L134.9,272L135.1,270.5L135.1,270.5L135.2,269.1L135.2,269.1L135.4,267.6L135.4,267.6L135.5,266.2L135.5,266.2L135.7,264.8L135.7,264.8L135.9,263.3L135.9,263.3L136.1,261.9L136.1,261.9L136.3,260.4L136.3,260.4L136.5,259L136.5,259L136.7,257.6L136.7,257.6L137,256.1L137,256.1L137.2,254.7L137.2,254.7L137.5,253.3L137.5,253.3L137.7,251.9L137.7,251.9L138,250.4L138,250.4L138.3,249L138.3,249L138.6,247.6L138.6,247.6L138.8,246.2L138.8,246.2L139.1,244.7L139.1,244.7L139.5,243.3L139.5,243.3L139.8,241.9L139.8,241.9L140.1,240.5L140.1,240.5L140.5,239.1L140.5,239.1L140.8,237.7L140.8,237.7L141.2,236.3L141.2,236.3L141.5,234.9L141.5,234.9L141.9,233.5L141.9,233.5L142.3,232.1L142.3,232.1L142.7,230.7L142.7,230.7L143.1,229.3L143.1,229.3L143.5,227.9L143.5,227.9L143.9,226.5L143.9,226.5L144.3,225.1L144.3,225.1L144.8,223.7L144.8,223.7L145.2,222.3L145.2,222.3L145.7,221L145.7,221L146.1,219.6L146.1,219.6L146.6,218.2L146.6,218.2L147.1,216.9L147.1,216.9L147.6,215.5L147.6,215.5L148,214.1L148,214.1L148.6,212.8L148.6,212.8L149.1,211.4L149.1,211.4L149.6,210.1L149.6,210.1L150.1,208.7L150.1,208.7L150.7,207.4L150.7,207.4L151.2,206L151.2,206L151.8,204.7L151.8,204.7L152.3,203.3L152.3,203.3L152.9,202L152.9,202L153.5,200.7L153.5,200.7L154.1,199.3L154.1,199.3L154.7,198L154.7,198L155.3,196.7L155.3,196.7L155.9,195.4L155.9,195.4L156.5,194.1L156.5,194.1L157.1,192.8L157.1,192.8L157.8,191.5L157.8,191.5L158.4,190.2L158.4,190.2L159.1,188.9L159.1,188.9L159.7,187.6L159.7,187.6L160.4,186.3L160.4,186.3L161.1,185L161.1,185L161.8,183.7L161.8,183.7L162.5,182.5L162.5,182.5L163.2,181.2L163.2,181.2L163.9,179.9L163.9,179.9L164.6,178.7L164.6,178.7L165.3,177.4L165.3,177.4L166.1,176.2L166.1,176.2L166.8,174.9L166.8,174.9L167.5,173.7L167.5,173.7L168.3,172.4L168.3,172.4L169.1,171.2L169.1,171.2L169.8,170L169.8,170L170.6,168.8L170.6,168.8L171.4,167.5L171.4,167.5L172.2,166.3L172.2,166.3L173,165.1L173,165.1L173.8,163.9L173.8,163.9L174.6,162.7L174.6,162.7L175.5,161.5L175.5,161.5L176.3,160.3L176.3,160.3L177.1,159.2L177.1,159.2L178,158L178,158L178.9,156.8L178.9,156.8L179.7,155.6L179.7,155.6L180.6,154.5L180.6,154.5L181.5,153.3L181.5,153.3L182.4,152.2L182.4,152.2L183.2,151L183.2,151L184.1,149.9L184.1,149.9L185.1,148.8L185.1,148.8L186,147.6L186,147.6L186.9,146.5L186.9,146.5L187.8,145.4L187.8,145.4L188.8,144.3L188.8,144.3L189.7,143.2L189.7,143.2L190.6,142.1L190.6,142.1L191.6,141L191.6,141L192.6,139.9L192.6,139.9L193.5,138.8L193.5,138.8L194.5,137.8L194.5,137.8L195.5,136.7L195.5,136.7L196.5,135.6L196.5,135.6L197.5,134.6L197.5,134.6L198.5,133.5L198.5,133.5L199.5,132.5L199.5,132.5L200.5,131.5L200.5,131.5L201.5,130.4L201.5,130.4L202.6,129.4L202.6,129.4L203.6,128.4L203.6,128.4L204.6,127.4L204.6,127.4L205.7,126.4L205.7,126.4L206.7,125.4L206.7,125.4L207.8,124.4L207.8,124.4L208.9,123.4L208.9,123.4L209.9,122.4L209.9,122.4L211,121.5L211,121.5L212.1,120.5L212.1,120.5L213.2,119.5L213.2,119.5L214.3,118.6L214.3,118.6L215.4,117.7L215.4,117.7L216.5,116.7L216.5,116.7L217.6,115.8L217.6,115.8L218.7,114.9L218.7,114.9L219.9,114L219.9,114L221,113L221,113L222.1,112.1L222.1,112.1L223.3,111.3L223.3,111.3L224.4,110.4L224.4,110.4L225.6,109.5L225.6,109.5L226.7,108.6L226.7,108.6L227.9,107.8L227.9,107.8L229.1,106.9L229.1,106.9L230.3,106L230.3,106L231.4,105.2L231.4,105.2L232.6,104.4L232.6,104.4L233.8,103.5L233.8,103.5L235,102.7L235,102.7L236.2,101.9L236.2,101.9L237.4,101.1L237.4,101.1L238.6,100.3L238.6,100.3L239.9,99.5L239.9,99.5L241.1,98.7L241.1,98.7L242.3,98L242.3,98L243.5,97.2L243.5,97.2L244.8,96.4L244.8,96.4L246,95.7L246,95.7L247.3,95L247.3,95L248.5,94.2L248.5,94.2L249.8,93.5L249.8,93.5L251,92.8L251,92.8L252.3,92.1L252.3,92.1L253.6,91.4L253.6,91.4L254.8,90.7L254.8,90.7L256.1,90L256.1,90L257.4,89.3L257.4,89.3L258.7,88.6L258.7,88.6L260,88L260,88L261.3,87.3L261.3,87.3L262.6,86.7L262.6,86.7L263.9,86L263.9,86L265.2,85.4L265.2,85.4L266.5,84.8L266.5,84.8L267.8,84.2L267.8,84.2L269.1,83.6L269.1,83.6L270.4,83L270.4,83L271.8,82.4L271.8,82.4L273.1,81.8L273.1,81.8L274.4,81.2L274.4,81.2L275.8,80.7L275.8,80.7L277.1,80.1L277.1,80.1L278.5,79.6L278.5,79.6L279.8,79L279.8,79L281.2,78.5L281.2,78.5L282.5,78L282.5,78L283.9,77.5L283.9,77.5L285.2,76.9L285.2,76.9L286.6,76.5L286.6,76.5L288,76L288,76L289.3,75.5L289.3,75.5L290.7,75L290.7,75L292.1,74.6L292.1,74.6L293.4,74.1L293.4,74.1L294.8,73.7L294.8,73.7L296.2,73.2L296.2,73.2L297.6,72.8L297.6,72.8L299,72.4L299,72.4L300.4,72L300.4,72L301.8,71.6L301.8,71.6L303.2,71.2L303.2,71.2L304.6,70.8L304.6,70.8L306,70.4L306,70.4L307.4,70.1L307.4,70.1L308.8,69.7L308.8,69.7L310.2,69.4L310.2,69.4L311.6,69L311.6,69L313,68.7L313,68.7L314.4,68.4L314.4,68.4L315.8,68L315.8,68L317.3,67.7L317.3,67.7L318.7,67.5L318.7,67.5L320.1,67.2L320.1,67.2L321.5,66.9L321.5,66.9L323,66.6L323,66.6L324.4,66.4L324.4,66.4L325.8,66.1L325.8,66.1L327.2,65.9L327.2,65.9L328.7,65.6L328.7,65.6L330.1,65.4L330.1,65.4L331.5,65.2L331.5,65.2L333,65L333,65L334.4,64.8L334.4,64.8L335.9,64.6L335.9,64.6L337.3,64.4L337.3,64.4L338.7,64.3L338.7,64.3L340.2,64.1L340.2,64.1L341.6,64L341.6,64L343.1,63.8L343.1,63.8L344.5,63.7L344.5,63.7L346,63.6L346,63.6L347.4,63.5L347.4,63.5L348.9,63.4L348.9,63.4L350.3,63.3L350.3,63.3L351.7,63.2L351.7,63.2L353.2,63.1L353.2,63.1L354.6,63L354.6,63L356.1,63L356.1,63L357.5,62.9L357.5,62.9L359,62.9L359,62.9L360.4,62.8L360.4,62.8L361.9,62.8L361.9,62.8L363.3,62.8L363.3,62.8L364.8,62.8L364.8,62.8L363.3,62.8L363.3,62.8L361.9,62.8L361.9,62.8L360.4,62.8L360.4,62.8L359,62.9L359,62.9L357.5,62.9L357.5,62.9L356.1,63L356.1,63L354.6,63L354.6,63L353.2,63.1L353.2,63.1L351.7,63.2L351.7,63.2L350.3,63.3L350.3,63.3L348.9,63.4L348.9,63.4L347.4,63.5L347.4,63.5L346,63.6L346,63.6L344.5,63.7L344.5,63.7L343.1,63.8L343.1,63.8L341.6,64L341.6,64L340.2,64.1L340.2,64.1L338.7,64.3L338.7,64.3L337.3,64.4L337.3,64.4L335.9,64.6L335.9,64.6L334.4,64.8L334.4,64.8L333,65L333,65L331.5,65.2L331.5,65.2L330.1,65.4L332.6,81.8L331.3,82L331.2,81.6L329.9,81.8L329.9,81.7L328.5,81.9L328.5,81.9L327.2,82.1L327.3,82.6L325.9,82.8L326,82.9L324.6,83.2L324.6,82.9L323.3,83.2L323.2,82.8L321.9,83.1L321.8,83L320.5,83.2L320.6,83.5L319.3,83.7L319.1,82.9L317.7,83.2L317.9,84L316.6,84.3L316.5,84L315.2,84.3L315.2,84.2L313.9,84.5L313.9,84.4L312.5,84.7L312.5,84.7L311.2,85L311.6,86.4L310.3,86.8L310.3,86.8L309,87.2L308.7,86.2L307.4,86.5L307.5,86.7L306.2,87.1L306.2,87.1L304.9,87.5L305,88L303.7,88.3L304,89.1L302.7,89.5L302.9,90.2L301.6,90.5L301.5,90.1L300.2,90.6L300.3,90.7L299,91.1L299.1,91.4L297.8,91.8L297.5,90.8L296.2,91.3L296.6,92.4L295.3,92.9L295.2,92.6L294,93L293.7,92.2L292.4,92.6L292.4,92.6L291.1,93.1L291.3,93.6L290.1,94.1L290.1,94.2L288.9,94.7L288.7,94.1L287.4,94.6L287.6,95L286.3,95.5L286.3,95.3L285,95.8L284.8,95.2L283.5,95.7L283.6,96L282.4,96.5L282.2,96L280.9,96.5L280.9,96.4L279.7,97L280,97.8L278.8,98.3L279,98.9L277.8,99.4L277.2,98.1L276,98.7L275.6,97.8L274.4,98.3L274.3,98.2L273.1,98.8L274.1,100.9L272.9,101.5L271.8,99.3L270.6,99.9L271.5,101.8L270.3,102.4L269.4,100.4L268.1,101L267.2,99.2L266,99.8L265.7,99.1L264.4,99.7L263.8,98.5L262.6,99.1L262.5,99L261.3,99.6L262.6,102.1L261.4,102.7L260.9,101.8L259.7,102.5L260.5,104L259.3,104.6L258.9,104L257.7,104.6L256.9,103.1L255.7,103.8L254.3,101.4L253.1,102.1L254.1,103.9L252.9,104.6L251.5,102.1L250.3,102.8L251.2,104.4L250,105.1L250.2,105.3L249,106L247.9,104.2L246.7,104.9L247.6,106.5L246.4,107.2L247.4,108.8L246.3,109.5L245.6,108.4L244.4,109.1L244.8,109.8L243.7,110.6L245,112.5L243.8,113.3L243.4,112.7L242.3,113.4L241.9,112.8L240.7,113.6L239.1,111.2L238,112L241.6,117.2L240.5,118L239.5,116.6L238.4,117.4L241.8,122.2L240.8,123L235.8,116.2L234.7,117L236.9,120L235.9,120.8L232.1,115.8L231,116.7L230.6,116.1L229.4,116.9L230.6,118.4L229.5,119.3L231.5,121.9L230.4,122.7L229.3,121.3L228.2,122.1L226.7,120.2L225.6,121.1L230.7,127.4L229.7,128.3L225.3,122.9L224.2,123.8L223.6,123.1L222.6,124L222.8,124.2L221.7,125.1L220.7,124L219.7,124.9L219.1,124.2L218.1,125.1L220.9,128.4L219.8,129.3L221.7,131.4L220.7,132.3L219.3,130.7L218.2,131.6L213.9,126.8L212.8,127.7L213.1,128L212.1,129L215.6,132.8L214.6,133.7L210.5,129.4L209.5,130.4L213.6,134.7L212.6,135.7L210.7,133.7L209.7,134.7L209.8,134.8L208.8,135.8L206.6,133.5L205.6,134.5L206.9,135.8L205.9,136.8L204.9,135.8L203.9,136.8L205.4,138.3L204.5,139.3L204.8,139.6L203.8,140.6L203.2,140L202.2,141L201.8,140.6L200.8,141.6L199,139.9L198,141L198.7,141.6L197.7,142.6L200.1,144.8L199.2,145.8L200.1,146.7L199.2,147.7L201.8,150L200.9,151L193.6,144.7L192.7,145.8L193.1,146.1L192.2,147.2L192.3,147.3L191.4,148.4L194.9,151.3L194,152.4L190.6,149.6L189.7,150.6L194.3,154.5L193.5,155.6L188.1,151.2L187.2,152.3L186.6,151.8L185.7,152.9L187.4,154.3L186.5,155.4L186.5,155.4L185.6,156.5L185.1,156.1L184.3,157.3L185.9,158.5L185,159.6L184.5,159.2L183.6,160.3L187.1,162.9L186.3,164L181.2,160.3L180.4,161.5L179.9,161.1L179,162.3L179.3,162.4L178.5,163.6L180.5,165L179.7,166.2L177.1,164.4L176.3,165.6L176.7,165.9L175.9,167.1L180.3,170L179.6,171.2L178.4,170.4L177.6,171.6L177.7,171.7L177,172.8L176.9,172.8L176.2,174L175.9,173.8L175.1,175L170.8,172.3L170.1,173.5L171,174.1L170.3,175.3L169.8,175L169,176.3L170.4,177.1L169.7,178.3L172.1,179.7L171.4,181L173.3,182.1L172.6,183.3L169.2,181.3L168.5,182.5L167.4,181.9L166.7,183.2L168.1,183.9L167.4,185.2L165.4,184.1L164.8,185.4L164.8,185.4L164.2,186.7L165.1,187.2L164.4,188.4L163.5,187.9L162.9,189.2L166.7,191.2L166,192.4L164.6,191.7L164,193L164,193L163.3,194.2L162.8,194L162.2,195.2L161.5,194.9L160.9,196.2L163.4,197.4L162.8,198.6L162.6,198.5L162,199.8L159.5,198.7L158.9,199.9L161.8,201.3L161.2,202.5L156.6,200.5L156,201.8L158.1,202.7L157.5,204L158,204.2L157.4,205.5L154.2,204.2L153.7,205.5L154.2,205.7L153.7,207L155.6,207.8L155.1,209.1L155.7,209.4L155.2,210.7L153.9,210.2L153.4,211.5L156.2,212.6L155.7,213.9L155.3,213.8L154.8,215.1L155.1,215.2L154.6,216.5L153.4,216.1L152.9,217.4L150.7,216.6L150.2,218L150.9,218.2L150.4,219.5L152,220.1L151.6,221.4L151.2,221.3L150.8,222.7L154.8,224L154.3,225.3L153.9,225.2L153.5,226.5L150.5,225.6L150.1,226.9L147.7,226.2L147.3,227.5L148.1,227.8L147.7,229.2L153.8,231L153.4,232.3L149.8,231.2L149.4,232.6L146.4,231.7L146,233.1L148,233.7L147.7,235L145.2,234.4L144.8,235.7L144.8,235.7L144.5,237.1L143.8,237L143.5,238.4L144.1,238.5L143.8,239.9L143.6,239.9L143.2,241.2L141.8,240.9L141.5,242.3L141.4,242.3L141.1,243.7L142,243.9L141.7,245.3L140.9,245.1L140.6,246.5L142.1,246.8L141.8,248.2L141.5,248.2L141.2,249.6L141.9,249.7L141.6,251.1L140.3,250.9L140,252.3L143.6,252.9L143.3,254.3L140.5,253.8L140.2,255.2L140.4,255.3L140.1,256.7L140.9,256.8L140.7,258.2L141.4,258.3L141.2,259.7L140,259.5L139.8,261L139.4,260.9L139.2,262.3L142.2,262.7L142,264.1L140.6,263.9L140.4,265.4L143.3,265.7L143.1,267.1L139.6,266.7L139.4,268.1L140.4,268.2L140.2,269.6L138.4,269.4L138.2,270.8L136.7,270.7L136.6,272.1L138.8,272.3L138.7,273.8L139.8,273.9L139.7,275.3L136.1,275L136,276.4L136.6,276.5L136.5,277.9L140,278.1L139.9,279.5L137.8,279.4L137.7,280.8L136.7,280.8L136.7,282.2L137.4,282.3L137.4,283.7L136.4,283.6L136.3,285.1L136.1,285.1L136,286.5L136.3,286.5L136.2,288L137.7,288L137.7,289.4L136.9,289.4L136.9,290.8L136.2,290.8L136.2,292.3L137,292.3L137,293.7L139.8,293.7L139.8,295.1L140.5,295.1L140.5,296.5L143.2,296.5L143.2,297.9L139.8,297.9L139.8,299.4L139.2,299.4L139.2,300.8L140.8,300.7L140.9,302.1L136.5,302.3L136.6,303.7L136.6,303.7L136.7,305.2L138,305.1L138.1,306.5L137.1,306.6L137.2,308L138.3,308L138.4,309.4L136.4,309.5L136.5,310.9L136.4,311L136.5,312.4L138.7,312.2L138.8,313.6L139.1,313.6L139.2,315L139,315L139.2,316.5L139.8,316.4L140,317.8L141.8,317.6L141.9,319L141.9,319L142.1,320.4L142.4,320.4L142.6,321.8L143.5,321.7L143.6,323.1L140.2,323.5L140.4,324.9L141.1,324.8L141.3,326.2L141.1,326.2L141.3,327.7L141.5,327.6L141.7,329L144.9,328.5L145.1,329.9L140.5,330.7L140.8,332.1L138.9,332.4L139.2,333.8L140.8,333.5L141.1,334.9L139.5,335.2L139.8,336.6L140.8,336.4L141.1,337.8L141.1,337.8L141.4,339.2L143.3,338.8L143.6,340.2L143.4,340.3L143.7,341.7L146.2,341.1L146.5,342.5L145.5,342.7L145.8,344.1L146.1,344L146.4,345.4L143.7,346L144,347.4L144.8,347.3L145.1,348.6L144.4,348.8L144.7,350.2L144.3,350.3L144.7,351.7L144.2,351.8L144.6,353.2L145.5,352.9L145.9,354.3L145,354.6L145.4,356L147.4,355.4L147.8,356.7L148,356.7L148.4,358L148.3,358.1L148.7,359.4L148.2,359.6L148.6,361L147.9,361.2L148.3,362.5L147.4,362.8L147.8,364.2L148.6,364L149,365.3L148.3,365.6L148.8,366.9L150.2,366.4L150.7,367.8L149.5,368.2L149.9,369.5L150.9,369.2L151.4,370.5L151.6,370.4L152.1,371.8L152.3,371.7L152.8,373L150.8,373.8L151.3,375.2L152.2,374.8L152.7,376.1L152.7,376.1L153.2,377.5L153.2,377.5L153.8,378.8L153.3,379L153.8,380.3L153.9,380.3L154.4,381.6L154.8,381.5L155.3,382.8L154.8,383L155.4,384.3L156.2,384L156.8,385.3L155.1,386L155.7,387.3L155.5,387.4L156.1,388.7L156.9,388.3L157.5,389.6L157,389.9L157.6,391.2L157.6,391.2L158.3,392.5L158.1,392.6L158.7,393.9L161.3,392.6L162,393.9L160.3,394.7L160.9,396L161.9,395.5L162.5,396.8L163,396.5L163.6,397.8L164.7,397.3L165.3,398.5L165.4,398.5L166,399.7L167.7,398.9L168.4,400.1L166,401.4L166.7,402.6L166.5,402.7L167.2,403.9L164.8,405.3L165.5,406.5L165.9,406.3L166.6,407.6L166.8,407.5L167.5,408.7L166.8,409.1L167.5,410.4L167.7,410.3L168.5,411.5L171.1,409.9L171.8,411.1L172.6,410.7L173.3,411.9L172,412.7L172.7,413.9L173,413.7L173.8,414.9L173.5,415.1L174.3,416.3L173.1,417.1L173.9,418.3L175.5,417.2L176.3,418.4L175.2,419.1L176,420.3L175.4,420.7L176.2,421.9L176.4,421.8L177.2,422.9L177.7,422.6L178.5,423.7L177.8,424.3L178.6,425.4L177.8,426L178.7,427.2L178.9,427L179.8,428.1L180.5,427.6L181.3,428.8L181.7,428.5L182.6,429.6L181.8,430.2L182.7,431.3L182.5,431.5L183.3,432.6L184.1,432.1L185,433.2L185.5,432.7L186.4,433.9L185.4,434.7L186.3,435.8L186,436.1L186.8,437.2L188.1,436.1L189,437.2L188.2,437.9L189.1,439L190,438.3L190.9,439.4L190.5,439.8L191.4,440.9L191.3,441L192.2,442L192.1,442.1L193,443.2L193.3,443L194.3,444.1L193.7,444.6L194.6,445.6L194.1,446.1L195.1,447.2L195.2,447.1L196.1,448.1L197,447.3L198,448.4L198.1,448.3L199.1,449.3L198.1,450.2L199.1,451.3L199.5,450.9L200.5,451.9L200.5,452L201.5,453L201.5,452.9L202.5,453.9L202.5,453.9L203.5,455L203.6,454.9L204.6,455.9L204.3,456.2L205.3,457.2L204.8,457.7L205.9,458.7L206.7,457.9L207.7,458.9L207.6,459L208.7,460L208.3,460.4L209.3,461.4L210.9,459.7L211.9,460.6L213.1,459.4L214.1,460.4L212.8,461.9L213.8,462.8L214.2,462.4L215.3,463.3L214.1,464.6L215.2,465.5L214.5,466.3L215.6,467.3L215.9,467L216.9,467.9L216.7,468.2L217.8,469.1L217.7,469.2L218.8,470.2L219.2,469.6L220.4,470.6L220.3,470.6L221.4,471.5L221.2,471.9L222.3,472.8L222,473L223.2,473.9L223.5,473.5L224.7,474.4L224.7,474.3L225.9,475.2L226.5,474.3L227.7,475.2L227,476L228.1,476.9L228.6,476.3L229.8,477.1L229.4,477.6L230.6,478.5L230.6,478.4L231.8,479.2L232.3,478.5L233.4,479.4L233,479.9L234.2,480.7L233.9,481.3L235,482.1L234.9,482.3L236.1,483.1L236.4,482.6L237.6,483.4L237.6,483.5L238.8,484.3L238.3,484.9L239.6,485.7L240.2,484.6L241.4,485.4L242.6,483.5L243.8,484.3L243.7,484.5L244.9,485.2L244.7,485.7L245.9,486.4L245.3,487.3L246.5,488L246.4,488.3L247.6,489L247.5,489.3L248.7,490L248.4,490.5L249.6,491.2L249.8,491L251,491.8L251.1,491.5L252.4,492.3L253.1,490.9L254.4,491.6L254.9,490.6L256.2,491.3L255.4,492.8L256.6,493.5L256.7,493.3L258,493.9L257.2,495.5L258.4,496.1L258.5,496L259.8,496.7L260.3,495.6L261.6,496.3L261.2,497L262.5,497.6L262.4,497.9L263.7,498.5L263.5,498.9L264.7,499.6L265.9,497.2L267.2,497.9L267.6,496.9L268.9,497.5L268.5,498.4L269.7,499L269.2,500.2L270.5,500.8L270.2,501.5L271.5,502.1L271.9,501.1L273.3,501.7L274.1,499.8L275.4,500.4L274.6,502.1L275.9,502.6L275.9,502.8L277.2,503.4L276.9,504L278.3,504.5L278.2,504.7L279.5,505.2L279.7,504.9L281,505.4L280.7,506L282.1,506.6L282,506.7L283.4,507.2L283.4,507.1L284.7,507.6L285,506.8L286.4,507.3L286.2,507.7L287.6,508.1L287.8,507.5L289.2,507.9L289.6,506.9L290.9,507.4L290.9,507.3L292.3,507.8L292,508.4L293.4,508.8L293,510.1L294.3,510.5L294.4,510.3L295.8,510.7L295.8,510.7L297.2,511.1L297.3,510.6L298.7,511.1L298.6,511.2L300,511.6L300.4,510.2L301.8,510.6L301.7,511L303,511.4L303.2,510.9L304.5,511.3L304.3,512.1L305.7,512.5L305.7,512.5L307.1,512.9L306.6,514.5L308,514.9L307.9,515.3L309.3,515.6L309.3,515.5L310.7,515.9L310.7,515.8L312.1,516.2L312.1,516.4L313.5,516.8L313.7,515.9L315.1,516.2L314.8,517.2L316.2,517.5L316.3,517.4L317.7,517.7L317.8,517L319.2,517.3L319.2,517.7L320.6,517.9L320.5,518L322,518.3L321.9,518.8L323.3,519L323.3,518.9L324.7,519.2L324.7,519.4L326.1,519.7L326.3,518.7L327.7,518.9L327.7,518.9L329.1,519.1L329.1,519.4L330.5,519.6L330.4,520.2L331.8,520.4L331.8,520.4L333.2,520.6L333.3,520.1L334.7,520.2L334.7,520.7L336.1,520.9L336.1,520.8L337.5,520.9L337.6,520.2L339.1,520.4L339.1,520.3L340.5,520.4L340.5,520.3L341.9,520.5L342,519.8L343.4,519.9L343.4,520.4L344.8,520.5L344.7,521.2L346.2,521.4L346.2,521.3L347.6,521.4L347.6,521.5L349,521.6L349,521.6L350.5,521.7L350.4,521.9L351.9,522L351.9,521.9L353.3,522L353.3,522.4L354.7,522.4L354.7,522.4L356.2,522.5L356.2,522.1L357.6,522.2L357.6,522L359.1,522L359.1,521.5L360.5,521.5L360.5,521.8L361.9,521.8L361.9,521.8L363.4,521.8L363.4,522.1L364.8,522.1L364.8,521.8L366.2,521.8L366.2,520.6L367.7,520.6L367.7,520.8L369.1,520.8L369.1,521L370.5,520.9L370.5,520.9L371.9,520.9L372,521.6L373.4,521.5L373.4,521.8L374.8,521.7L374.8,521.2L376.2,521.1L376.2,521L377.7,520.9L377.6,520L379,519.9L379.1,521.6L380.6,521.5L380.6,522.1L382,522L382,521.9L383.5,521.8L383.5,522.2L384.9,522.1L384.9,521.3L386.3,521.2L386.3,521.2L387.7,521.1L387.7,520.7L389.1,520.6L389.1,520.3L390.5,520.2L390.5,520.1L391.9,519.9L391.8,519L393.2,518.8L393.5,521.1L395,520.9L394.9,520.8L396.4,520.6L396.3,520.2L397.7,520L397.7,520.1L399.2,519.9L399.2,520.3L400.7,520.1L400.5,519L401.9,518.7L402,519.6L403.5,519.3L403.4,519.3L404.9,519L404.9,519.3L406.3,519.1L406.4,519.2L407.8,519L407.6,518.3L409,518L409.1,518.2L410.5,517.9L410.3,517L411.7,516.7L411.7,516.6L413.1,516.3L413.2,516.8L414.6,516.4L414.7,516.9L416.1,516.6L416.2,516.9L417.6,516.6L417.6,516.7L419,516.4L418.7,515.2L420.1,514.9L419.8,513.8L421.2,513.4L421.2,513.5L422.6,513.2L422.8,513.9L424.2,513.6L424.3,513.8L425.7,513.5L425.7,513.5L427.1,513.1L427.1,513.3L428.5,512.9L428.7,513.8L430.1,513.4L430.1,513.3L431.5,512.9L431.5,512.8L432.8,512.4L432.8,512.2L434.1,511.8L433.7,510.4L435.1,510L435.4,510.8L436.7,510.4L436.8,510.5L438.1,510.1L438,509.6L439.3,509.1L439,508.4L440.4,507.9L440.2,507.4L441.5,506.9L441.8,507.6L443.1,507.1L443.6,508.3L444.9,507.8L445.1,508.3L446.5,507.8L446.5,507.8L447.8,507.3L447.7,507.1L449.1,506.6L449.2,507L450.6,506.4L450.5,506.3L451.8,505.7L451.8,505.7L453.2,505.2L453,504.9L454.4,504.3L454.3,504.2L455.7,503.7L455.5,503.2L456.8,502.6L456.3,501.6L457.6,501L457.7,501.1L459,500.5L459.1,500.8L460.4,500.2L460.8,501.2L462.2,500.6L462.3,501L463.6,500.4L463.6,500.2L464.9,499.6L464.8,499.4L466.1,498.8L465.9,498.4L467.2,497.8L466.9,497.2L468.1,496.5L468.5,497.3L469.8,496.6L470,496.9L471.2,496.3L470.8,495.5L472.1,494.8L472,494.7L473.3,494L472.8,493.2L474.1,492.5L474.4,493.1L475.6,492.4L476.2,493.3L477.4,492.6L477.7,493.1L479,492.4L478.3,491.3L479.6,490.6L479.6,490.6L480.8,489.9L481,490.2L482.2,489.5L482.5,489.8L483.7,489.1L483.3,488.5L484.6,487.8L484.8,488.2L486,487.4L485.9,487.1L487.1,486.4L487.3,486.8L488.6,486L488.5,485.9L489.7,485.1L489.5,484.8L490.7,484L490.9,484.3L492,483.5L491.7,483L492.9,482.2L493.1,482.5L494.3,481.7L494.4,481.8L495.5,481L495.3,480.6L496.5,479.8L496.7,480.1L497.8,479.3L497.6,478.9L498.7,478L498.5,477.7L499.6,476.8L500,477.3L501.1,476.5L501,476.3L502.1,475.4L502.7,476.1L503.8,475.2L503.9,475.4L505.1,474.5L504.9,474.3L506,473.4L505.6,472.9L506.8,472L506.7,472L507.8,471.1L508.2,471.5L509.3,470.6L509.6,471L510.7,470.1L510.5,469.8L511.6,468.9L511.3,468.6L512.4,467.7L512.5,467.7L513.6,466.8L514.3,467.6L515.3,466.6L515.3,466.6L516.4,465.7L516.6,465.9L517.7,464.9L517.7,464.9L518.7,463.9L518.5,463.7L519.5,462.7L518.8,461.9L519.9,461L519.5,460.5L520.5,459.5L520.8,459.8L521.9,458.9L521.9,458.9L522.9,457.9L522.9,457.9L524,456.9L523.7,456.6L524.7,455.6L525.1,456L526.1,455L526.4,455.3L527.4,454.3L527.6,454.5L528.6,453.4L528.8,453.6L529.8,452.6L529.8,452.6L530.8,451.5L531.1,451.9L532.1,450.8L531.9,450.7L532.9,449.6L532.6,449.3L533.6,448.3L533.7,448.4L534.7,447.3L534.9,447.5L535.9,446.4L535.8,446.4L536.8,445.3L536.9,445.4L537.8,444.3L537.8,444.3L538.8,443.2L538.6,443.1L539.6,442L539.5,442L540.5,440.9L540.3,440.8L541.2,439.6L541.3,439.7L542.2,438.6L542.6,438.9L543.5,437.8L543.1,437.5L544,436.3L543.8,436.2L544.7,435.1L544.3,434.7L545.1,433.6L546.1,434.3L547,433.2L547.1,433.3L547.9,432.1L547.5,431.7L548.3,430.6L548.7,430.8L549.5,429.7L548.7,429.1L549.6,427.9L550.1,428.3L550.9,427.1L551.2,427.4L552.1,426.2L552.1,426.3L553,425.1L553,425.1L553.8,423.9L553.8,423.9L554.6,422.7L554.7,422.7L555.5,421.5L555.2,421.4L556,420.2L555.9,420.1L556.7,418.9L556.8,419L557.6,417.8L557.6,417.8L558.4,416.5L558.6,416.7L559.4,415.5L559,415.2L559.8,414L559.3,413.7L560,412.5L560.8,412.9L561.5,411.7L561.6,411.8L562.4,410.5L562.1,410.4L562.8,409.1L563.1,409.3L563.8,408L563.5,407.9L564.2,406.6L564.3,406.6L565,405.4L564.9,405.4L565.6,404.1L565.7,404.2L566.4,402.9L566.7,403L567.3,401.8L567.1,401.6L567.7,400.3L567.9,400.4L568.6,399.1L568.7,399.2L569.4,397.9L568.4,397.5L569.1,396.2L569.1,396.2L569.7,394.9L569.5,394.8L570.1,393.5L570.1,393.5L570.8,392.2L570.3,392L570.9,390.7L572.1,391.2L572.7,389.9L573,390.1L573.6,388.8L573.7,388.8L574.3,387.5L574.1,387.4L574.7,386.1L574.1,385.9L574.7,384.5L575,384.7L575.6,383.3L576,383.5L576.6,382.2L576.7,382.2L577.2,380.9L577,380.8L577.5,379.5L577.3,379.4L577.8,378L577.1,377.7L577.6,376.4L577.1,376.2L577.6,374.9L577.7,374.9L578.2,373.6L578.8,373.8L579.3,372.5L580,372.7L580.5,371.4L580.3,371.3L580.8,369.9L580.7,369.9L581.1,368.5L580.9,368.5L581.4,367.1L581,367L581.5,365.6L580.9,365.4L581.3,364.1L581.9,364.2L582.3,362.9L583.3,363.2L583.7,361.8L583.9,361.9L584.4,360.5L584.3,360.5L584.7,359.1L584.7,359.1L585.1,357.7L584.8,357.6L585.2,356.2L584.8,356.1L585.2,354.7L585.2,354.7L585.6,353.4L586.2,353.5L586.6,352.1L586.7,352.2L587,350.8L586.9,350.7L587.3,349.3L586.8,349.2L587.1,347.8L587,347.8L587.4,346.4L587.9,346.5L588.2,345.1L588.4,345.2L588.7,343.7L588.3,343.7L588.6,342.3L588,342.1L588.3,340.7L588.3,340.7L588.5,339.3L589,339.4L589.3,338L589.6,338.1L589.9,336.6L589.9,336.6L590.2,335.2L589.9,335.2L590.1,333.8L590.4,333.8L590.7,332.4L590.8,332.4L591,331L590.9,331L591.1,329.6L590.8,329.5L591,328.1L590.3,328L590.5,326.5L590.5,326.5L590.7,325.1L591.7,325.3L591.9,323.8L592.2,323.9L592.4,322.5L592.5,322.5L592.7,321L592.6,321L592.8,319.6L592.4,319.6L592.6,318.1L592.2,318.1L592.4,316.7L592.3,316.7L592.5,315.2L593,315.3L593.1,313.8L592.5,313.8L592.6,312.3L593.4,312.4L593.5,311L593.6,311L593.7,309.5L593.6,309.5L593.7,308.1L593.1,308.1L593.2,306.6L593.1,306.6L593.2,305.2L593.4,305.2L593.5,303.8L593.7,303.8L593.8,302.3L594.1,302.3L594.2,300.9L593.8,300.9L593.9,299.5L593.8,299.5L593.8,298L593.8,298L593.8,296.6L594,296.6L594,295.1L594.2,295.1L594.2,293.7L593.9,293.7L593.9,292.3L593.9,292.3L593.9,290.8L594.3,290.8L594.3,289.4L594.2,289.4L594.1,287.9L594.2,287.9L594.1,286.5L593.5,286.5L593.4,285.1L594.1,285.1L594,283.6L594,283.6L593.9,282.2L593.7,282.2L593.6,280.7L593.5,280.8L593.4,279.3L593.8,279.3L593.7,277.9L593.7,277.9L593.6,276.4L593.1,276.5L593,275L592.7,275L592.6,273.6L592,273.7L591.9,272.2L593.2,272.1L593.1,270.7L592.9,270.7L592.7,269.3L592.9,269.2L592.7,267.8L592.8,267.8L592.6,266.4L592.7,266.4L592.5,264.9L592.4,264.9L592.2,263.5L591.2,263.7L591,262.2L591.3,262.2L591.1,260.8L591.4,260.7L591.2,259.3L591.4,259.3L591.2,257.8L591.3,257.8L591.1,256.4L591.1,256.4L590.8,255L590.9,255L590.7,253.5L590,253.7L589.8,252.2L589.1,252.4L588.8,251L589.1,250.9L588.8,249.5L588.7,249.5L588.4,248.1L588.8,248L588.5,246.6L587.7,246.8L587.4,245.4L587.9,245.3L587.6,243.9L586.4,244.2L586.1,242.8L587.5,242.5L587.1,241.1L587.8,240.9L587.5,239.5L587.7,239.4L587.4,238L587.4,238L587,236.6L586.8,236.7L586.4,235.3L586,235.4L585.7,234L585,234.2L584.6,232.8L584.7,232.8L584.3,231.4L583.7,231.6L583.3,230.2L583.9,230L583.5,228.7L583.8,228.6L583.4,227.2L583.7,227.1L583.3,225.7L583,225.8L582.6,224.4L582.4,224.5L582,223.1L582.4,223L582,221.6L582.5,221.4L582.1,220.1L581.9,220.1L581.4,218.8L581.5,218.7L581,217.4L581.1,217.4L580.6,216L580.7,216L580.2,214.6L580.1,214.6L579.6,213.3L579.7,213.3L579.1,211.9L578.7,212.1L578.2,210.8L577.9,210.9L577.4,209.5L577.3,209.5L576.8,208.2L576.5,208.3L576,207L576.2,206.9L575.7,205.6L576.2,205.3L575.7,204L576.1,203.9L575.5,202.5L575.5,202.5L574.9,201.2L574.9,201.2L574.3,199.9L574.3,199.9L573.7,198.6L572.7,199L572.1,197.7L571.8,197.9L571.2,196.6L571.5,196.4L570.9,195.1L571,195.1L570.4,193.8L571,193.5L570.4,192.2L570.7,192L570.1,190.7L569.8,190.8L569.2,189.6L569.2,189.6L568.5,188.3L568.4,188.3L567.8,187L567.4,187.2L566.7,186L566.2,186.2L565.6,185L565,185.3L564.3,184L564.8,183.8L564.1,182.5L564,182.5L563.3,181.3L563.8,181L563.1,179.8L563.7,179.4L562.9,178.2L562.9,178.2L562.2,177L562.4,176.9L561.6,175.6L561.7,175.6L561,174.3L560.6,174.6L559.9,173.3L559.1,173.8L558.4,172.6L557.9,172.8L557.2,171.6L557.7,171.3L557,170.1L557.7,169.6L557,168.3L557,168.3L556.2,167.1L556,167.2L555.2,166L554.9,166.3L554.1,165.1L554.8,164.6L554,163.4L553.8,163.5L553,162.3L553,162.3L552.2,161.1L552.3,161L551.5,159.8L551.5,159.9L550.6,158.7L550.8,158.6L549.9,157.4L549.9,157.5L549,156.3L549.1,156.2L548.2,155.1L547.9,155.4L547,154.2L547.2,154L546.3,152.9L546.3,152.9L545.4,151.8L544.9,152.1L544.1,151L543.9,151.2L543,150L542.9,150.1L542,149L542.3,148.7L541.4,147.6L541.4,147.6L540.5,146.5L540.5,146.5L539.6,145.4L539.6,145.4L538.6,144.3L538.3,144.6L537.4,143.5L537.7,143.2L536.8,142.1L537.2,141.7L536.2,140.7L536.3,140.6L535.3,139.5L535.4,139.4L534.5,138.4L534.4,138.4L533.4,137.3L533.6,137.2L532.6,136.1L532.2,136.5L531.2,135.5L530.9,135.8L529.9,134.7L529.7,134.9L528.7,133.8L528.6,133.9L527.6,132.9L527.8,132.7L526.8,131.7L527.1,131.4L526.1,130.4L526.5,130L525.5,129L525.5,128.9L524.5,127.9L524.5,127.8L523.5,126.8L523.4,127L522.3,126L522.4,125.8L521.4,124.9L521.3,124.9L520.2,123.9L520.3,123.9L519.2,122.9L519.2,122.9L518.1,122L517.9,122.2L516.8,121.2L516.6,121.5L515.5,120.5L515.3,120.8L514.2,119.9L514.3,119.8L513.2,118.9L513.5,118.4L512.4,117.5L512.6,117.3L511.5,116.4L511.6,116.3L510.5,115.4L510.4,115.5L509.2,114.6L509.2,114.6L508.1,113.7L507.8,114.1L506.7,113.2L506.7,113.1L505.6,112.2L505.6,112.2L504.5,111.3L504.6,111.1L503.4,110.3L503.5,110.2L502.3,109.4L502.2,109.5L501.1,108.6L501,108.7L499.8,107.9L500.1,107.5L498.9,106.6L499,106.6L497.8,105.7L497.8,105.8L496.6,105L496.5,105.1L495.3,104.3L495.1,104.5L494,103.6L494.1,103.5L492.9,102.7L493.1,102.4L491.9,101.6L491.8,101.7L490.6,100.9L490.5,101.1L489.3,100.3L489,100.6L487.8,99.9L488.1,99.4L486.9,98.7L486.8,98.7L485.6,97.9L485.7,97.7L484.5,97L484.5,97L483.2,96.3L483,96.6L481.8,95.9L482,95.5L480.8,94.7L480.7,94.8L479.5,94.1L479.5,94L478.3,93.3L478.1,93.6L476.8,92.9L476.8,92.9L475.6,92.2L475.6,92.1L474.4,91.4L474.4,91.4L473.1,90.7L473.1,90.6L471.9,90L471.9,89.9L470.6,89.2L470.6,89.2L469.3,88.6L469.4,88.5L468.1,87.8L468.1,87.9L466.8,87.2L466.6,87.6L465.3,87L465.3,87L464,86.4L464,86.2L462.7,85.6L462.7,85.7L461.4,85L461.4,85L460.1,84.4L460,84.6L458.7,84L458.9,83.6L457.6,83L457.6,82.9L456.3,82.3L456.3,82.3L454.9,81.7L454.8,82.2L453.4,81.6L453.4,81.8L452,81.2L452.1,81L450.8,80.5L450.9,80.1L449.6,79.6L449.6,79.6L448.2,79.1L448.2,79L446.9,78.5L446.8,78.7L445.5,78.2L445.5,78L444.2,77.5L444.1,77.7L442.8,77.2L442.8,77.2L441.4,76.7L441.4,76.7L440,76.2L439.9,76.4L438.6,76L438.5,76.1L437.2,75.7L437.2,75.7L435.8,75.2L435.8,75.1L434.5,74.6L434.5,74.4L433.1,74L433.1,74L431.8,73.6L431.7,73.8L430.3,73.3L430.2,73.6L428.9,73.2L428.9,73L427.5,72.6L427.5,72.8L426.1,72.4L426.1,72.4L424.7,72L424.8,71.7L423.4,71.4L423.4,71.3L422,70.9L422,70.9L420.6,70.6L420.6,70.6L419.2,70.3L419.2,70.3L417.8,70L417.8,69.8L416.4,69.5L416.4,69.5L415,69.1L414.9,69.6L413.5,69.3L413.5,69.1L412.1,68.8L412.1,68.9L410.7,68.6L410.8,68.2L409.3,68L409.3,68.3L407.8,68L407.9,67.5L406.5,67.3L406.5,67.3L405.1,67L405.1,66.9L403.7,66.6L403.7,66.6L402.3,66.3L402.3,66.4L400.8,66.2L400.8,66.5L399.4,66.3L399.4,66.3L397.9,66.1L397.9,66L396.5,65.8L396.5,65.6L395.1,65.4L395.1,65.3L393.7,65.1L393.7,65.2L392.2,65L392.2,65L390.8,64.9L390.8,64.9L389.3,64.8L389.4,64.7L387.9,64.5L387.9,64.4L386.5,64.3L386.5,64.4L385,64.3L385,64.3L383.6,64.2L383.6,64.2L382.1,64.1L382.1,64.1L380.7,64L380.7,63.9L379.3,63.8L379.3,63.7L377.8,63.6L377.8,63.8L376.4,63.7L376.4,63.8L374.9,63.8L374.9,63.8L373.5,63.8L373.5,63.8L372,63.8L372,63.6L370.6,63.5L370.6,63.7L369.1,63.6L369.1,63.4L367.7,63.4L367.7,63.2L366.2,63.2L366.2,63.3L364.8,63.3Z" fill="#d9d9d9"/>
<path d="M169.4,229.5L169.4,228.2L169.8,226.9L170.3,225.7L170.9,224.6L171,223.2L171.4,222L172,220.8L172,219.5L172.2,218.2L172.7,216.9L172.8,215.6L173.3,214.4L174.1,213.3L174.9,212.2L175.5,211.1L176,209.9L176,208.5L176,207L175.8,205.5L176.5,204.4L177.4,203.4L178.5,202.4L178.4,200.9L179,199.8L180.3,199L180,197.3L180.4,196.1L181.5,195.2L181.6,193.7L181.9,192.4L182.6,191.3L183.5,190.3L184.1,189.1L184.5,187.8L185.7,187L186.4,185.9L186.6,184.5L186.7,183L186.4,181.3L185.8,179.3L187.9,179.1L189.5,178.6L190.5,177.6L191.7,176.9L192.2,175.6L192.1,173.9L194,173.7L195.2,172.9L195.6,171.6L195.8,170.1L196.7,169.1L198.2,168.6L197.8,166.6L198.1,165.2L199.1,164.3L200.6,163.8L201.8,163.1L202.6,162.1L203.8,161.4L204.8,160.5L205.7,159.6L205.7,157.8L206.1,156.4L206.9,155.4L207.9,154.5L208.9,153.6L209.8,152.6L211.1,152L211.9,151L212.4,149.7L214.2,149.5L215.1,148.7L215.4,147.1L215.6,145.5L216.3,144.2L217.3,143.4L219,143.3L220.4,142.8L221.3,141.8L221.4,140.1L221.9,138.6L222.6,137.5L225.2,138.3L226.7,138.1L227.2,136.6L227.8,135.4L228.4,134L228.9,132.5L231,133L232.2,132.3L232.4,130.5L233.9,130.3L234.5,128.9L234,126.1L236.1,126.7L237.9,126.8L239.2,126.5L240.4,125.8L241.1,124.6L241.4,122.7L242.7,122.3L244.5,122.5L246.7,123.4L247,121.6L248.3,121.1L250.4,121.9L251.2,120.7L252.3,120.1L253.8,120L255,119.5L256,118.6L256.7,117.4L258.1,117.1L258.9,115.9L259.1,113.7L260.1,112.8L261.5,112.6L263.4,113.3L265.1,113.8L266,112.6L265.9,109.7L269,112.8L271.2,114.3L272.4,113.8L271.6,109.3L271.7,106.7L272.9,106.2L273.8,105L275.4,105.2L277.6,106.9L279.8,108.6L281.2,108.5L281.7,106.5L281.8,103.6L283.2,103.4L285.8,106.2L286.9,105.7L288.5,106.2L290.5,107.7L291.5,106.8L291.4,103L290.4,96.8L292,97.2L294.2,99.4L297,103.4L298,102.6L298.9,101.2L299.5,99.1L299.6,95.3L301.1,95.6L303.9,100.1L304.2,96.6L305.8,97.5L308.7,102.9L309.1,99.7L309.2,95.2L308.9,89.5L309.8,87.5L311.6,89.3L314.5,95.2L315.4,93.4L315.9,89.8L315.9,84.3L318,87.6L319.8,89.2L321.1,89L321.6,85.3L322.7,83.8L324.2,84.2L325,81.6L326.2,80.7L327.7,81.1L329.4,83.3L330.8,83.6L332,82.3L333.3,81.7L334.6,81.8L336.1,82.4L337.3,81.5L338.5,79.9L339.6,77.6L341.1,79.4L342.4,78.9L343.6,76.2L344.9,76.4L346.3,76.4L347.7,76.2L349,75.3L350.3,74.6L351.7,74.2L353,73.3L354.4,73.2L355.8,73.9L357.2,73.4L358.6,73L359.9,72.6L361.3,71L362.7,70.3L364.1,70.5" fill="none" stroke="#2378b6" stroke-width="0.75" stroke-linejoin="round"/>
<path d="M192,183.3L190.6,180.8L196.3,183L193.9,179.9L194.1,178.5L196.7,178.7L197.4,177.6L196.8,175.6L200.1,176.4L199.3,174.2L201.8,174.5L201.9,173L203.2,172.3L204.1,171.4L204,169.8L204.7,168.7L206.9,168.8L205.1,165.8L206.8,165.4L207.4,164.3L209.1,164.1L210,163.1L210.1,161.6L211.5,161.1L214,161.6L212.8,158.8L212.2,156.6L217.2,159.4L215.8,156.4L215.8,154.7L218.6,155.5L218.5,153.7L221.5,154.8L221.2,152.8L221,150.8L224.1,152.1L225.8,152L224.9,149.3L227.5,150.3L225.9,146.7L228.7,147.8L227.8,145L229.9,145.4L230.4,144.2L232.6,144.7L235.6,146.2L234.7,143.3L235.8,142.7L237.9,143.2L236.2,139.3L238.9,140.5L239.4,139.2L239.7,137.6L241.2,137.4L242,136.5L243.6,136.4L246.2,137.7L245.4,134.7L244.8,131.8L247,132.6L248.4,132.4L250.4,133.1L249.9,130.2L252.8,132.1L251.6,128.2L254.1,129.6L256.4,130.9L255.9,127.9L257.1,127.5L258.2,126.8L259.4,126.5L261.1,126.8L262.1,126.1L263.4,125.9L264.9,125.9L264.9,123.5L267,124.6L268.3,124.4L268.7,122.6L269.9,122.4L271.1,121.9L270.9,119L274.1,122.3L274.7,120.8L276.6,122L277.3,120.7L278.6,120.5L280.3,121.2L281.3,120.5L282.1,119.3L282.7,117.8L284,117.6L285.5,118L285.7,115.5L287.5,116.5L288.8,116.6L288.9,113.7L290.8,115L291.9,114.6L292.9,113.8L294.2,113.9L294.9,112.3L296.7,113.4L298.2,114.2L298.4,111.2L300.2,112.4L301.7,113.1L302.7,112.4L303.2,110.1L305.3,112.5L306.2,111.3L307.1,110.3L308.4,110.4L309.9,111.1L310.5,108.9L311.4,107.7L312.7,107.8L313.5,106.3L315,106.9L316.1,106.5L317,105.1L318.5,106L319.4,104.4L320.6,104.5L322,104.9L323,104.1L324.3,104.3L325.8,105.4L326.8,104L328.1,104.3L329.2,103.7L330.5,104.1L331.5,102.8L332.9,103.6L334.2,104.4L335.2,103.2L336.2,101.2L337.5,101.7L338.6,101.3L339.8,101L341.1,100.9L342.2,99.9L343.3,99.1L344.4,97.9L345.7,98.4L347,98.3L348.2,98.1L349.4,97.8L350.8,99.9L351.9,98.6L353.2,99.1L354.4,99.6L355.7,99.9L356.9,99.9L358.1,99.8L359.3,100.4L360.5,99.4L361.8,99.8L363,99.8L364.2,99.8" fill="none" stroke="#7fb6dc" stroke-width="0.5"/>
<circle cx="364.8" cy="293.7" r="230.9" fill="none" stroke="#555555" stroke-width="2.0"/>
<circle cx="364.8" cy="293.7" r="190.3" fill="none" stroke="#555555" stroke-width="2"/>
<line x1="364.8" y1="62.8" x2="364.8" y2="72.3" stroke="#555555" stroke-width="2.0"/>
<line x1="364.8" y1="103.4" x2="364.8" y2="92.9" stroke="#333" stroke-opacity="0.5" stroke-width="1.8"/>
<line x1="393.7" y1="64.6" x2="393.1" y2="69.6" stroke="#555555" stroke-width="1"/>
<line x1="388.7" y1="104.9" x2="389.1" y2="101.4" stroke="#333" stroke-opacity="0.5" stroke-width="0.9"/>
<line x1="422.2" y1="70.1" x2="421" y2="74.9" stroke="#555555" stroke-width="1"/>
<line x1="412.1" y1="109.4" x2="413" y2="106" stroke="#333" stroke-opacity="0.5" stroke-width="0.9"/>
<line x1="449.8" y1="79" x2="448" y2="83.7" stroke="#555555" stroke-width="1"/>
<line x1="434.9" y1="116.8" x2="436.1" y2="113.5" stroke="#333" stroke-opacity="0.5" stroke-width="0.9"/>
<line x1="476" y1="91.4" x2="473.6" y2="95.7" stroke="#555555" stroke-width="1"/>
<line x1="456.5" y1="126.9" x2="458.2" y2="123.9" stroke="#333" stroke-opacity="0.5" stroke-width="0.9"/>
<line x1="500.5" y1="106.9" x2="494.9" y2="114.6" stroke="#555555" stroke-width="2.0"/>
<line x1="476.7" y1="139.7" x2="482.8" y2="131.2" stroke="#333" stroke-opacity="0.5" stroke-width="1.8"/>
<line x1="522.9" y1="125.4" x2="519.4" y2="129" stroke="#555555" stroke-width="1"/>
<line x1="495.1" y1="155" x2="497.5" y2="152.4" stroke="#333" stroke-opacity="0.5" stroke-width="0.9"/>
<line x1="542.7" y1="146.5" x2="538.9" y2="149.7" stroke="#555555" stroke-width="1"/>
<line x1="511.4" y1="172.4" x2="514.1" y2="170.2" stroke="#333" stroke-opacity="0.5" stroke-width="0.9"/>
<line x1="559.8" y1="170" x2="555.5" y2="172.7" stroke="#555555" stroke-width="1"/>
<line x1="525.5" y1="191.7" x2="528.4" y2="189.9" stroke="#333" stroke-opacity="0.5" stroke-width="0.9"/>
<line x1="573.7" y1="195.4" x2="569.2" y2="197.5" stroke="#555555" stroke-width="1"/>
<line x1="537" y1="212.7" x2="540.2" y2="211.2" stroke="#333" stroke-opacity="0.5" stroke-width="0.9"/>
<line x1="584.4" y1="222.3" x2="575.4" y2="225.3" stroke="#555555" stroke-width="2.0"/>
<line x1="545.8" y1="234.9" x2="555.8" y2="231.6" stroke="#333" stroke-opacity="0.5" stroke-width="1.8"/>
<line x1="591.6" y1="250.4" x2="586.7" y2="251.4" stroke="#555555" stroke-width="1"/>
<line x1="551.7" y1="258" x2="555.2" y2="257.4" stroke="#333" stroke-opacity="0.5" stroke-width="0.9"/>
<line x1="595.2" y1="279.2" x2="590.3" y2="279.5" stroke="#555555" stroke-width="1"/>
<line x1="554.7" y1="281.8" x2="558.2" y2="281.5" stroke="#333" stroke-opacity="0.5" stroke-width="0.9"/>
<line x1="595.2" y1="308.2" x2="590.3" y2="307.9" stroke="#555555" stroke-width="1"/>
<line x1="554.7" y1="305.6" x2="558.2" y2="305.9" stroke="#333" stroke-opacity="0.5" stroke-width="0.9"/>
<line x1="591.6" y1="337" x2="586.7" y2="336" stroke="#555555" stroke-width="1"/>
<line x1="551.7" y1="329.4" x2="555.2" y2="330" stroke="#333" stroke-opacity="0.5" stroke-width="0.9"/>
<line x1="584.4" y1="365.1" x2="575.4" y2="362.1" stroke="#555555" stroke-width="2.0"/>
<line x1="545.8" y1="352.5" x2="555.8" y2="355.8" stroke="#333" stroke-opacity="0.5" stroke-width="1.8"/>
<line x1="573.7" y1="392" x2="569.2" y2="389.9" stroke="#555555" stroke-width="1"/>
<line x1="537" y1="374.7" x2="540.2" y2="376.2" stroke="#333" stroke-opacity="0.5" stroke-width="0.9"/>
<line x1="559.8" y1="417.4" x2="555.5" y2="414.7" stroke="#555555" stroke-width="1"/>
<line x1="525.5" y1="395.7" x2="528.4" y2="397.5" stroke="#333" stroke-opacity="0.5" stroke-width="0.9"/>
<line x1="542.7" y1="440.9" x2="538.9" y2="437.7" stroke="#555555" stroke-width="1"/>
<line x1="511.4" y1="415" x2="514.1" y2="417.2" stroke="#333" stroke-opacity="0.5" stroke-width="0.9"/>
<line x1="522.9" y1="462" x2="519.4" y2="458.4" stroke="#555555" stroke-width="1"/>
<line x1="495.1" y1="432.4" x2="497.5" y2="435" stroke="#333" stroke-opacity="0.5" stroke-width="0.9"/>
<line x1="500.5" y1="480.5" x2="494.9" y2="472.8" stroke="#555555" stroke-width="2.0"/>
<line x1="476.7" y1="447.7" x2="482.8" y2="456.2" stroke="#333" stroke-opacity="0.5" stroke-width="1.8"/>
<line x1="476" y1="496" x2="473.6" y2="491.7" stroke="#555555" stroke-width="1"/>
<line x1="456.5" y1="460.5" x2="458.2" y2="463.5" stroke="#333" stroke-opacity="0.5" stroke-width="0.9"/>
<line x1="449.8" y1="508.4" x2="448" y2="503.7" stroke="#555555" stroke-width="1"/>
<line x1="434.9" y1="470.6" x2="436.1" y2="473.9" stroke="#333" stroke-opacity="0.5" stroke-width="0.9"/>
<line x1="422.2" y1="517.3" x2="421" y2="512.5" stroke="#555555" stroke-width="1"/>
<line x1="412.1" y1="478" x2="413" y2="481.4" stroke="#333" stroke-opacity="0.5" stroke-width="0.9"/>
<line x1="393.7" y1="522.8" x2="393.1" y2="517.8" stroke="#555555" stroke-width="1"/>
<line x1="388.7" y1="482.5" x2="389.1" y2="486" stroke="#333" stroke-opacity="0.5" stroke-width="0.9"/>
<line x1="364.8" y1="524.6" x2="364.8" y2="515.1" stroke="#555555" stroke-width="2.0"/>
<line x1="364.8" y1="484" x2="364.8" y2="494.5" stroke="#333" stroke-opacity="0.5" stroke-width="1.8"/>
<line x1="335.9" y1="522.8" x2="336.5" y2="517.8" stroke="#555555" stroke-width="1"/>
<line x1="340.9" y1="482.5" x2="340.5" y2="486" stroke="#333" stroke-opacity="0.5" stroke-width="0.9"/>
<line x1="307.4" y1="517.3" x2="308.6" y2="512.5" stroke="#555555" stroke-width="1"/>
<line x1="317.5" y1="478" x2="316.6" y2="481.4" stroke="#333" stroke-opacity="0.5" stroke-width="0.9"/>
<line x1="279.8" y1="508.4" x2="281.6" y2="503.7" stroke="#555555" stroke-width="1"/>
<line x1="294.7" y1="470.6" x2="293.5" y2="473.9" stroke="#333" stroke-opacity="0.5" stroke-width="0.9"/>
<line x1="253.6" y1="496" x2="256" y2="491.7" stroke="#555555" stroke-width="1"/>
<line x1="273.1" y1="460.5" x2="271.4" y2="463.5" stroke="#333" stroke-opacity="0.5" stroke-width="0.9"/>
<line x1="229.1" y1="480.5" x2="234.7" y2="472.8" stroke="#555555" stroke-width="2.0"/>
<line x1="252.9" y1="447.7" x2="246.8" y2="456.2" stroke="#333" stroke-opacity="0.5" stroke-width="1.8"/>
<line x1="206.7" y1="462" x2="210.2" y2="458.4" stroke="#555555" stroke-width="1"/>
<line x1="234.5" y1="432.4" x2="232.1" y2="435" stroke="#333" stroke-opacity="0.5" stroke-width="0.9"/>
<line x1="186.9" y1="440.9" x2="190.7" y2="437.7" stroke="#555555" stroke-width="1"/>
<line x1="218.2" y1="415" x2="215.5" y2="417.2" stroke="#333" stroke-opacity="0.5" stroke-width="0.9"/>
<line x1="169.8" y1="417.4" x2="174.1" y2="414.7" stroke="#555555" stroke-width="1"/>
<line x1="204.1" y1="395.7" x2="201.2" y2="397.5" stroke="#333" stroke-opacity="0.5" stroke-width="0.9"/>
<line x1="155.9" y1="392" x2="160.4" y2="389.9" stroke="#555555" stroke-width="1"/>
<line x1="192.6" y1="374.7" x2="189.4" y2="376.2" stroke="#333" stroke-opacity="0.5" stroke-width="0.9"/>
<line x1="145.2" y1="365.1" x2="154.2" y2="362.1" stroke="#555555" stroke-width="2.0"/>
<line x1="183.8" y1="352.5" x2="173.8" y2="355.8" stroke="#333" stroke-opacity="0.5" stroke-width="1.8"/>
<line x1="138" y1="337" x2="142.9" y2="336" stroke="#555555" stroke-width="1"/>
<line x1="177.9" y1="329.4" x2="174.4" y2="330" stroke="#333" stroke-opacity="0.5" stroke-width="0.9"/>
<line x1="134.4" y1="308.2" x2="139.3" y2="307.9" stroke="#555555" stroke-width="1"/>
<line x1="174.9" y1="305.6" x2="171.4" y2="305.9" stroke="#333" stroke-opacity="0.5" stroke-width="0.9"/>
<line x1="134.4" y1="279.2" x2="139.3" y2="279.5" stroke="#555555" stroke-width="1"/>
<line x1="174.9" y1="281.8" x2="171.4" y2="281.5" stroke="#333" stroke-opacity="0.5" stroke-width="0.9"/>
<line x1="138" y1="250.4" x2="142.9" y2="251.4" stroke="#555555" stroke-width="1"/>
<line x1="177.9" y1="258" x2="174.4" y2="257.4" stroke="#333" stroke-opacity="0.5" stroke-width="0.9"/>
<line x1="145.2" y1="222.3" x2="154.2" y2="225.3" stroke="#555555" stroke-width="2.0"/>
<line x1="183.8" y1="234.9" x2="173.8" y2="231.6" stroke="#333" stroke-opacity="0.5" stroke-width="1.8"/>
<line x1="155.9" y1="195.4" x2="160.4" y2="197.5" stroke="#555555" stroke-width="1"/>
<line x1="192.6" y1="212.7" x2="189.4" y2="211.2" stroke="#333" stroke-opacity="0.5" stroke-width="0.9"/>
<line x1="169.8" y1="170" x2="174.1" y2="172.7" stroke="#555555" stroke-width="1"/>
<line x1="204.1" y1="191.7" x2="201.2" y2="189.9" stroke="#333" stroke-opacity="0.5" stroke-width="0.9"/>
<line x1="186.9" y1="146.5" x2="190.7" y2="149.7" stroke="#555555" stroke-width="1"/>
<line x1="218.2" y1="172.4" x2="215.5" y2="170.2" stroke="#333" stroke-opacity="0.5" stroke-width="0.9"/>
<line x1="206.7" y1="125.4" x2="210.2" y2="129" stroke="#555555" stroke-width="1"/>
<line x1="234.5" y1="155" x2="232.1" y2="152.4" stroke="#333" stroke-opacity="0.5" stroke-width="0.9"/>
<line x1="229.1" y1="106.9" x2="234.7" y2="114.6" stroke="#555555" stroke-width="2.0"/>
<line x1="252.9" y1="139.7" x2="246.8" y2="131.2" stroke="#333" stroke-opacity="0.5" stroke-width="1.8"/>
<line x1="253.6" y1="91.4" x2="256" y2="95.7" stroke="#555555" stroke-width="1"/>
<line x1="273.1" y1="126.9" x2="271.4" y2="123.9" stroke="#333" stroke-opacity="0.5" stroke-width="0.9"/>
<line x1="279.8" y1="79" x2="281.6" y2="83.7" stroke="#555555" stroke-width="1"/>
<line x1="294.7" y1="116.8" x2="293.5" y2="113.5" stroke="#333" stroke-opacity="0.5" stroke-width="0.9"/>
<line x1="307.4" y1="70.1" x2="308.6" y2="74.9" stroke="#555555" stroke-width="1"/>
<line x1="317.5" y1="109.4" x2="316.6" y2="106" stroke="#333" stroke-opacity="0.5" stroke-width="0.9"/>
<line x1="335.9" y1="64.6" x2="336.5" y2="69.6" stroke="#555555" stroke-width="1"/>
<line x1="340.9" y1="104.9" x2="340.5" y2="101.4" stroke="#333" stroke-opacity="0.5" stroke-width="0.9"/>
<line x1="364.8" y1="293.7" x2="364.8" y2="103.39999999999998" stroke="#555555" stroke-width="2.2"/>
<line x1="364.8" y1="91.39999999999998" x2="364.8" y2="71.79999999999998" stroke="#ffffff" stroke-opacity="0.6" stroke-width="1.6"/>
<line x1="364.8" y1="104.39999999999998" x2="364.8" y2="91.39999999999998" stroke="#555555" stroke-width="2.4"/>
<line x1="364.8" y1="109.7" x2="369.3" y2="109.7" stroke="#555555" stroke-width="1.4"/>
<line x1="364.8" y1="125.3" x2="371.6" y2="125.3" stroke="#555555" stroke-width="1.6"/>
<line x1="364.8" y1="173.6" x2="375.3" y2="173.6" stroke="#555555" stroke-width="2.2"/>
<g font-family="'Liberation Sans', sans-serif" font-size="10.4" fill="#444">
<text x="372.8" y="117">10 kB</text><text x="375.3" y="131.8">100 kB</text><text x="379.6" y="180.5">1 MB</text>
</g>
<line x1="380.9" y1="195.1" x2="395.6" y2="106.6" stroke="#e3170f" stroke-width="2"/>
<g font-family="'Liberation Sans', sans-serif" font-size="11" fill="#3a3a3a" text-anchor="middle" stroke="#ffffff" stroke-opacity="0.45" stroke-width="1.2" paint-order="stroke">
<text x="364.8" y="82.1" dy="3.9" transform="rotate(0 364.8 82.1)">0%</text>
<text x="489.2" y="122.5" dy="3.9" transform="rotate(36 489.2 122.5)">10</text>
<text x="566" y="228.3" dy="3.9" transform="rotate(72 566 228.3)">20</text>
<text x="566" y="359.1" dy="3.9" transform="rotate(108 566 359.1)">30</text>
<text x="489.2" y="464.9" dy="3.9" transform="rotate(144 489.2 464.9)">40</text>
<text x="364.8" y="505.3" dy="3.9" transform="rotate(180 364.8 505.3)">50</text>
<text x="240.4" y="464.9" dy="3.9" transform="rotate(216 240.4 464.9)">60</text>
<text x="163.6" y="359.1" dy="3.9" transform="rotate(252 163.6 359.1)">70</text>
<text x="163.6" y="228.3" dy="3.9" transform="rotate(288 163.6 228.3)">80</text>
<text x="240.4" y="122.5" dy="3.9" transform="rotate(324 240.4 122.5)">90</text>
</g>
<circle cx="636.3" cy="151.7" r="39.3" fill="#ffffff"/>
<path d="M636.3,112.4A39.3,39.3 0 1 1 615.2,118.5L629.2,140.5A13.3,13.3 0 1 0 636.3,138.4Z" fill="#33a02c"/>
<path d="M636.3,112.4A39.3,39.3 0 0 1 645.6,113.5L639.4,138.8A13.3,13.3 0 0 0 636.3,138.4Z" fill="#1f6e1a"/>
<path d="M615.2,118.5A39.3,39.3 0 0 1 631.9,112.7L634.8,138.5A13.3,13.3 0 0 0 629.2,140.5Z" fill="#b2df8a"/>
<circle cx="636.3" cy="151.7" r="39.3" fill="none" stroke="#555555" stroke-width="2"/>
<circle cx="636.3" cy="151.7" r="13.3" fill="#ffffff" stroke="#555555" stroke-width="1.8"/>
<line x1="636.3" y1="112.4" x2="636.3" y2="104.9" stroke="#555555" stroke-width="2"/>
<line x1="648.4" y1="114.3" x2="649.7" y2="110.5" stroke="#555555" stroke-width="1"/>
<line x1="659.4" y1="119.9" x2="663.8" y2="113.8" stroke="#555555" stroke-width="2"/>
<line x1="668.1" y1="128.6" x2="671.3" y2="126.2" stroke="#555555" stroke-width="1"/>
<line x1="673.7" y1="139.6" x2="680.8" y2="137.2" stroke="#555555" stroke-width="2"/>
<line x1="675.6" y1="151.7" x2="679.6" y2="151.7" stroke="#555555" stroke-width="1"/>
<line x1="673.7" y1="163.8" x2="680.8" y2="166.2" stroke="#555555" stroke-width="2"/>
<line x1="668.1" y1="174.8" x2="671.3" y2="177.2" stroke="#555555" stroke-width="1"/>
<line x1="659.4" y1="183.5" x2="663.8" y2="189.6" stroke="#555555" stroke-width="2"/>
<line x1="648.4" y1="189.1" x2="649.7" y2="192.9" stroke="#555555" stroke-width="1"/>
<line x1="636.3" y1="191" x2="636.3" y2="198.5" stroke="#555555" stroke-width="2"/>
<line x1="624.2" y1="189.1" x2="622.9" y2="192.9" stroke="#555555" stroke-width="1"/>
<line x1="613.2" y1="183.5" x2="608.8" y2="189.6" stroke="#555555" stroke-width="2"/>
<line x1="604.5" y1="174.8" x2="601.3" y2="177.2" stroke="#555555" stroke-width="1"/>
<line x1="598.9" y1="163.8" x2="591.8" y2="166.2" stroke="#555555" stroke-width="2"/>
<line x1="597" y1="151.7" x2="593" y2="151.7" stroke="#555555" stroke-width="1"/>
<line x1="598.9" y1="139.6" x2="591.8" y2="137.2" stroke="#555555" stroke-width="2"/>
<line x1="604.5" y1="128.6" x2="601.3" y2="126.2" stroke="#555555" stroke-width="1"/>
<line x1="613.2" y1="119.9" x2="608.8" y2="113.8" stroke="#555555" stroke-width="2"/>
<line x1="624.2" y1="114.3" x2="622.9" y2="110.5" stroke="#555555" stroke-width="1"/>
<line x1="636.3" y1="138.4" x2="636.3" y2="104.9" stroke="#555555" stroke-width="1.5"/>
<g font-family="'Liberation Sans', sans-serif" font-size="11" fill="#333" text-anchor="middle">
<text x="636.3" y="99.2" dy="3.5" transform="rotate(0 636.3 99.2)">0%</text>
<text x="686.2" y="135.5" dy="3.5" transform="rotate(72 686.2 135.5)">20</text>
<text x="667.2" y="194.2" dy="3.5" transform="rotate(144 667.2 194.2)">40</text>
<text x="605.4" y="194.2" dy="3.5" transform="rotate(216 605.4 194.2)">60</text>
<text x="586.4" y="135.5" dy="3.5" transform="rotate(288 586.4 135.5)">80</text>
</g>
<g font-family="'Liberation Sans', sans-serif" fill="#000000">
<text transform="translate(18 24.3) scale(1 1.10)" font-size="22.7" font-weight="bold">Scaffolds statisics</text>
<rect x="1.5" y="37.2" width="14.6" height="15.8" fill="#cab2d6"/>
<text x="20" y="52.1" font-size="17.85">Log10 scaffold counts (14 617)</text>
<rect x="1.5" y="58.2" width="14.6" height="15.8" fill="#bdbdbd"/>
<text x="20" y="74.2" font-size="17.85">Scaffold length (total 278 MB)</text>
<rect x="1.5" y="83.2" width="14.6" height="15.8" fill="#e3170f"/>
<text x="20" y="98.0" font-size="17.85">Longest scaffold (7.3 MB)</text>
<rect x="1.5" y="110.0" width="14.6" height="15.8" fill="#ff7f00"/>
<text x="20" y="124.5" font-size="17.85">N50 length (997.7 kB)</text>
<rect x="1.5" y="134.8" width="14.6" height="15.8" fill="#fdbf6f"/>
<text x="20" y="148.9" font-size="17.85">N90 length<tspan dx='1.5'>(46.0 kB)</tspan></text>
<text transform="translate(498.5 17.8) scale(1 1.10)" font-size="22.6" font-weight="bold">BUSCO (n=2 675)</text>
<rect x="478.3" y="24.4" width="17.2" height="16.9" fill="#33a02c"/>
<text x="500.6" y="40.9" font-size="17.75">Comp (91.0%)</text>
<rect x="478.3" y="45.9" width="17.2" height="16.9" fill="#1f6e1a"/>
<text x="500.6" y="61.0" font-size="17.75">Dup. (3.8%)</text>
<rect x="478.3" y="67.9" width="17.2" height="16.9" fill="#b2df8a"/>
<text x="500.6" y="80.8" font-size="17.75">Frag. (7.2%)</text>
<text transform="translate(60.5 464.4) scale(1 1.05)" font-size="22.7" font-weight="bold">Scale</text>
<text x="63.6" y="494.5" font-size="17.8">277.7 MB</text>
<text x="64.6" y="517.8" font-size="17.8" xml:space="preserve">7.3  MB</text>
<text transform="translate(542 466.3) scale(1 1.01)" font-size="22.65" font-weight="bold">Assembly Base</text>
<text transform="translate(542 492.9) scale(1 1.01)" font-size="22.9" font-weight="bold">Composition</text>
<rect x="542.1" y="500.1" width="17.7" height="16" fill="#1f78b4"/>
<text x="565.8" y="516.4" font-size="17.95">GC (36.0%)</text>
<rect x="542.1" y="520.3" width="17.7" height="16" fill="#a6cee3"/>
<text x="565.8" y="537.4" font-size="17.95">AT (51.8%)</text>
<rect x="542.1" y="541" width="17.7" height="16" fill="#d9d9d9"/>
<text x="565.8" y="556.8" font-size="17.95">N (12.2%)</text>
</g>
<ellipse cx="48.1" cy="489.1" rx="10.3" ry="6.9" fill="none" stroke="#555555" stroke-width="2.4"/>
<line x1="47.5" y1="481.5" x2="47.5" y2="489" stroke="#888" stroke-width="0.9"/>
<ellipse cx="48" cy="514.9" rx="10.3" ry="6.8" fill="none" stroke="#999" stroke-width="0.8"/>
<line x1="47.7" y1="508" x2="47.7" y2="515" stroke="#555555" stroke-width="2"/></svg></body></html>
